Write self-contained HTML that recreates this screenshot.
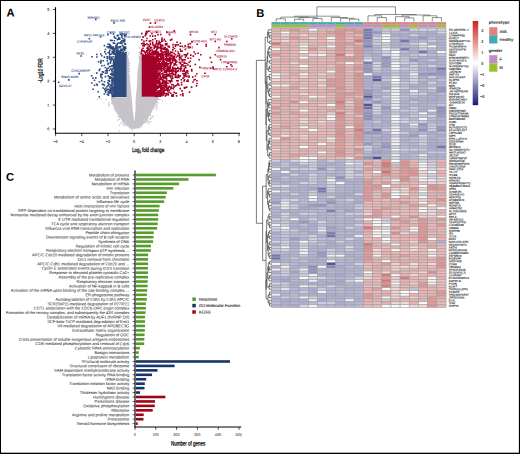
<!DOCTYPE html><html><head><meta charset="utf-8"><style>
html,body{margin:0;padding:0;background:#fff;}
body{width:520px;height:454px;overflow:hidden;position:relative;}
svg{position:absolute;left:0;top:0;}
text{font-family:"Liberation Sans", sans-serif;transform:rotate(0.03deg);text-rendering:geometricPrecision;}
.gp{text-rendering:geometricPrecision;}
</style></head><body>
<svg width="520" height="454" viewBox="0 0 520 454">
<rect x="0" y="0" width="520" height="454" fill="#fff"/>

<text x="6.6" y="16.6" font-size="11.2" font-weight="bold" fill="#000">A</text>
<text x="256.2" y="16.8" font-size="11.2" font-weight="bold" fill="#000">B</text>
<text x="6.2" y="180.8" font-size="11.2" font-weight="bold" fill="#000">C</text>
<polygon fill="#c6c4ca" points="126.6,57.0 127.8,55.0 128.9,60.0 128.9,72.0 130.6,87.0 131.9,100.0 132.7,110.0 134.3,122.0 135.6,110.0 135.5,100.0 136.9,87.0 137.5,72.0 139.3,60.0 140.3,52.0 141.7,51.0 141.7,96.8 157.5,96.8 158.5,98.0 157.5,101.0 155.5,105.0 153.5,108.5 151.8,112.0 149.5,116.0 147.0,120.0 144.0,123.5 141.5,126.0 138.5,128.2 134.3,129.0 130.0,128.2 127.0,126.0 124.5,123.5 121.5,120.0 119.0,116.0 116.5,112.0 114.5,108.5 112.8,105.0 111.2,101.0 110.8,97.2 126.6,97.2"/>
<path fill="#c6c4ca" d="M99.5 98.0h1.2v1.2h-1.2zM96.9 98.7h1.2v1.2h-1.2zM105.7 99.0h1.2v1.2h-1.2zM157.6 98.8h1.2v1.2h-1.2zM159.3 98.9h1.2v1.2h-1.2zM161.9 100.3h1.2v1.2h-1.2zM103.3 101.9h1.2v1.2h-1.2zM108.4 101.9h1.2v1.2h-1.2zM156.1 101.5h1.2v1.2h-1.2zM157.6 102.0h1.2v1.2h-1.2zM108.0 103.3h1.2v1.2h-1.2zM111.0 102.9h1.2v1.2h-1.2zM108.1 104.6h1.2v1.2h-1.2zM156.5 103.8h1.2v1.2h-1.2zM108.4 105.2h1.2v1.2h-1.2zM155.1 105.6h1.2v1.2h-1.2zM156.3 105.2h1.2v1.2h-1.2zM156.4 107.0h1.2v1.2h-1.2zM113.7 108.5h1.2v1.2h-1.2zM154.0 108.4h1.2v1.2h-1.2zM156.0 108.5h1.2v1.2h-1.2zM114.8 109.5h1.2v1.2h-1.2zM114.8 110.3h1.2v1.2h-1.2zM116.1 112.2h1.2v1.2h-1.2zM117.2 114.4h1.2v1.2h-1.2zM149.8 114.8h1.2v1.2h-1.2zM117.5 116.0h1.2v1.2h-1.2zM151.6 116.2h1.2v1.2h-1.2zM152.3 115.5h1.2v1.2h-1.2zM119.0 116.9h1.2v1.2h-1.2zM149.9 117.5h1.2v1.2h-1.2zM151.0 117.4h1.2v1.2h-1.2zM118.8 118.8h1.2v1.2h-1.2zM147.3 118.4h1.2v1.2h-1.2zM149.7 118.8h1.2v1.2h-1.2zM117.2 119.5h1.2v1.2h-1.2zM147.0 119.8h1.2v1.2h-1.2zM121.7 121.3h1.2v1.2h-1.2zM146.4 120.7h1.2v1.2h-1.2zM147.1 121.5h1.2v1.2h-1.2zM149.0 121.2h1.2v1.2h-1.2zM150.0 121.1h1.2v1.2h-1.2zM119.9 122.5h1.2v1.2h-1.2zM122.7 122.5h1.2v1.2h-1.2zM144.9 122.0h1.2v1.2h-1.2zM122.4 123.8h1.2v1.2h-1.2zM147.7 123.3h1.2v1.2h-1.2zM118.9 124.7h1.2v1.2h-1.2zM123.8 125.1h1.2v1.2h-1.2zM125.0 124.6h1.2v1.2h-1.2zM140.7 126.3h1.2v1.2h-1.2zM129.5 127.7h1.2v1.2h-1.2zM138.2 127.2h1.2v1.2h-1.2zM131.6 128.8h1.2v1.2h-1.2zM118.6 130.6h1.2v1.2h-1.2zM131.9 129.9h1.2v1.2h-1.2zM139.3 46.9h1.2v1.2h-1.2zM138.8 47.5h1.2v1.2h-1.2zM126.3 50.8h1.2v1.2h-1.2zM129.0 51.4h1.2v1.2h-1.2zM138.7 51.5h1.2v1.2h-1.2zM139.0 52.3h1.2v1.2h-1.2zM127.8 53.1h1.2v1.2h-1.2zM139.3 53.6h1.2v1.2h-1.2zM127.7 54.0h1.2v1.2h-1.2zM126.7 55.5h1.2v1.2h-1.2zM138.6 55.6h1.2v1.2h-1.2zM126.7 56.4h1.2v1.2h-1.2zM138.6 56.6h1.2v1.2h-1.2zM138.7 57.7h1.2v1.2h-1.2zM140.8 57.4h1.2v1.2h-1.2zM127.7 59.2h1.2v1.2h-1.2zM138.7 58.5h1.2v1.2h-1.2zM140.7 58.8h1.2v1.2h-1.2zM126.3 59.7h1.2v1.2h-1.2zM140.9 59.8h1.2v1.2h-1.2zM126.8 61.2h1.2v1.2h-1.2zM127.4 61.3h1.2v1.2h-1.2zM128.6 62.2h1.2v1.2h-1.2zM139.6 61.7h1.2v1.2h-1.2zM128.8 63.4h1.2v1.2h-1.2zM139.6 63.4h1.2v1.2h-1.2zM140.4 63.2h1.2v1.2h-1.2zM126.8 64.6h1.2v1.2h-1.2zM140.0 64.5h1.2v1.2h-1.2zM128.9 65.4h1.2v1.2h-1.2zM138.4 65.1h1.2v1.2h-1.2zM140.8 66.1h1.2v1.2h-1.2zM128.9 67.9h1.2v1.2h-1.2zM128.5 68.5h1.2v1.2h-1.2zM139.5 69.1h1.2v1.2h-1.2zM141.2 69.0h1.2v1.2h-1.2zM128.3 69.4h1.2v1.2h-1.2zM138.5 70.2h1.2v1.2h-1.2zM127.6 70.6h1.2v1.2h-1.2zM129.1 70.8h1.2v1.2h-1.2zM138.2 71.0h1.2v1.2h-1.2zM141.0 70.7h1.2v1.2h-1.2zM127.6 72.9h1.2v1.2h-1.2zM128.4 72.9h1.2v1.2h-1.2zM127.5 74.1h1.2v1.2h-1.2zM128.6 74.4h1.2v1.2h-1.2zM138.4 74.2h1.2v1.2h-1.2zM127.3 75.1h1.2v1.2h-1.2zM128.9 75.7h1.2v1.2h-1.2zM139.5 75.6h1.2v1.2h-1.2zM127.5 76.5h1.2v1.2h-1.2zM138.3 76.0h1.2v1.2h-1.2zM140.0 76.5h1.2v1.2h-1.2zM126.4 77.8h1.2v1.2h-1.2zM128.6 77.6h1.2v1.2h-1.2zM141.2 77.5h1.2v1.2h-1.2zM128.5 78.2h1.2v1.2h-1.2zM138.3 78.5h1.2v1.2h-1.2zM139.6 78.9h1.2v1.2h-1.2zM140.4 78.9h1.2v1.2h-1.2zM128.7 79.4h1.2v1.2h-1.2zM140.4 80.0h1.2v1.2h-1.2zM126.6 81.1h1.2v1.2h-1.2zM126.5 81.8h1.2v1.2h-1.2zM138.3 81.8h1.2v1.2h-1.2zM139.6 82.6h1.2v1.2h-1.2zM126.1 83.9h1.2v1.2h-1.2zM127.8 83.7h1.2v1.2h-1.2zM129.1 84.4h1.2v1.2h-1.2zM141.1 84.3h1.2v1.2h-1.2zM127.3 85.1h1.2v1.2h-1.2zM128.3 85.1h1.2v1.2h-1.2zM139.6 85.0h1.2v1.2h-1.2zM129.0 86.3h1.2v1.2h-1.2zM139.9 87.2h1.2v1.2h-1.2zM140.5 87.3h1.2v1.2h-1.2zM126.6 88.7h1.2v1.2h-1.2zM128.8 88.8h1.2v1.2h-1.2zM138.3 88.3h1.2v1.2h-1.2zM140.8 88.4h1.2v1.2h-1.2zM138.8 89.8h1.2v1.2h-1.2zM141.2 89.7h1.2v1.2h-1.2zM126.4 90.7h1.2v1.2h-1.2zM128.5 90.6h1.2v1.2h-1.2zM140.8 90.4h1.2v1.2h-1.2zM126.9 91.6h1.2v1.2h-1.2zM139.0 92.2h1.2v1.2h-1.2zM139.6 91.7h1.2v1.2h-1.2zM140.9 92.1h1.2v1.2h-1.2zM128.5 92.9h1.2v1.2h-1.2zM127.4 93.8h1.2v1.2h-1.2zM138.2 93.9h1.2v1.2h-1.2zM141.1 93.7h1.2v1.2h-1.2zM127.9 94.8h1.2v1.2h-1.2zM139.3 95.2h1.2v1.2h-1.2z"/>
<polygon fill="#2d4b7d" points="126.6,97.0 113.6,97.0 113.4,88.0 113.6,76.0 113.8,66.0 114.2,58.0 115.0,55.0 126.6,53.5"/>
<path fill="#2d4b7d" d="M109.8 32.2h1.6v1.6h-1.6zM112.7 33.2h1.6v1.6h-1.6zM119.6 33.4h1.6v1.6h-1.6zM121.5 33.1h1.6v1.6h-1.6zM123.4 33.5h1.6v1.6h-1.6zM125.2 33.6h1.6v1.6h-1.6zM116.5 34.8h1.6v1.6h-1.6zM117.5 34.6h1.6v1.6h-1.6zM120.9 34.6h1.6v1.6h-1.6zM123.7 35.1h1.6v1.6h-1.6zM124.8 34.9h1.6v1.6h-1.6zM113.6 35.7h1.6v1.6h-1.6zM121.1 36.3h1.6v1.6h-1.6zM113.7 37.0h1.6v1.6h-1.6zM114.9 37.4h1.6v1.6h-1.6zM117.8 37.0h1.6v1.6h-1.6zM119.0 37.5h1.6v1.6h-1.6zM116.6 38.8h1.6v1.6h-1.6zM117.8 38.5h1.6v1.6h-1.6zM118.9 38.4h1.6v1.6h-1.6zM123.9 38.6h1.6v1.6h-1.6zM109.8 39.6h1.6v1.6h-1.6zM111.4 39.7h1.6v1.6h-1.6zM113.6 39.9h1.6v1.6h-1.6zM121.2 39.9h1.6v1.6h-1.6zM122.8 39.7h1.6v1.6h-1.6zM123.9 39.9h1.6v1.6h-1.6zM120.2 40.9h1.6v1.6h-1.6zM122.4 41.2h1.6v1.6h-1.6zM123.6 41.0h1.6v1.6h-1.6zM112.6 42.3h1.6v1.6h-1.6zM113.9 42.5h1.6v1.6h-1.6zM117.2 42.4h1.6v1.6h-1.6zM118.8 42.2h1.6v1.6h-1.6zM120.1 42.4h1.6v1.6h-1.6zM121.1 42.4h1.6v1.6h-1.6zM107.2 43.4h1.6v1.6h-1.6zM108.7 43.6h1.6v1.6h-1.6zM116.4 43.3h1.6v1.6h-1.6zM124.0 43.1h1.6v1.6h-1.6zM124.7 43.3h1.6v1.6h-1.6zM103.6 44.8h1.6v1.6h-1.6zM109.0 44.5h1.6v1.6h-1.6zM109.8 44.7h1.6v1.6h-1.6zM115.1 44.8h1.6v1.6h-1.6zM115.9 44.5h1.6v1.6h-1.6zM121.5 44.6h1.6v1.6h-1.6zM106.3 45.9h1.6v1.6h-1.6zM107.2 46.0h1.6v1.6h-1.6zM108.9 45.7h1.6v1.6h-1.6zM110.3 45.8h1.6v1.6h-1.6zM112.3 45.9h1.6v1.6h-1.6zM115.2 46.3h1.6v1.6h-1.6zM116.1 45.8h1.6v1.6h-1.6zM117.3 46.2h1.6v1.6h-1.6zM118.9 46.1h1.6v1.6h-1.6zM119.7 46.1h1.6v1.6h-1.6zM122.7 45.8h1.6v1.6h-1.6zM123.5 46.1h1.6v1.6h-1.6zM124.7 46.2h1.6v1.6h-1.6zM107.6 47.0h1.6v1.6h-1.6zM108.7 47.0h1.6v1.6h-1.6zM110.1 47.4h1.6v1.6h-1.6zM111.1 47.0h1.6v1.6h-1.6zM112.5 47.5h1.6v1.6h-1.6zM114.0 47.6h1.6v1.6h-1.6zM115.1 47.4h1.6v1.6h-1.6zM116.1 47.3h1.6v1.6h-1.6zM118.7 46.9h1.6v1.6h-1.6zM122.6 47.4h1.6v1.6h-1.6zM123.7 47.4h1.6v1.6h-1.6zM125.0 47.6h1.6v1.6h-1.6zM104.7 48.7h1.6v1.6h-1.6zM111.4 48.4h1.6v1.6h-1.6zM112.4 48.6h1.6v1.6h-1.6zM113.4 48.2h1.6v1.6h-1.6zM115.2 48.6h1.6v1.6h-1.6zM117.2 48.4h1.6v1.6h-1.6zM120.1 48.4h1.6v1.6h-1.6zM121.3 48.5h1.6v1.6h-1.6zM122.3 48.6h1.6v1.6h-1.6zM123.8 48.3h1.6v1.6h-1.6zM109.0 49.6h1.6v1.6h-1.6zM112.7 49.8h1.6v1.6h-1.6zM113.5 50.1h1.6v1.6h-1.6zM116.0 49.8h1.6v1.6h-1.6zM117.2 50.0h1.6v1.6h-1.6zM119.1 49.9h1.6v1.6h-1.6zM119.9 49.4h1.6v1.6h-1.6zM121.3 49.9h1.6v1.6h-1.6zM124.0 49.6h1.6v1.6h-1.6zM104.0 51.1h1.6v1.6h-1.6zM108.6 51.2h1.6v1.6h-1.6zM111.4 50.8h1.6v1.6h-1.6zM112.3 51.0h1.6v1.6h-1.6zM113.5 50.7h1.6v1.6h-1.6zM115.2 50.6h1.6v1.6h-1.6zM116.3 50.7h1.6v1.6h-1.6zM117.8 51.3h1.6v1.6h-1.6zM118.5 51.2h1.6v1.6h-1.6zM119.7 51.0h1.6v1.6h-1.6zM122.4 50.7h1.6v1.6h-1.6zM107.4 52.0h1.6v1.6h-1.6zM108.4 52.0h1.6v1.6h-1.6zM111.4 52.4h1.6v1.6h-1.6zM112.5 52.0h1.6v1.6h-1.6zM113.9 52.4h1.6v1.6h-1.6zM115.3 52.5h1.6v1.6h-1.6zM116.3 52.1h1.6v1.6h-1.6zM117.6 52.5h1.6v1.6h-1.6zM119.1 51.9h1.6v1.6h-1.6zM119.7 52.0h1.6v1.6h-1.6zM120.9 52.1h1.6v1.6h-1.6zM122.7 51.9h1.6v1.6h-1.6zM124.0 52.4h1.6v1.6h-1.6zM125.3 51.9h1.6v1.6h-1.6zM95.9 53.7h1.6v1.6h-1.6zM100.0 53.2h1.6v1.6h-1.6zM105.0 53.2h1.6v1.6h-1.6zM109.0 53.6h1.6v1.6h-1.6zM110.2 53.4h1.6v1.6h-1.6zM112.8 53.2h1.6v1.6h-1.6zM113.6 53.4h1.6v1.6h-1.6zM114.7 53.3h1.6v1.6h-1.6zM116.4 53.3h1.6v1.6h-1.6zM117.3 53.3h1.6v1.6h-1.6zM118.7 53.6h1.6v1.6h-1.6zM120.2 53.3h1.6v1.6h-1.6zM121.2 53.2h1.6v1.6h-1.6zM122.8 53.6h1.6v1.6h-1.6zM123.5 53.7h1.6v1.6h-1.6zM124.7 53.8h1.6v1.6h-1.6zM100.9 54.9h1.6v1.6h-1.6zM91.1 55.9h1.6v1.6h-1.6zM96.0 56.2h1.6v1.6h-1.6zM103.6 56.3h1.6v1.6h-1.6zM106.4 55.9h1.6v1.6h-1.6zM108.5 55.6h1.6v1.6h-1.6zM110.2 56.2h1.6v1.6h-1.6zM112.3 55.9h1.6v1.6h-1.6zM106.4 57.4h1.6v1.6h-1.6zM108.5 57.3h1.6v1.6h-1.6zM111.0 57.3h1.6v1.6h-1.6zM108.7 58.5h1.6v1.6h-1.6zM109.8 58.3h1.6v1.6h-1.6zM111.2 58.2h1.6v1.6h-1.6zM112.2 58.4h1.6v1.6h-1.6zM100.2 59.8h1.6v1.6h-1.6zM102.5 59.9h1.6v1.6h-1.6zM106.5 59.8h1.6v1.6h-1.6zM110.3 60.0h1.6v1.6h-1.6zM112.5 59.5h1.6v1.6h-1.6zM97.8 61.0h1.6v1.6h-1.6zM100.2 60.9h1.6v1.6h-1.6zM109.7 61.2h1.6v1.6h-1.6zM112.8 61.1h1.6v1.6h-1.6zM99.9 62.1h1.6v1.6h-1.6zM107.4 62.5h1.6v1.6h-1.6zM109.6 62.5h1.6v1.6h-1.6zM112.7 62.3h1.6v1.6h-1.6zM107.2 63.6h1.6v1.6h-1.6zM112.7 63.7h1.6v1.6h-1.6zM101.0 65.0h1.6v1.6h-1.6zM103.5 64.7h1.6v1.6h-1.6zM111.0 65.0h1.6v1.6h-1.6zM112.6 64.6h1.6v1.6h-1.6zM108.8 65.8h1.6v1.6h-1.6zM109.9 66.0h1.6v1.6h-1.6zM112.4 66.2h1.6v1.6h-1.6zM104.7 66.9h1.6v1.6h-1.6zM107.4 67.5h1.6v1.6h-1.6zM99.0 68.4h1.6v1.6h-1.6zM106.0 68.5h1.6v1.6h-1.6zM109.7 68.2h1.6v1.6h-1.6zM111.4 68.5h1.6v1.6h-1.6zM112.6 68.1h1.6v1.6h-1.6zM98.5 69.6h1.6v1.6h-1.6zM104.8 70.0h1.6v1.6h-1.6zM106.4 69.7h1.6v1.6h-1.6zM108.6 69.7h1.6v1.6h-1.6zM110.9 69.4h1.6v1.6h-1.6zM101.5 70.9h1.6v1.6h-1.6zM102.7 71.3h1.6v1.6h-1.6zM106.2 71.0h1.6v1.6h-1.6zM111.3 70.7h1.6v1.6h-1.6zM112.2 70.7h1.6v1.6h-1.6zM95.9 72.3h1.6v1.6h-1.6zM104.8 72.4h1.6v1.6h-1.6zM106.2 72.1h1.6v1.6h-1.6zM111.1 72.4h1.6v1.6h-1.6zM112.4 72.5h1.6v1.6h-1.6zM100.0 73.5h1.6v1.6h-1.6zM101.4 73.6h1.6v1.6h-1.6zM109.9 73.3h1.6v1.6h-1.6zM111.2 73.2h1.6v1.6h-1.6zM112.8 73.2h1.6v1.6h-1.6zM90.9 75.0h1.6v1.6h-1.6zM100.2 74.8h1.6v1.6h-1.6zM107.4 75.0h1.6v1.6h-1.6zM111.3 74.7h1.6v1.6h-1.6zM112.5 74.9h1.6v1.6h-1.6zM100.1 76.1h1.6v1.6h-1.6zM104.7 75.8h1.6v1.6h-1.6zM108.4 76.1h1.6v1.6h-1.6zM109.9 76.2h1.6v1.6h-1.6zM92.2 77.3h1.6v1.6h-1.6zM95.0 77.1h1.6v1.6h-1.6zM101.3 77.2h1.6v1.6h-1.6zM108.8 77.4h1.6v1.6h-1.6zM109.9 77.3h1.6v1.6h-1.6zM111.2 76.9h1.6v1.6h-1.6zM112.6 77.6h1.6v1.6h-1.6zM111.2 78.7h1.6v1.6h-1.6zM112.5 78.2h1.6v1.6h-1.6zM93.7 79.5h1.6v1.6h-1.6zM101.0 79.8h1.6v1.6h-1.6zM107.5 79.8h1.6v1.6h-1.6zM108.6 79.6h1.6v1.6h-1.6zM111.1 79.5h1.6v1.6h-1.6zM112.7 79.4h1.6v1.6h-1.6zM98.7 81.0h1.6v1.6h-1.6zM103.7 80.9h1.6v1.6h-1.6zM108.9 80.7h1.6v1.6h-1.6zM111.2 81.1h1.6v1.6h-1.6zM112.2 80.9h1.6v1.6h-1.6zM90.9 82.2h1.6v1.6h-1.6zM107.2 82.1h1.6v1.6h-1.6zM111.4 81.9h1.6v1.6h-1.6zM95.9 83.5h1.6v1.6h-1.6zM101.6 83.6h1.6v1.6h-1.6zM102.6 83.5h1.6v1.6h-1.6zM107.8 83.5h1.6v1.6h-1.6zM108.6 83.4h1.6v1.6h-1.6zM110.9 83.6h1.6v1.6h-1.6zM112.7 83.2h1.6v1.6h-1.6zM93.7 84.5h1.6v1.6h-1.6zM96.5 84.5h1.6v1.6h-1.6zM103.5 84.6h1.6v1.6h-1.6zM107.5 84.9h1.6v1.6h-1.6zM109.8 84.4h1.6v1.6h-1.6zM111.3 84.7h1.6v1.6h-1.6zM106.3 85.8h1.6v1.6h-1.6zM109.1 86.1h1.6v1.6h-1.6zM111.1 86.2h1.6v1.6h-1.6zM112.8 85.9h1.6v1.6h-1.6zM102.4 87.2h1.6v1.6h-1.6zM104.9 87.4h1.6v1.6h-1.6zM109.9 87.4h1.6v1.6h-1.6zM111.3 87.6h1.6v1.6h-1.6zM112.5 87.5h1.6v1.6h-1.6zM92.3 88.5h1.6v1.6h-1.6zM103.9 88.6h1.6v1.6h-1.6zM106.5 88.7h1.6v1.6h-1.6zM107.5 88.6h1.6v1.6h-1.6zM108.4 88.7h1.6v1.6h-1.6zM110.0 88.4h1.6v1.6h-1.6zM112.4 88.8h1.6v1.6h-1.6zM104.7 90.0h1.6v1.6h-1.6zM105.9 89.4h1.6v1.6h-1.6zM108.9 89.9h1.6v1.6h-1.6zM110.1 89.7h1.6v1.6h-1.6zM111.1 89.4h1.6v1.6h-1.6zM112.3 89.6h1.6v1.6h-1.6zM97.4 91.0h1.6v1.6h-1.6zM104.8 91.3h1.6v1.6h-1.6zM107.5 91.1h1.6v1.6h-1.6zM109.6 90.9h1.6v1.6h-1.6zM110.9 91.1h1.6v1.6h-1.6zM112.2 91.2h1.6v1.6h-1.6zM107.8 92.0h1.6v1.6h-1.6zM109.0 92.1h1.6v1.6h-1.6zM110.2 92.1h1.6v1.6h-1.6zM112.7 92.0h1.6v1.6h-1.6zM103.5 93.2h1.6v1.6h-1.6zM106.5 93.4h1.6v1.6h-1.6zM107.6 93.8h1.6v1.6h-1.6zM111.2 93.3h1.6v1.6h-1.6zM112.7 93.5h1.6v1.6h-1.6zM107.6 94.4h1.6v1.6h-1.6zM111.4 94.9h1.6v1.6h-1.6zM112.5 94.7h1.6v1.6h-1.6zM98.5 95.9h1.6v1.6h-1.6zM111.5 95.7h1.6v1.6h-1.6zM112.5 96.0h1.6v1.6h-1.6z"/>
<polygon fill="#a50229" points="141.7,96.8 156.0,96.8 157.0,85.0 158.0,70.0 156.5,60.0 154.0,55.5 141.7,54.5"/>
<path fill="#a50229" d="M148.1 30.3h1.6v1.6h-1.6zM173.4 30.1h1.6v1.6h-1.6zM146.1 31.8h1.6v1.6h-1.6zM155.8 31.6h1.6v1.6h-1.6zM166.0 31.3h1.6v1.6h-1.6zM141.0 32.8h1.6v1.6h-1.6zM144.9 32.6h1.6v1.6h-1.6zM145.6 32.8h1.6v1.6h-1.6zM151.2 33.0h1.6v1.6h-1.6zM144.9 33.8h1.6v1.6h-1.6zM157.3 33.8h1.6v1.6h-1.6zM160.0 33.7h1.6v1.6h-1.6zM144.5 34.9h1.6v1.6h-1.6zM149.4 35.2h1.6v1.6h-1.6zM151.9 35.3h1.6v1.6h-1.6zM154.5 35.1h1.6v1.6h-1.6zM142.5 36.3h1.6v1.6h-1.6zM146.2 37.7h1.6v1.6h-1.6zM154.5 38.0h1.6v1.6h-1.6zM161.3 37.4h1.6v1.6h-1.6zM141.1 38.9h1.6v1.6h-1.6zM152.0 38.9h1.6v1.6h-1.6zM161.0 39.1h1.6v1.6h-1.6zM163.5 38.8h1.6v1.6h-1.6zM169.7 39.3h1.6v1.6h-1.6zM171.0 38.6h1.6v1.6h-1.6zM143.1 40.4h1.6v1.6h-1.6zM145.6 39.9h1.6v1.6h-1.6zM148.5 40.3h1.6v1.6h-1.6zM149.9 40.0h1.6v1.6h-1.6zM155.9 40.1h1.6v1.6h-1.6zM158.3 40.4h1.6v1.6h-1.6zM161.2 40.3h1.6v1.6h-1.6zM161.8 40.5h1.6v1.6h-1.6zM164.8 40.4h1.6v1.6h-1.6zM151.9 41.6h1.6v1.6h-1.6zM155.7 41.7h1.6v1.6h-1.6zM158.2 41.7h1.6v1.6h-1.6zM159.7 41.7h1.6v1.6h-1.6zM176.2 41.5h1.6v1.6h-1.6zM191.2 41.1h1.6v1.6h-1.6zM141.0 42.9h1.6v1.6h-1.6zM142.1 42.4h1.6v1.6h-1.6zM143.3 42.6h1.6v1.6h-1.6zM146.0 42.9h1.6v1.6h-1.6zM149.5 42.4h1.6v1.6h-1.6zM151.9 42.9h1.6v1.6h-1.6zM155.7 42.9h1.6v1.6h-1.6zM157.0 42.9h1.6v1.6h-1.6zM158.7 42.5h1.6v1.6h-1.6zM164.7 42.9h1.6v1.6h-1.6zM166.0 42.7h1.6v1.6h-1.6zM179.5 42.5h1.6v1.6h-1.6zM189.5 42.8h1.6v1.6h-1.6zM143.1 44.2h1.6v1.6h-1.6zM144.8 43.9h1.6v1.6h-1.6zM147.2 44.0h1.6v1.6h-1.6zM149.6 44.0h1.6v1.6h-1.6zM152.2 44.1h1.6v1.6h-1.6zM154.6 43.8h1.6v1.6h-1.6zM157.5 43.6h1.6v1.6h-1.6zM159.4 43.8h1.6v1.6h-1.6zM161.2 44.2h1.6v1.6h-1.6zM164.8 44.2h1.6v1.6h-1.6zM166.1 43.6h1.6v1.6h-1.6zM172.2 43.8h1.6v1.6h-1.6zM174.6 43.9h1.6v1.6h-1.6zM175.9 44.2h1.6v1.6h-1.6zM177.5 44.0h1.6v1.6h-1.6zM142.1 45.0h1.6v1.6h-1.6zM143.4 45.2h1.6v1.6h-1.6zM148.4 45.3h1.6v1.6h-1.6zM153.7 45.1h1.6v1.6h-1.6zM154.9 45.0h1.6v1.6h-1.6zM156.9 45.2h1.6v1.6h-1.6zM159.9 45.1h1.6v1.6h-1.6zM162.0 45.0h1.6v1.6h-1.6zM167.3 45.6h1.6v1.6h-1.6zM168.3 45.5h1.6v1.6h-1.6zM174.6 45.3h1.6v1.6h-1.6zM179.4 45.4h1.6v1.6h-1.6zM181.3 45.5h1.6v1.6h-1.6zM184.4 45.1h1.6v1.6h-1.6zM187.5 45.5h1.6v1.6h-1.6zM146.9 46.4h1.6v1.6h-1.6zM149.4 46.4h1.6v1.6h-1.6zM150.8 46.8h1.6v1.6h-1.6zM153.4 46.3h1.6v1.6h-1.6zM154.3 46.2h1.6v1.6h-1.6zM155.7 46.6h1.6v1.6h-1.6zM157.4 46.7h1.6v1.6h-1.6zM158.6 46.8h1.6v1.6h-1.6zM159.7 46.4h1.6v1.6h-1.6zM160.8 46.2h1.6v1.6h-1.6zM163.4 46.8h1.6v1.6h-1.6zM164.5 46.8h1.6v1.6h-1.6zM168.5 46.4h1.6v1.6h-1.6zM172.4 46.6h1.6v1.6h-1.6zM188.2 46.8h1.6v1.6h-1.6zM189.4 46.5h1.6v1.6h-1.6zM142.2 47.4h1.6v1.6h-1.6zM146.3 47.5h1.6v1.6h-1.6zM147.3 47.6h1.6v1.6h-1.6zM149.5 47.9h1.6v1.6h-1.6zM153.4 47.7h1.6v1.6h-1.6zM156.2 47.9h1.6v1.6h-1.6zM157.0 47.6h1.6v1.6h-1.6zM159.8 48.0h1.6v1.6h-1.6zM161.2 47.6h1.6v1.6h-1.6zM161.9 47.9h1.6v1.6h-1.6zM163.7 47.7h1.6v1.6h-1.6zM166.0 47.9h1.6v1.6h-1.6zM173.7 47.7h1.6v1.6h-1.6zM141.0 48.7h1.6v1.6h-1.6zM146.9 49.2h1.6v1.6h-1.6zM148.2 48.8h1.6v1.6h-1.6zM151.2 49.1h1.6v1.6h-1.6zM155.8 49.1h1.6v1.6h-1.6zM160.7 49.1h1.6v1.6h-1.6zM163.1 48.6h1.6v1.6h-1.6zM164.5 48.8h1.6v1.6h-1.6zM165.7 48.9h1.6v1.6h-1.6zM167.0 48.9h1.6v1.6h-1.6zM172.0 49.1h1.6v1.6h-1.6zM179.5 48.6h1.6v1.6h-1.6zM184.6 48.7h1.6v1.6h-1.6zM141.0 49.9h1.6v1.6h-1.6zM142.5 50.0h1.6v1.6h-1.6zM143.2 50.3h1.6v1.6h-1.6zM145.8 50.1h1.6v1.6h-1.6zM146.9 49.9h1.6v1.6h-1.6zM148.8 50.0h1.6v1.6h-1.6zM149.5 49.9h1.6v1.6h-1.6zM151.9 50.4h1.6v1.6h-1.6zM153.2 50.5h1.6v1.6h-1.6zM154.9 50.1h1.6v1.6h-1.6zM155.8 50.1h1.6v1.6h-1.6zM159.8 50.0h1.6v1.6h-1.6zM160.6 50.3h1.6v1.6h-1.6zM165.7 49.9h1.6v1.6h-1.6zM167.5 50.2h1.6v1.6h-1.6zM174.8 50.2h1.6v1.6h-1.6zM179.9 50.5h1.6v1.6h-1.6zM181.2 50.3h1.6v1.6h-1.6zM140.6 51.2h1.6v1.6h-1.6zM143.7 51.2h1.6v1.6h-1.6zM144.9 51.4h1.6v1.6h-1.6zM146.1 51.3h1.6v1.6h-1.6zM148.7 51.5h1.6v1.6h-1.6zM151.2 51.3h1.6v1.6h-1.6zM152.3 51.5h1.6v1.6h-1.6zM153.6 51.3h1.6v1.6h-1.6zM154.8 51.5h1.6v1.6h-1.6zM155.9 51.8h1.6v1.6h-1.6zM157.5 51.2h1.6v1.6h-1.6zM161.1 51.3h1.6v1.6h-1.6zM162.1 51.6h1.6v1.6h-1.6zM163.7 51.1h1.6v1.6h-1.6zM164.6 51.4h1.6v1.6h-1.6zM165.6 51.3h1.6v1.6h-1.6zM167.3 51.4h1.6v1.6h-1.6zM169.6 51.2h1.6v1.6h-1.6zM171.2 51.4h1.6v1.6h-1.6zM172.0 51.7h1.6v1.6h-1.6zM177.3 51.2h1.6v1.6h-1.6zM193.3 51.2h1.6v1.6h-1.6zM140.7 53.0h1.6v1.6h-1.6zM144.6 52.8h1.6v1.6h-1.6zM147.1 52.4h1.6v1.6h-1.6zM148.2 52.9h1.6v1.6h-1.6zM149.7 52.7h1.6v1.6h-1.6zM151.1 52.7h1.6v1.6h-1.6zM152.3 53.1h1.6v1.6h-1.6zM153.8 52.4h1.6v1.6h-1.6zM155.0 53.1h1.6v1.6h-1.6zM156.1 52.8h1.6v1.6h-1.6zM157.4 52.8h1.6v1.6h-1.6zM158.4 52.9h1.6v1.6h-1.6zM159.7 52.9h1.6v1.6h-1.6zM160.6 52.4h1.6v1.6h-1.6zM162.1 53.0h1.6v1.6h-1.6zM164.6 52.7h1.6v1.6h-1.6zM166.2 52.8h1.6v1.6h-1.6zM167.3 52.6h1.6v1.6h-1.6zM168.1 52.8h1.6v1.6h-1.6zM169.8 52.8h1.6v1.6h-1.6zM173.6 52.8h1.6v1.6h-1.6zM177.5 52.9h1.6v1.6h-1.6zM186.9 52.7h1.6v1.6h-1.6zM194.6 53.0h1.6v1.6h-1.6zM197.3 52.5h1.6v1.6h-1.6zM142.2 53.7h1.6v1.6h-1.6zM144.9 53.7h1.6v1.6h-1.6zM145.8 54.0h1.6v1.6h-1.6zM147.4 54.3h1.6v1.6h-1.6zM148.7 53.7h1.6v1.6h-1.6zM149.5 53.8h1.6v1.6h-1.6zM151.0 53.9h1.6v1.6h-1.6zM152.5 54.1h1.6v1.6h-1.6zM153.7 53.8h1.6v1.6h-1.6zM155.6 54.2h1.6v1.6h-1.6zM157.1 54.0h1.6v1.6h-1.6zM158.4 53.9h1.6v1.6h-1.6zM159.7 53.9h1.6v1.6h-1.6zM161.1 53.9h1.6v1.6h-1.6zM162.4 53.9h1.6v1.6h-1.6zM163.3 53.8h1.6v1.6h-1.6zM164.6 53.7h1.6v1.6h-1.6zM166.0 53.7h1.6v1.6h-1.6zM166.9 53.8h1.6v1.6h-1.6zM168.5 54.2h1.6v1.6h-1.6zM171.1 54.2h1.6v1.6h-1.6zM174.8 54.0h1.6v1.6h-1.6zM178.7 53.6h1.6v1.6h-1.6zM183.5 53.9h1.6v1.6h-1.6zM184.6 54.1h1.6v1.6h-1.6zM186.2 53.7h1.6v1.6h-1.6zM190.0 54.3h1.6v1.6h-1.6zM200.0 53.9h1.6v1.6h-1.6zM155.7 55.3h1.6v1.6h-1.6zM157.4 55.4h1.6v1.6h-1.6zM158.3 54.9h1.6v1.6h-1.6zM159.4 55.4h1.6v1.6h-1.6zM160.6 55.6h1.6v1.6h-1.6zM162.2 54.9h1.6v1.6h-1.6zM164.8 55.5h1.6v1.6h-1.6zM165.6 54.9h1.6v1.6h-1.6zM167.3 55.2h1.6v1.6h-1.6zM169.7 55.0h1.6v1.6h-1.6zM171.3 55.5h1.6v1.6h-1.6zM172.4 55.4h1.6v1.6h-1.6zM173.2 55.4h1.6v1.6h-1.6zM176.9 55.1h1.6v1.6h-1.6zM178.8 55.1h1.6v1.6h-1.6zM181.2 55.2h1.6v1.6h-1.6zM185.6 55.1h1.6v1.6h-1.6zM192.5 55.3h1.6v1.6h-1.6zM154.5 56.2h1.6v1.6h-1.6zM155.8 56.3h1.6v1.6h-1.6zM157.4 56.5h1.6v1.6h-1.6zM160.0 56.7h1.6v1.6h-1.6zM161.1 56.7h1.6v1.6h-1.6zM162.4 56.4h1.6v1.6h-1.6zM163.2 56.8h1.6v1.6h-1.6zM165.9 56.2h1.6v1.6h-1.6zM168.7 56.6h1.6v1.6h-1.6zM169.8 56.7h1.6v1.6h-1.6zM172.2 56.8h1.6v1.6h-1.6zM173.6 56.5h1.6v1.6h-1.6zM175.6 56.2h1.6v1.6h-1.6zM178.7 56.8h1.6v1.6h-1.6zM179.9 56.5h1.6v1.6h-1.6zM184.6 56.4h1.6v1.6h-1.6zM209.5 56.8h1.6v1.6h-1.6zM154.7 57.5h1.6v1.6h-1.6zM156.2 58.0h1.6v1.6h-1.6zM157.4 57.4h1.6v1.6h-1.6zM158.8 58.0h1.6v1.6h-1.6zM159.8 57.6h1.6v1.6h-1.6zM160.8 57.5h1.6v1.6h-1.6zM162.3 57.8h1.6v1.6h-1.6zM164.9 58.0h1.6v1.6h-1.6zM165.7 57.5h1.6v1.6h-1.6zM167.1 57.9h1.6v1.6h-1.6zM168.4 57.4h1.6v1.6h-1.6zM169.4 57.9h1.6v1.6h-1.6zM170.7 57.9h1.6v1.6h-1.6zM172.2 57.8h1.6v1.6h-1.6zM173.4 57.9h1.6v1.6h-1.6zM180.0 57.4h1.6v1.6h-1.6zM187.3 57.4h1.6v1.6h-1.6zM189.8 57.4h1.6v1.6h-1.6zM154.8 59.2h1.6v1.6h-1.6zM155.7 59.1h1.6v1.6h-1.6zM156.9 58.6h1.6v1.6h-1.6zM158.3 58.7h1.6v1.6h-1.6zM159.5 58.6h1.6v1.6h-1.6zM160.6 58.9h1.6v1.6h-1.6zM162.3 59.0h1.6v1.6h-1.6zM163.2 58.7h1.6v1.6h-1.6zM165.0 59.2h1.6v1.6h-1.6zM166.0 59.1h1.6v1.6h-1.6zM167.0 59.2h1.6v1.6h-1.6zM168.3 58.8h1.6v1.6h-1.6zM169.7 59.3h1.6v1.6h-1.6zM171.9 58.8h1.6v1.6h-1.6zM173.2 59.1h1.6v1.6h-1.6zM174.7 58.8h1.6v1.6h-1.6zM178.6 58.8h1.6v1.6h-1.6zM180.9 58.8h1.6v1.6h-1.6zM181.9 59.3h1.6v1.6h-1.6zM183.3 58.9h1.6v1.6h-1.6zM184.5 58.9h1.6v1.6h-1.6zM198.4 58.9h1.6v1.6h-1.6zM219.7 58.8h1.6v1.6h-1.6zM154.5 60.4h1.6v1.6h-1.6zM155.8 60.2h1.6v1.6h-1.6zM157.1 59.9h1.6v1.6h-1.6zM158.2 60.5h1.6v1.6h-1.6zM159.5 60.2h1.6v1.6h-1.6zM162.2 60.2h1.6v1.6h-1.6zM163.3 60.5h1.6v1.6h-1.6zM166.2 59.9h1.6v1.6h-1.6zM166.8 60.2h1.6v1.6h-1.6zM168.4 60.5h1.6v1.6h-1.6zM169.3 59.9h1.6v1.6h-1.6zM171.9 60.0h1.6v1.6h-1.6zM174.4 60.3h1.6v1.6h-1.6zM176.0 60.6h1.6v1.6h-1.6zM189.5 60.4h1.6v1.6h-1.6zM154.8 61.8h1.6v1.6h-1.6zM155.6 61.6h1.6v1.6h-1.6zM157.4 61.2h1.6v1.6h-1.6zM158.7 61.7h1.6v1.6h-1.6zM161.0 61.8h1.6v1.6h-1.6zM161.9 61.2h1.6v1.6h-1.6zM163.1 61.1h1.6v1.6h-1.6zM164.8 61.7h1.6v1.6h-1.6zM165.7 61.8h1.6v1.6h-1.6zM169.7 61.6h1.6v1.6h-1.6zM170.7 61.8h1.6v1.6h-1.6zM171.8 61.4h1.6v1.6h-1.6zM174.9 61.3h1.6v1.6h-1.6zM175.8 61.2h1.6v1.6h-1.6zM178.6 61.7h1.6v1.6h-1.6zM179.3 61.5h1.6v1.6h-1.6zM181.2 61.2h1.6v1.6h-1.6zM183.3 61.3h1.6v1.6h-1.6zM188.3 61.7h1.6v1.6h-1.6zM210.7 61.4h1.6v1.6h-1.6zM155.0 62.7h1.6v1.6h-1.6zM155.7 62.8h1.6v1.6h-1.6zM157.4 63.0h1.6v1.6h-1.6zM158.3 62.5h1.6v1.6h-1.6zM159.6 63.0h1.6v1.6h-1.6zM161.0 62.9h1.6v1.6h-1.6zM162.0 62.7h1.6v1.6h-1.6zM163.2 62.9h1.6v1.6h-1.6zM164.4 62.5h1.6v1.6h-1.6zM165.9 62.6h1.6v1.6h-1.6zM167.3 63.1h1.6v1.6h-1.6zM168.6 62.7h1.6v1.6h-1.6zM169.7 62.4h1.6v1.6h-1.6zM170.6 62.9h1.6v1.6h-1.6zM173.3 62.9h1.6v1.6h-1.6zM174.6 63.0h1.6v1.6h-1.6zM179.6 62.9h1.6v1.6h-1.6zM183.4 62.5h1.6v1.6h-1.6zM184.4 62.5h1.6v1.6h-1.6zM185.9 62.7h1.6v1.6h-1.6zM227.3 62.4h1.6v1.6h-1.6zM154.6 64.2h1.6v1.6h-1.6zM155.8 63.7h1.6v1.6h-1.6zM157.5 64.2h1.6v1.6h-1.6zM158.3 63.9h1.6v1.6h-1.6zM159.4 63.8h1.6v1.6h-1.6zM161.1 64.1h1.6v1.6h-1.6zM162.3 63.6h1.6v1.6h-1.6zM163.3 63.8h1.6v1.6h-1.6zM164.6 63.9h1.6v1.6h-1.6zM166.2 64.3h1.6v1.6h-1.6zM167.0 63.9h1.6v1.6h-1.6zM169.8 64.1h1.6v1.6h-1.6zM173.4 64.3h1.6v1.6h-1.6zM174.4 63.7h1.6v1.6h-1.6zM175.7 64.2h1.6v1.6h-1.6zM181.1 63.7h1.6v1.6h-1.6zM182.1 64.1h1.6v1.6h-1.6zM187.2 64.2h1.6v1.6h-1.6zM194.5 63.7h1.6v1.6h-1.6zM154.5 65.3h1.6v1.6h-1.6zM156.0 65.3h1.6v1.6h-1.6zM157.5 65.5h1.6v1.6h-1.6zM158.3 65.0h1.6v1.6h-1.6zM159.9 65.4h1.6v1.6h-1.6zM161.0 65.5h1.6v1.6h-1.6zM162.3 65.5h1.6v1.6h-1.6zM163.6 65.5h1.6v1.6h-1.6zM164.8 65.1h1.6v1.6h-1.6zM166.2 65.6h1.6v1.6h-1.6zM168.7 65.5h1.6v1.6h-1.6zM169.5 64.9h1.6v1.6h-1.6zM180.9 65.3h1.6v1.6h-1.6zM183.2 65.3h1.6v1.6h-1.6zM184.9 65.0h1.6v1.6h-1.6zM189.4 65.3h1.6v1.6h-1.6zM231.2 65.5h1.6v1.6h-1.6zM154.7 66.3h1.6v1.6h-1.6zM155.7 66.6h1.6v1.6h-1.6zM157.1 66.8h1.6v1.6h-1.6zM158.4 66.4h1.6v1.6h-1.6zM159.6 66.7h1.6v1.6h-1.6zM160.7 66.4h1.6v1.6h-1.6zM163.1 66.4h1.6v1.6h-1.6zM164.3 66.8h1.6v1.6h-1.6zM167.2 66.3h1.6v1.6h-1.6zM168.3 66.2h1.6v1.6h-1.6zM169.6 66.6h1.6v1.6h-1.6zM172.1 66.2h1.6v1.6h-1.6zM176.9 66.7h1.6v1.6h-1.6zM179.8 66.2h1.6v1.6h-1.6zM185.0 66.8h1.6v1.6h-1.6zM154.9 67.5h1.6v1.6h-1.6zM157.2 68.0h1.6v1.6h-1.6zM158.4 67.5h1.6v1.6h-1.6zM159.7 67.4h1.6v1.6h-1.6zM161.2 67.7h1.6v1.6h-1.6zM162.3 67.7h1.6v1.6h-1.6zM164.3 67.5h1.6v1.6h-1.6zM166.2 67.6h1.6v1.6h-1.6zM167.5 67.5h1.6v1.6h-1.6zM168.7 68.0h1.6v1.6h-1.6zM169.6 67.5h1.6v1.6h-1.6zM171.9 67.6h1.6v1.6h-1.6zM173.6 67.6h1.6v1.6h-1.6zM174.5 67.6h1.6v1.6h-1.6zM175.8 67.9h1.6v1.6h-1.6zM177.3 67.6h1.6v1.6h-1.6zM178.2 68.0h1.6v1.6h-1.6zM179.5 68.0h1.6v1.6h-1.6zM180.7 67.6h1.6v1.6h-1.6zM183.7 67.5h1.6v1.6h-1.6zM209.9 67.4h1.6v1.6h-1.6zM212.4 67.8h1.6v1.6h-1.6zM154.7 69.1h1.6v1.6h-1.6zM156.2 69.2h1.6v1.6h-1.6zM157.0 68.9h1.6v1.6h-1.6zM158.4 68.8h1.6v1.6h-1.6zM159.5 69.1h1.6v1.6h-1.6zM160.6 69.0h1.6v1.6h-1.6zM162.5 68.8h1.6v1.6h-1.6zM163.7 68.7h1.6v1.6h-1.6zM165.8 69.3h1.6v1.6h-1.6zM167.0 68.8h1.6v1.6h-1.6zM168.5 68.8h1.6v1.6h-1.6zM169.5 69.2h1.6v1.6h-1.6zM171.0 69.3h1.6v1.6h-1.6zM172.5 69.0h1.6v1.6h-1.6zM174.8 69.1h1.6v1.6h-1.6zM180.0 69.0h1.6v1.6h-1.6zM183.3 68.7h1.6v1.6h-1.6zM190.9 68.7h1.6v1.6h-1.6zM155.0 70.1h1.6v1.6h-1.6zM155.9 70.3h1.6v1.6h-1.6zM156.8 70.4h1.6v1.6h-1.6zM160.9 70.5h1.6v1.6h-1.6zM163.7 70.4h1.6v1.6h-1.6zM164.6 69.9h1.6v1.6h-1.6zM165.9 70.4h1.6v1.6h-1.6zM167.3 70.3h1.6v1.6h-1.6zM168.5 70.2h1.6v1.6h-1.6zM169.6 70.5h1.6v1.6h-1.6zM171.2 70.4h1.6v1.6h-1.6zM172.3 70.1h1.6v1.6h-1.6zM173.4 70.4h1.6v1.6h-1.6zM174.8 70.0h1.6v1.6h-1.6zM176.0 70.6h1.6v1.6h-1.6zM177.5 70.1h1.6v1.6h-1.6zM179.8 70.2h1.6v1.6h-1.6zM182.1 70.3h1.6v1.6h-1.6zM183.8 70.3h1.6v1.6h-1.6zM186.1 70.0h1.6v1.6h-1.6zM187.1 70.2h1.6v1.6h-1.6zM191.0 70.1h1.6v1.6h-1.6zM154.9 71.6h1.6v1.6h-1.6zM155.6 71.8h1.6v1.6h-1.6zM158.7 71.2h1.6v1.6h-1.6zM159.4 71.6h1.6v1.6h-1.6zM163.6 71.5h1.6v1.6h-1.6zM164.9 71.5h1.6v1.6h-1.6zM165.8 71.6h1.6v1.6h-1.6zM168.5 71.2h1.6v1.6h-1.6zM171.2 71.5h1.6v1.6h-1.6zM174.6 71.3h1.6v1.6h-1.6zM175.6 71.3h1.6v1.6h-1.6zM184.7 71.8h1.6v1.6h-1.6zM186.1 71.6h1.6v1.6h-1.6zM154.5 72.9h1.6v1.6h-1.6zM157.3 72.4h1.6v1.6h-1.6zM158.7 72.5h1.6v1.6h-1.6zM160.8 73.0h1.6v1.6h-1.6zM162.0 72.6h1.6v1.6h-1.6zM165.9 72.8h1.6v1.6h-1.6zM168.6 73.1h1.6v1.6h-1.6zM169.6 73.0h1.6v1.6h-1.6zM170.8 73.0h1.6v1.6h-1.6zM172.3 72.6h1.6v1.6h-1.6zM174.9 72.7h1.6v1.6h-1.6zM182.2 72.8h1.6v1.6h-1.6zM183.5 73.0h1.6v1.6h-1.6zM184.7 73.0h1.6v1.6h-1.6zM187.2 72.7h1.6v1.6h-1.6zM196.0 73.0h1.6v1.6h-1.6zM154.8 73.7h1.6v1.6h-1.6zM156.1 73.9h1.6v1.6h-1.6zM157.3 73.6h1.6v1.6h-1.6zM158.2 73.9h1.6v1.6h-1.6zM159.6 74.2h1.6v1.6h-1.6zM162.4 74.0h1.6v1.6h-1.6zM163.6 73.7h1.6v1.6h-1.6zM164.8 73.7h1.6v1.6h-1.6zM166.0 74.2h1.6v1.6h-1.6zM167.2 74.1h1.6v1.6h-1.6zM168.4 74.1h1.6v1.6h-1.6zM172.3 73.8h1.6v1.6h-1.6zM173.6 73.8h1.6v1.6h-1.6zM174.9 73.7h1.6v1.6h-1.6zM177.3 74.2h1.6v1.6h-1.6zM183.2 74.1h1.6v1.6h-1.6zM185.0 73.8h1.6v1.6h-1.6zM154.7 75.3h1.6v1.6h-1.6zM155.8 75.0h1.6v1.6h-1.6zM157.2 75.6h1.6v1.6h-1.6zM158.4 75.0h1.6v1.6h-1.6zM159.4 75.3h1.6v1.6h-1.6zM161.9 75.3h1.6v1.6h-1.6zM163.1 75.5h1.6v1.6h-1.6zM164.6 75.4h1.6v1.6h-1.6zM166.2 75.3h1.6v1.6h-1.6zM166.9 75.3h1.6v1.6h-1.6zM168.2 75.0h1.6v1.6h-1.6zM169.5 75.1h1.6v1.6h-1.6zM171.1 75.2h1.6v1.6h-1.6zM175.0 75.3h1.6v1.6h-1.6zM177.5 75.3h1.6v1.6h-1.6zM178.2 74.9h1.6v1.6h-1.6zM179.5 75.1h1.6v1.6h-1.6zM183.2 74.9h1.6v1.6h-1.6zM184.5 75.3h1.6v1.6h-1.6zM186.2 75.6h1.6v1.6h-1.6zM188.2 75.2h1.6v1.6h-1.6zM194.7 75.2h1.6v1.6h-1.6zM154.6 76.6h1.6v1.6h-1.6zM155.9 76.4h1.6v1.6h-1.6zM157.2 76.2h1.6v1.6h-1.6zM159.8 76.4h1.6v1.6h-1.6zM160.9 76.7h1.6v1.6h-1.6zM162.0 76.7h1.6v1.6h-1.6zM163.4 76.8h1.6v1.6h-1.6zM165.0 76.3h1.6v1.6h-1.6zM169.7 76.7h1.6v1.6h-1.6zM172.0 76.8h1.6v1.6h-1.6zM174.5 76.5h1.6v1.6h-1.6zM175.9 76.6h1.6v1.6h-1.6zM177.0 76.7h1.6v1.6h-1.6zM178.1 76.7h1.6v1.6h-1.6zM183.1 76.7h1.6v1.6h-1.6zM188.3 76.5h1.6v1.6h-1.6zM191.9 76.3h1.6v1.6h-1.6zM154.6 77.8h1.6v1.6h-1.6zM156.1 77.4h1.6v1.6h-1.6zM157.0 77.5h1.6v1.6h-1.6zM158.2 77.4h1.6v1.6h-1.6zM159.4 77.9h1.6v1.6h-1.6zM160.8 77.8h1.6v1.6h-1.6zM163.2 77.6h1.6v1.6h-1.6zM165.0 77.5h1.6v1.6h-1.6zM165.8 77.6h1.6v1.6h-1.6zM170.9 78.0h1.6v1.6h-1.6zM171.8 77.4h1.6v1.6h-1.6zM182.1 77.5h1.6v1.6h-1.6zM154.7 79.0h1.6v1.6h-1.6zM157.1 79.2h1.6v1.6h-1.6zM158.6 79.0h1.6v1.6h-1.6zM159.8 78.7h1.6v1.6h-1.6zM160.8 79.0h1.6v1.6h-1.6zM162.0 79.0h1.6v1.6h-1.6zM165.8 79.0h1.6v1.6h-1.6zM170.8 78.9h1.6v1.6h-1.6zM180.6 78.9h1.6v1.6h-1.6zM183.7 79.1h1.6v1.6h-1.6zM187.1 79.2h1.6v1.6h-1.6zM193.1 79.2h1.6v1.6h-1.6zM194.4 78.7h1.6v1.6h-1.6zM156.0 80.5h1.6v1.6h-1.6zM157.1 80.5h1.6v1.6h-1.6zM158.4 80.4h1.6v1.6h-1.6zM162.1 80.4h1.6v1.6h-1.6zM163.2 80.0h1.6v1.6h-1.6zM165.0 80.4h1.6v1.6h-1.6zM166.0 80.1h1.6v1.6h-1.6zM168.2 80.1h1.6v1.6h-1.6zM169.6 80.1h1.6v1.6h-1.6zM171.0 80.5h1.6v1.6h-1.6zM176.0 79.9h1.6v1.6h-1.6zM177.3 80.0h1.6v1.6h-1.6zM183.3 80.2h1.6v1.6h-1.6zM186.0 80.5h1.6v1.6h-1.6zM187.3 80.4h1.6v1.6h-1.6zM196.1 79.9h1.6v1.6h-1.6zM154.9 81.2h1.6v1.6h-1.6zM156.1 81.3h1.6v1.6h-1.6zM156.9 81.2h1.6v1.6h-1.6zM158.2 81.8h1.6v1.6h-1.6zM159.5 81.2h1.6v1.6h-1.6zM161.9 81.2h1.6v1.6h-1.6zM163.6 81.6h1.6v1.6h-1.6zM164.7 81.4h1.6v1.6h-1.6zM165.6 81.7h1.6v1.6h-1.6zM169.5 81.8h1.6v1.6h-1.6zM180.8 81.7h1.6v1.6h-1.6zM192.2 81.2h1.6v1.6h-1.6zM154.4 83.0h1.6v1.6h-1.6zM156.3 82.6h1.6v1.6h-1.6zM157.3 82.7h1.6v1.6h-1.6zM158.4 82.8h1.6v1.6h-1.6zM159.9 82.9h1.6v1.6h-1.6zM161.0 82.5h1.6v1.6h-1.6zM161.9 82.5h1.6v1.6h-1.6zM163.2 82.5h1.6v1.6h-1.6zM165.0 82.4h1.6v1.6h-1.6zM165.6 82.7h1.6v1.6h-1.6zM167.2 82.4h1.6v1.6h-1.6zM177.1 82.5h1.6v1.6h-1.6zM196.2 82.7h1.6v1.6h-1.6zM154.7 84.1h1.6v1.6h-1.6zM158.3 83.9h1.6v1.6h-1.6zM159.6 84.2h1.6v1.6h-1.6zM160.7 84.2h1.6v1.6h-1.6zM162.0 84.3h1.6v1.6h-1.6zM163.7 84.3h1.6v1.6h-1.6zM164.9 83.9h1.6v1.6h-1.6zM165.6 83.7h1.6v1.6h-1.6zM171.1 83.8h1.6v1.6h-1.6zM172.3 83.9h1.6v1.6h-1.6zM176.2 84.2h1.6v1.6h-1.6zM177.1 84.0h1.6v1.6h-1.6zM178.3 84.2h1.6v1.6h-1.6zM180.8 83.8h1.6v1.6h-1.6zM154.4 85.1h1.6v1.6h-1.6zM155.9 84.9h1.6v1.6h-1.6zM157.3 85.3h1.6v1.6h-1.6zM158.4 85.0h1.6v1.6h-1.6zM159.5 84.9h1.6v1.6h-1.6zM160.9 85.0h1.6v1.6h-1.6zM163.2 85.3h1.6v1.6h-1.6zM164.5 85.2h1.6v1.6h-1.6zM166.0 85.0h1.6v1.6h-1.6zM168.5 85.6h1.6v1.6h-1.6zM173.3 85.4h1.6v1.6h-1.6zM174.8 85.1h1.6v1.6h-1.6zM195.7 85.1h1.6v1.6h-1.6zM154.8 86.7h1.6v1.6h-1.6zM156.3 86.8h1.6v1.6h-1.6zM157.0 86.5h1.6v1.6h-1.6zM158.5 86.3h1.6v1.6h-1.6zM159.8 86.2h1.6v1.6h-1.6zM160.6 86.5h1.6v1.6h-1.6zM161.8 86.5h1.6v1.6h-1.6zM163.1 86.7h1.6v1.6h-1.6zM165.0 86.5h1.6v1.6h-1.6zM165.6 86.7h1.6v1.6h-1.6zM167.4 86.5h1.6v1.6h-1.6zM168.1 86.4h1.6v1.6h-1.6zM169.9 86.6h1.6v1.6h-1.6zM170.9 86.2h1.6v1.6h-1.6zM173.2 86.3h1.6v1.6h-1.6zM183.6 86.8h1.6v1.6h-1.6zM184.9 86.7h1.6v1.6h-1.6zM185.9 86.3h1.6v1.6h-1.6zM190.8 86.3h1.6v1.6h-1.6zM154.4 87.6h1.6v1.6h-1.6zM156.2 87.8h1.6v1.6h-1.6zM157.2 87.5h1.6v1.6h-1.6zM159.8 87.5h1.6v1.6h-1.6zM161.1 87.6h1.6v1.6h-1.6zM162.1 87.9h1.6v1.6h-1.6zM163.8 87.8h1.6v1.6h-1.6zM166.0 87.7h1.6v1.6h-1.6zM167.5 87.4h1.6v1.6h-1.6zM170.0 87.9h1.6v1.6h-1.6zM170.7 87.4h1.6v1.6h-1.6zM172.5 88.0h1.6v1.6h-1.6zM179.4 87.8h1.6v1.6h-1.6zM183.8 87.5h1.6v1.6h-1.6zM154.5 88.7h1.6v1.6h-1.6zM155.6 89.0h1.6v1.6h-1.6zM159.8 88.7h1.6v1.6h-1.6zM160.6 88.7h1.6v1.6h-1.6zM161.8 89.1h1.6v1.6h-1.6zM163.6 89.3h1.6v1.6h-1.6zM164.6 89.3h1.6v1.6h-1.6zM166.2 89.1h1.6v1.6h-1.6zM167.0 89.1h1.6v1.6h-1.6zM168.7 89.3h1.6v1.6h-1.6zM154.8 90.0h1.6v1.6h-1.6zM157.4 90.1h1.6v1.6h-1.6zM158.2 90.0h1.6v1.6h-1.6zM159.9 90.2h1.6v1.6h-1.6zM160.6 90.1h1.6v1.6h-1.6zM162.5 89.9h1.6v1.6h-1.6zM163.5 90.0h1.6v1.6h-1.6zM166.9 90.3h1.6v1.6h-1.6zM181.2 90.1h1.6v1.6h-1.6zM156.1 91.6h1.6v1.6h-1.6zM157.2 91.5h1.6v1.6h-1.6zM158.6 91.4h1.6v1.6h-1.6zM159.4 91.8h1.6v1.6h-1.6zM161.1 91.6h1.6v1.6h-1.6zM162.5 91.1h1.6v1.6h-1.6zM163.3 91.6h1.6v1.6h-1.6zM168.5 91.4h1.6v1.6h-1.6zM173.3 91.4h1.6v1.6h-1.6zM188.7 91.3h1.6v1.6h-1.6zM154.7 92.6h1.6v1.6h-1.6zM155.8 92.6h1.6v1.6h-1.6zM157.0 93.0h1.6v1.6h-1.6zM158.5 92.9h1.6v1.6h-1.6zM160.0 92.6h1.6v1.6h-1.6zM160.6 92.6h1.6v1.6h-1.6zM162.3 92.8h1.6v1.6h-1.6zM163.7 92.9h1.6v1.6h-1.6zM165.0 92.7h1.6v1.6h-1.6zM166.1 93.0h1.6v1.6h-1.6zM167.2 92.5h1.6v1.6h-1.6zM169.9 92.5h1.6v1.6h-1.6zM174.7 92.5h1.6v1.6h-1.6zM175.7 92.5h1.6v1.6h-1.6zM182.0 92.8h1.6v1.6h-1.6zM154.5 94.1h1.6v1.6h-1.6zM155.8 93.9h1.6v1.6h-1.6zM157.5 94.0h1.6v1.6h-1.6zM158.5 94.1h1.6v1.6h-1.6zM159.8 94.1h1.6v1.6h-1.6zM160.7 94.1h1.6v1.6h-1.6zM162.4 94.1h1.6v1.6h-1.6zM165.6 94.2h1.6v1.6h-1.6zM167.5 94.1h1.6v1.6h-1.6zM171.0 94.3h1.6v1.6h-1.6zM172.5 93.8h1.6v1.6h-1.6zM179.8 94.0h1.6v1.6h-1.6zM182.0 94.0h1.6v1.6h-1.6zM154.6 95.5h1.6v1.6h-1.6zM156.2 95.6h1.6v1.6h-1.6zM157.1 95.1h1.6v1.6h-1.6zM158.5 95.5h1.6v1.6h-1.6zM159.5 95.4h1.6v1.6h-1.6zM161.1 94.9h1.6v1.6h-1.6zM164.5 95.1h1.6v1.6h-1.6zM171.3 95.5h1.6v1.6h-1.6zM172.3 95.3h1.6v1.6h-1.6zM175.8 95.1h1.6v1.6h-1.6zM182.2 95.0h1.6v1.6h-1.6z"/>
<text x="87.5" y="18.75" font-size="3.2" textLength="12.5" lengthAdjust="spacingAndGlyphs" fill="#34558e" stroke="#34558e" stroke-width="0.1" class="gp">MIR4251</text>
<text x="110.6" y="21.75" font-size="3.2" textLength="14.4" lengthAdjust="spacingAndGlyphs" fill="#34558e" stroke="#34558e" stroke-width="0.1" class="gp">RNU1-94B</text>
<text x="84.2" y="36.15" font-size="3.2" textLength="20.2" lengthAdjust="spacingAndGlyphs" fill="#34558e" stroke="#34558e" stroke-width="0.1" class="gp">RP11-44F14.8</text>
<text x="107.0" y="33.45" font-size="3.2" textLength="8.4" lengthAdjust="spacingAndGlyphs" fill="#34558e" stroke="#34558e" stroke-width="0.1" class="gp">CYBB</text>
<text x="119.0" y="33.45" font-size="3.2" textLength="10.8" lengthAdjust="spacingAndGlyphs" fill="#34558e" stroke="#34558e" stroke-width="0.1" class="gp">MEX3C</text>
<text x="124.0" y="37.75" font-size="3.2" textLength="19.3" lengthAdjust="spacingAndGlyphs" fill="#34558e" stroke="#34558e" stroke-width="0.1" class="gp">CTD-2358P6.1</text>
<text x="77.0" y="42.75" font-size="3.2" textLength="15.3" lengthAdjust="spacingAndGlyphs" fill="#34558e" stroke="#34558e" stroke-width="0.1" class="gp">CYP4F10P</text>
<text x="76.5" y="54.45" font-size="3.2" textLength="8.1" lengthAdjust="spacingAndGlyphs" fill="#34558e" stroke="#34558e" stroke-width="0.1" class="gp">NEBL</text>
<text x="71.2" y="71.75" font-size="3.2" textLength="19.0" lengthAdjust="spacingAndGlyphs" fill="#34558e" stroke="#34558e" stroke-width="0.1" class="gp">CEACAM22P</text>
<text x="61.3" y="78.05" font-size="3.2" textLength="17.4" lengthAdjust="spacingAndGlyphs" fill="#34558e" stroke="#34558e" stroke-width="0.1" class="gp">RNA5-8SP6</text>
<text x="59.0" y="87.05" font-size="3.2" textLength="12.7" lengthAdjust="spacingAndGlyphs" fill="#34558e" stroke="#34558e" stroke-width="0.1" class="gp">IGLV3-27</text>
<path fill="#2d4b7d" d="M95.0 18.6h1.6v1.6h-1.6zM113.2 22.1h1.6v1.6h-1.6zM99.8 36.0h1.6v1.6h-1.6zM107.0 33.8h1.6v1.6h-1.6zM120.7 34.2h1.6v1.6h-1.6zM122.2 38.0h1.6v1.6h-1.6zM88.6 37.9h1.6v1.6h-1.6zM80.4 55.2h1.6v1.6h-1.6zM78.4 72.8h1.6v1.6h-1.6zM68.0 79.1h1.6v1.6h-1.6zM57.9 81.4h1.6v1.6h-1.6z"/>
<text x="143.0" y="21.35" font-size="3.2" textLength="7.7" lengthAdjust="spacingAndGlyphs" fill="#b3224a" stroke="#b3224a" stroke-width="0.1" class="gp">PUS7</text>
<text x="154.2" y="21.35" font-size="3.2" textLength="10.3" lengthAdjust="spacingAndGlyphs" fill="#b3224a" stroke="#b3224a" stroke-width="0.1" class="gp">CEP70</text>
<text x="150.7" y="27.85" font-size="3.2" textLength="12.3" lengthAdjust="spacingAndGlyphs" fill="#b3224a" stroke="#b3224a" stroke-width="0.1" class="gp">SLC6B3</text>
<text x="149.9" y="32.65" font-size="3.2" textLength="11.1" lengthAdjust="spacingAndGlyphs" fill="#b3224a" stroke="#b3224a" stroke-width="0.1" class="gp">CCND1</text>
<text x="166.0" y="33.45" font-size="3.2" textLength="9.8" lengthAdjust="spacingAndGlyphs" fill="#b3224a" stroke="#b3224a" stroke-width="0.1" class="gp">NAPB</text>
<text x="189.2" y="32.95" font-size="3.2" textLength="9.0" lengthAdjust="spacingAndGlyphs" fill="#b3224a" stroke="#b3224a" stroke-width="0.1" class="gp">MYCN</text>
<text x="211.0" y="32.95" font-size="3.2" textLength="6.0" lengthAdjust="spacingAndGlyphs" fill="#b3224a" stroke="#b3224a" stroke-width="0.1" class="gp">WT1</text>
<text x="224.1" y="37.35" font-size="3.2" textLength="13.5" lengthAdjust="spacingAndGlyphs" fill="#b3224a" stroke="#b3224a" stroke-width="0.1" class="gp">SLC6A19</text>
<text x="209.6" y="40.35" font-size="3.2" textLength="11.4" lengthAdjust="spacingAndGlyphs" fill="#b3224a" stroke="#b3224a" stroke-width="0.1" class="gp">WT1-AS</text>
<text x="191.4" y="42.05" font-size="3.2" textLength="15.5" lengthAdjust="spacingAndGlyphs" fill="#b3224a" stroke="#b3224a" stroke-width="0.1" class="gp">HOXB-AS3</text>
<text x="224.1" y="45.75" font-size="3.2" textLength="11.8" lengthAdjust="spacingAndGlyphs" fill="#b3224a" stroke="#b3224a" stroke-width="0.1" class="gp">FAM83A</text>
<text x="182.4" y="48.45" font-size="3.2" textLength="10.8" lengthAdjust="spacingAndGlyphs" fill="#b3224a" stroke="#b3224a" stroke-width="0.1" class="gp">HOXA9</text>
<text x="216.6" y="51.85" font-size="3.2" textLength="18.3" lengthAdjust="spacingAndGlyphs" fill="#b3224a" stroke="#b3224a" stroke-width="0.1" class="gp">FAM83A-AS1</text>
<text x="216.6" y="57.45" font-size="3.2" textLength="10.2" lengthAdjust="spacingAndGlyphs" fill="#b3224a" stroke="#b3224a" stroke-width="0.1" class="gp">GDF15</text>
<text x="221.0" y="63.25" font-size="3.2" textLength="16.2" lengthAdjust="spacingAndGlyphs" fill="#b3224a" stroke="#b3224a" stroke-width="0.1" class="gp">LINC00958</text>
<text x="213.9" y="70.25" font-size="3.2" textLength="23.3" lengthAdjust="spacingAndGlyphs" fill="#b3224a" stroke="#b3224a" stroke-width="0.1" class="gp">RP11-1134I14.2</text>
<text x="201.5" y="69.15" font-size="3.2" textLength="8.4" lengthAdjust="spacingAndGlyphs" fill="#b3224a" stroke="#b3224a" stroke-width="0.1" class="gp">HBG1</text>
<text x="201.5" y="77.45" font-size="3.2" textLength="8.1" lengthAdjust="spacingAndGlyphs" fill="#b3224a" stroke="#b3224a" stroke-width="0.1" class="gp">CFTR</text>
<path fill="#a50229" d="M147.2 30.7h1.6v1.6h-1.6zM205.4 43.7h1.6v1.6h-1.6zM205.4 45.4h1.6v1.6h-1.6zM212.2 66.3h1.6v1.6h-1.6zM149.7 22.3h1.6v1.6h-1.6zM154.5 22.3h1.6v1.6h-1.6zM148.7 26.3h1.6v1.6h-1.6zM145.5 30.7h1.6v1.6h-1.6zM168.7 33.8h1.6v1.6h-1.6zM189.7 33.8h1.6v1.6h-1.6zM214.5 33.7h1.6v1.6h-1.6zM231.0 38.0h1.6v1.6h-1.6zM214.5 40.7h1.6v1.6h-1.6zM196.4 43.4h1.6v1.6h-1.6zM226.0 40.7h1.6v1.6h-1.6zM187.5 43.4h1.6v1.6h-1.6zM218.2 46.8h1.6v1.6h-1.6zM214.5 53.9h1.6v1.6h-1.6zM230.1 64.0h1.6v1.6h-1.6zM226.0 66.0h1.6v1.6h-1.6zM199.1 66.6h1.6v1.6h-1.6zM204.1 72.4h1.6v1.6h-1.6z"/>
<g stroke="#000" fill="none">
<line x1="55.5" y1="7.2" x2="55.5" y2="133.8" stroke-width="1.1"/>
<line x1="54.9" y1="133.3" x2="240" y2="133.3" stroke-width="1.1"/>
<line x1="52.8" y1="129.0" x2="55.5" y2="129.0" stroke-width="0.7"/>
<line x1="52.8" y1="105.1" x2="55.5" y2="105.1" stroke-width="0.7"/>
<line x1="52.8" y1="81.2" x2="55.5" y2="81.2" stroke-width="0.7"/>
<line x1="52.8" y1="57.3" x2="55.5" y2="57.3" stroke-width="0.7"/>
<line x1="52.8" y1="33.4" x2="55.5" y2="33.4" stroke-width="0.7"/>
<line x1="52.8" y1="9.5" x2="55.5" y2="9.5" stroke-width="0.7"/>
<line x1="55.6" y1="133.3" x2="55.6" y2="136.2" stroke-width="0.7"/>
<line x1="81.8" y1="133.3" x2="81.8" y2="136.2" stroke-width="0.7"/>
<line x1="108.0" y1="133.3" x2="108.0" y2="136.2" stroke-width="0.7"/>
<line x1="134.2" y1="133.3" x2="134.2" y2="136.2" stroke-width="0.7"/>
<line x1="160.4" y1="133.3" x2="160.4" y2="136.2" stroke-width="0.7"/>
<line x1="186.6" y1="133.3" x2="186.6" y2="136.2" stroke-width="0.7"/>
<line x1="212.8" y1="133.3" x2="212.8" y2="136.2" stroke-width="0.7"/>
<line x1="239.0" y1="133.3" x2="239.0" y2="136.2" stroke-width="0.7"/>
</g>
<text x="48.3" y="130.3" text-anchor="middle" font-size="3.8" fill="#444" stroke="#444" stroke-width="0.12">0</text>
<text x="48.3" y="106.4" text-anchor="middle" font-size="3.8" fill="#444" stroke="#444" stroke-width="0.12">1</text>
<text x="48.3" y="82.5" text-anchor="middle" font-size="3.8" fill="#444" stroke="#444" stroke-width="0.12">2</text>
<text x="48.3" y="58.7" text-anchor="middle" font-size="3.8" fill="#444" stroke="#444" stroke-width="0.12">3</text>
<text x="48.3" y="34.8" text-anchor="middle" font-size="3.8" fill="#444" stroke="#444" stroke-width="0.12">4</text>
<text x="48.3" y="10.8" text-anchor="middle" font-size="3.8" fill="#444" stroke="#444" stroke-width="0.12">5</text>
<text x="55.6" y="143.0" text-anchor="middle" font-size="3.8" fill="#444" stroke="#444" stroke-width="0.1">−6</text>
<text x="81.8" y="143.0" text-anchor="middle" font-size="3.8" fill="#444" stroke="#444" stroke-width="0.1">−4</text>
<text x="108.0" y="143.0" text-anchor="middle" font-size="3.8" fill="#444" stroke="#444" stroke-width="0.1">−2</text>
<text x="134.2" y="143.0" text-anchor="middle" font-size="3.8" fill="#444" stroke="#444" stroke-width="0.1">0</text>
<text x="160.4" y="143.0" text-anchor="middle" font-size="3.8" fill="#444" stroke="#444" stroke-width="0.1">2</text>
<text x="186.6" y="143.0" text-anchor="middle" font-size="3.8" fill="#444" stroke="#444" stroke-width="0.1">4</text>
<text x="212.8" y="143.0" text-anchor="middle" font-size="3.8" fill="#444" stroke="#444" stroke-width="0.1">6</text>
<text x="239.0" y="143.0" text-anchor="middle" font-size="3.8" fill="#444" stroke="#444" stroke-width="0.1">8</text>
<g transform="translate(42.6 70.4) rotate(-90) scale(0.7 1)"><text text-anchor="middle" font-size="6.4" fill="#1a1a1a" stroke="#1a1a1a" stroke-width="0.32">-Log10 FDR</text></g>
<g transform="translate(148.3 151.9) scale(0.7 1)"><text text-anchor="middle" font-size="6.2" fill="#1a1a1a" stroke="#1a1a1a" stroke-width="0.3">Log<tspan font-size="3.6" dy="1.2">2</tspan><tspan dy="-1.2"> fold change</tspan></text></g>
<g>
<rect x="135.8" y="173.70" width="80.1" height="2.6" fill="#559c2a"/>
<text x="129.4" y="176.35" text-anchor="end" font-size="4" fill="#000" class="gp">Metabolism of proteins</text>
<line x1="132.6" y1="175.00" x2="135" y2="175.00" stroke="#000" stroke-width="0.6"/>
<rect x="135.8" y="178.14" width="52.7" height="2.6" fill="#559c2a"/>
<text x="129.4" y="180.79" text-anchor="end" font-size="4" fill="#000" class="gp">Metabolism of RNA</text>
<line x1="132.6" y1="179.44" x2="135" y2="179.44" stroke="#000" stroke-width="0.6"/>
<rect x="135.8" y="182.58" width="43.2" height="2.6" fill="#559c2a"/>
<text x="129.4" y="185.23" text-anchor="end" font-size="4" fill="#000" class="gp">Metabolism of mRNA</text>
<line x1="132.6" y1="183.88" x2="135" y2="183.88" stroke="#000" stroke-width="0.6"/>
<rect x="135.8" y="187.02" width="37.5" height="2.6" fill="#559c2a"/>
<text x="129.4" y="189.67" text-anchor="end" font-size="4" fill="#000" class="gp">HIV infection</text>
<line x1="132.6" y1="188.32" x2="135" y2="188.32" stroke="#000" stroke-width="0.6"/>
<rect x="135.8" y="191.46" width="31.0" height="2.6" fill="#559c2a"/>
<text x="129.4" y="194.11" text-anchor="end" font-size="4" fill="#000" class="gp">Translation</text>
<line x1="132.6" y1="192.76" x2="135" y2="192.76" stroke="#000" stroke-width="0.6"/>
<rect x="135.8" y="195.90" width="29.9" height="2.6" fill="#559c2a"/>
<text x="129.4" y="198.55" text-anchor="end" font-size="4" fill="#000" class="gp">Metabolism of amino acids and derivatives</text>
<line x1="132.6" y1="197.20" x2="135" y2="197.20" stroke="#000" stroke-width="0.6"/>
<rect x="135.8" y="200.34" width="28.4" height="2.6" fill="#559c2a"/>
<text x="129.4" y="202.99" text-anchor="end" font-size="4" fill="#000" class="gp">Influenza life cycle</text>
<line x1="132.6" y1="201.64" x2="135" y2="201.64" stroke="#000" stroke-width="0.6"/>
<rect x="135.8" y="204.78" width="23.8" height="2.6" fill="#559c2a"/>
<text x="129.4" y="207.43" text-anchor="end" font-size="4" fill="#000" class="gp">Host interactions of HIV factors</text>
<line x1="132.6" y1="206.08" x2="135" y2="206.08" stroke="#000" stroke-width="0.6"/>
<rect x="135.8" y="209.22" width="23.1" height="2.6" fill="#559c2a"/>
<text x="129.4" y="211.87" text-anchor="end" font-size="4" fill="#000" class="gp">SRP-dependent co-translational protein targeting to membrane</text>
<line x1="132.6" y1="210.52" x2="135" y2="210.52" stroke="#000" stroke-width="0.6"/>
<rect x="135.8" y="213.66" width="22.4" height="2.6" fill="#559c2a"/>
<text x="129.4" y="216.31" text-anchor="end" font-size="4" fill="#000" class="gp">Nonsense mediated decay enhanced by the exon junction complex</text>
<line x1="132.6" y1="214.96" x2="135" y2="214.96" stroke="#000" stroke-width="0.6"/>
<rect x="135.8" y="218.10" width="22.4" height="2.6" fill="#559c2a"/>
<text x="129.4" y="220.75" text-anchor="end" font-size="4" fill="#000" class="gp">3' UTR mediated translational regulation</text>
<line x1="132.6" y1="219.40" x2="135" y2="219.40" stroke="#000" stroke-width="0.6"/>
<rect x="135.8" y="222.54" width="21.8" height="2.6" fill="#559c2a"/>
<text x="129.4" y="225.19" text-anchor="end" font-size="4" fill="#000" class="gp">TCA cycle and respiratory electron transport</text>
<line x1="132.6" y1="223.84" x2="135" y2="223.84" stroke="#000" stroke-width="0.6"/>
<rect x="135.8" y="226.98" width="21.3" height="2.6" fill="#559c2a"/>
<text x="129.4" y="229.63" text-anchor="end" font-size="4" fill="#000" class="gp">Influenza viral RNA transcription and replication</text>
<line x1="132.6" y1="228.28" x2="135" y2="228.28" stroke="#000" stroke-width="0.6"/>
<rect x="135.8" y="231.42" width="18.0" height="2.6" fill="#559c2a"/>
<text x="129.4" y="234.07" text-anchor="end" font-size="4" fill="#000" class="gp">Peptide chain elongation</text>
<line x1="132.6" y1="232.72" x2="135" y2="232.72" stroke="#000" stroke-width="0.6"/>
<rect x="135.8" y="235.86" width="17.7" height="2.6" fill="#559c2a"/>
<text x="129.4" y="238.51" text-anchor="end" font-size="4" fill="#000" class="gp">Downstream signaling events of B cell receptor</text>
<line x1="132.6" y1="237.16" x2="135" y2="237.16" stroke="#000" stroke-width="0.6"/>
<rect x="135.8" y="240.30" width="17.3" height="2.6" fill="#559c2a"/>
<text x="129.4" y="242.95" text-anchor="end" font-size="4" fill="#000" class="gp">Synthesis of DNA</text>
<line x1="132.6" y1="241.60" x2="135" y2="241.60" stroke="#000" stroke-width="0.6"/>
<rect x="135.8" y="244.74" width="15.1" height="2.6" fill="#559c2a"/>
<text x="129.4" y="247.39" text-anchor="end" font-size="4" fill="#000" class="gp">Regulation of mitotic cell cycle</text>
<line x1="132.6" y1="246.04" x2="135" y2="246.04" stroke="#000" stroke-width="0.6"/>
<rect x="135.8" y="249.18" width="15.0" height="2.6" fill="#559c2a"/>
<text x="129.4" y="251.83" text-anchor="end" font-size="4" fill="#000" class="gp">Respiratory electron transport ATP synthesis ...</text>
<line x1="132.6" y1="250.48" x2="135" y2="250.48" stroke="#000" stroke-width="0.6"/>
<rect x="135.8" y="253.62" width="12.3" height="2.6" fill="#559c2a"/>
<text x="129.4" y="256.27" text-anchor="end" font-size="4" fill="#000" class="gp">APC/C:Cdc20 mediated degradation of mitotic proteins</text>
<line x1="132.6" y1="254.92" x2="135" y2="254.92" stroke="#000" stroke-width="0.6"/>
<rect x="135.8" y="258.06" width="12.3" height="2.6" fill="#559c2a"/>
<text x="129.4" y="260.71" text-anchor="end" font-size="4" fill="#000" class="gp">Orc1 removal from chromatin</text>
<line x1="132.6" y1="259.36" x2="135" y2="259.36" stroke="#000" stroke-width="0.6"/>
<rect x="135.8" y="262.50" width="12.3" height="2.6" fill="#559c2a"/>
<text x="129.4" y="265.15" text-anchor="end" font-size="4" fill="#000" class="gp">APC/C:Cdh1 mediated degradation of Cdc20 and ...</text>
<line x1="132.6" y1="263.80" x2="135" y2="263.80" stroke="#000" stroke-width="0.6"/>
<rect x="135.8" y="266.94" width="12.1" height="2.6" fill="#559c2a"/>
<text x="129.4" y="269.59" text-anchor="end" font-size="4" fill="#000" class="gp">Cyclin E associated events during G1/S transition</text>
<line x1="132.6" y1="268.24" x2="135" y2="268.24" stroke="#000" stroke-width="0.6"/>
<rect x="135.8" y="271.38" width="12.1" height="2.6" fill="#559c2a"/>
<text x="129.4" y="274.03" text-anchor="end" font-size="4" fill="#000" class="gp">Response to elevated platelet cytosolic Ca2+</text>
<line x1="132.6" y1="272.68" x2="135" y2="272.68" stroke="#000" stroke-width="0.6"/>
<rect x="135.8" y="275.82" width="12.1" height="2.6" fill="#559c2a"/>
<text x="129.4" y="278.47" text-anchor="end" font-size="4" fill="#000" class="gp">Assembly of the pre-replicative complex</text>
<line x1="132.6" y1="277.12" x2="135" y2="277.12" stroke="#000" stroke-width="0.6"/>
<rect x="135.8" y="280.26" width="11.9" height="2.6" fill="#559c2a"/>
<text x="129.4" y="282.91" text-anchor="end" font-size="4" fill="#000" class="gp">Respiratory electron transport</text>
<line x1="132.6" y1="281.56" x2="135" y2="281.56" stroke="#000" stroke-width="0.6"/>
<rect x="135.8" y="284.70" width="11.8" height="2.6" fill="#559c2a"/>
<text x="129.4" y="287.35" text-anchor="end" font-size="4" fill="#000" class="gp">Activation of NF-kappaB in B cells</text>
<line x1="132.6" y1="286.00" x2="135" y2="286.00" stroke="#000" stroke-width="0.6"/>
<rect x="135.8" y="289.14" width="11.4" height="2.6" fill="#559c2a"/>
<text x="129.4" y="291.79" text-anchor="end" font-size="4" fill="#000" class="gp">Activation of the mRNA upon binding of the cap-binding complex ...</text>
<line x1="132.6" y1="290.44" x2="135" y2="290.44" stroke="#000" stroke-width="0.6"/>
<rect x="135.8" y="293.58" width="11.0" height="2.6" fill="#559c2a"/>
<text x="129.4" y="296.23" text-anchor="end" font-size="4" fill="#000" class="gp">ER-phagosome pathway</text>
<line x1="132.6" y1="294.88" x2="135" y2="294.88" stroke="#000" stroke-width="0.6"/>
<rect x="135.8" y="298.02" width="11.0" height="2.6" fill="#559c2a"/>
<text x="129.4" y="300.67" text-anchor="end" font-size="4" fill="#000" class="gp">Autodegradation of Cdh1 by Cdh1:APC/C</text>
<line x1="132.6" y1="299.32" x2="135" y2="299.32" stroke="#000" stroke-width="0.6"/>
<rect x="135.8" y="302.46" width="10.1" height="2.6" fill="#559c2a"/>
<text x="129.4" y="305.11" text-anchor="end" font-size="4" fill="#000" class="gp">SCF(SKP2)-mediated degradation of P27/P21</text>
<line x1="132.6" y1="303.76" x2="135" y2="303.76" stroke="#000" stroke-width="0.6"/>
<rect x="135.8" y="306.90" width="10.1" height="2.6" fill="#559c2a"/>
<text x="129.4" y="309.55" text-anchor="end" font-size="4" fill="#000" class="gp">CDT1 association with the CDC6:ORC:origin complex</text>
<line x1="132.6" y1="308.20" x2="135" y2="308.20" stroke="#000" stroke-width="0.6"/>
<rect x="135.8" y="311.34" width="9.8" height="2.6" fill="#559c2a"/>
<text x="129.4" y="313.99" text-anchor="end" font-size="4" fill="#000" class="gp">Formation of the ternary complex, and subsequently the 43S complex</text>
<line x1="132.6" y1="312.64" x2="135" y2="312.64" stroke="#000" stroke-width="0.6"/>
<rect x="135.8" y="315.78" width="9.2" height="2.6" fill="#559c2a"/>
<text x="129.4" y="318.43" text-anchor="end" font-size="4" fill="#000" class="gp">Destabilization of mRNA by AUF1 (hnRNP D0)</text>
<line x1="132.6" y1="317.08" x2="135" y2="317.08" stroke="#000" stroke-width="0.6"/>
<rect x="135.8" y="320.22" width="9.2" height="2.6" fill="#559c2a"/>
<text x="129.4" y="322.87" text-anchor="end" font-size="4" fill="#000" class="gp">SCF-beta-TrCP mediated degradation of Emi1</text>
<line x1="132.6" y1="321.52" x2="135" y2="321.52" stroke="#000" stroke-width="0.6"/>
<rect x="135.8" y="324.66" width="9.2" height="2.6" fill="#559c2a"/>
<text x="129.4" y="327.31" text-anchor="end" font-size="4" fill="#000" class="gp">Vif-mediated degradation of APOBEC3G</text>
<line x1="132.6" y1="325.96" x2="135" y2="325.96" stroke="#000" stroke-width="0.6"/>
<rect x="135.8" y="329.10" width="9.0" height="2.6" fill="#559c2a"/>
<text x="129.4" y="331.75" text-anchor="end" font-size="4" fill="#000" class="gp">Extracellular matrix organization</text>
<line x1="132.6" y1="330.40" x2="135" y2="330.40" stroke="#000" stroke-width="0.6"/>
<rect x="135.8" y="333.54" width="8.8" height="2.6" fill="#559c2a"/>
<text x="129.4" y="336.19" text-anchor="end" font-size="4" fill="#000" class="gp">Regulation of ODC</text>
<line x1="132.6" y1="334.84" x2="135" y2="334.84" stroke="#000" stroke-width="0.6"/>
<rect x="135.8" y="337.98" width="8.5" height="2.6" fill="#559c2a"/>
<text x="129.4" y="340.63" text-anchor="end" font-size="4" fill="#000" class="gp">Cross presentation of soluble exogenous antigens endosomes</text>
<line x1="132.6" y1="339.28" x2="135" y2="339.28" stroke="#000" stroke-width="0.6"/>
<rect x="135.8" y="342.42" width="8.4" height="2.6" fill="#559c2a"/>
<text x="129.4" y="345.07" text-anchor="end" font-size="4" fill="#000" class="gp">CDK-mediated phosphorylation and removal of Cdc6</text>
<line x1="132.6" y1="343.72" x2="135" y2="343.72" stroke="#000" stroke-width="0.6"/>
<rect x="135.8" y="346.86" width="4.0" height="2.6" fill="#559c2a"/>
<text x="129.4" y="349.51" text-anchor="end" font-size="4" fill="#000" class="gp">Cytosolic tRNA aminoacylation</text>
<line x1="132.6" y1="348.16" x2="135" y2="348.16" stroke="#000" stroke-width="0.6"/>
<rect x="135.8" y="351.30" width="3.0" height="2.6" fill="#559c2a"/>
<text x="129.4" y="353.95" text-anchor="end" font-size="4" fill="#000" class="gp">Basigin interactions</text>
<line x1="132.6" y1="352.60" x2="135" y2="352.60" stroke="#000" stroke-width="0.6"/>
<rect x="135.8" y="355.74" width="3.0" height="2.6" fill="#559c2a"/>
<text x="129.4" y="358.39" text-anchor="end" font-size="4" fill="#000" class="gp">Lipoprotein metabolism</text>
<line x1="132.6" y1="357.04" x2="135" y2="357.04" stroke="#000" stroke-width="0.6"/>
<rect x="135.8" y="360.18" width="94.2" height="2.6" fill="#183468"/>
<text x="129.4" y="362.83" text-anchor="end" font-size="4" fill="#000" class="gp">Structural molecule activity</text>
<line x1="132.6" y1="361.48" x2="135" y2="361.48" stroke="#000" stroke-width="0.6"/>
<rect x="135.8" y="364.62" width="38.8" height="2.6" fill="#183468"/>
<text x="129.4" y="367.27" text-anchor="end" font-size="4" fill="#000" class="gp">Structural constituent of ribosome</text>
<line x1="132.6" y1="365.92" x2="135" y2="365.92" stroke="#000" stroke-width="0.6"/>
<rect x="135.8" y="369.06" width="21.7" height="2.6" fill="#183468"/>
<text x="129.4" y="371.71" text-anchor="end" font-size="4" fill="#000" class="gp">SAM-dependent methyltransferase activity</text>
<line x1="132.6" y1="370.36" x2="135" y2="370.36" stroke="#000" stroke-width="0.6"/>
<rect x="135.8" y="373.50" width="16.2" height="2.6" fill="#183468"/>
<text x="129.4" y="376.15" text-anchor="end" font-size="4" fill="#000" class="gp">Translation factor activity RNA binding</text>
<line x1="132.6" y1="374.80" x2="135" y2="374.80" stroke="#000" stroke-width="0.6"/>
<rect x="135.8" y="377.94" width="10.4" height="2.6" fill="#183468"/>
<text x="129.4" y="380.59" text-anchor="end" font-size="4" fill="#000" class="gp">rRNA binding</text>
<line x1="132.6" y1="379.24" x2="135" y2="379.24" stroke="#000" stroke-width="0.6"/>
<rect x="135.8" y="382.38" width="9.0" height="2.6" fill="#183468"/>
<text x="129.4" y="385.03" text-anchor="end" font-size="4" fill="#000" class="gp">Translation initiation factor activity</text>
<line x1="132.6" y1="383.68" x2="135" y2="383.68" stroke="#000" stroke-width="0.6"/>
<rect x="135.8" y="386.82" width="8.7" height="2.6" fill="#183468"/>
<text x="129.4" y="389.47" text-anchor="end" font-size="4" fill="#000" class="gp">NAD binding</text>
<line x1="132.6" y1="388.12" x2="135" y2="388.12" stroke="#000" stroke-width="0.6"/>
<rect x="135.8" y="391.26" width="4.2" height="2.6" fill="#183468"/>
<text x="129.4" y="393.91" text-anchor="end" font-size="4" fill="#000" class="gp">Thiolester hydrolase activity</text>
<line x1="132.6" y1="392.56" x2="135" y2="392.56" stroke="#000" stroke-width="0.6"/>
<rect x="135.8" y="395.70" width="29.6" height="2.6" fill="#9e0418"/>
<text x="129.4" y="398.35" text-anchor="end" font-size="4" fill="#000" class="gp">Huntingtons disease</text>
<line x1="132.6" y1="397.00" x2="135" y2="397.00" stroke="#000" stroke-width="0.6"/>
<rect x="135.8" y="400.14" width="19.2" height="2.6" fill="#9e0418"/>
<text x="129.4" y="402.79" text-anchor="end" font-size="4" fill="#000" class="gp">Parkinsons disease</text>
<line x1="132.6" y1="401.44" x2="135" y2="401.44" stroke="#000" stroke-width="0.6"/>
<rect x="135.8" y="404.58" width="19.0" height="2.6" fill="#9e0418"/>
<text x="129.4" y="407.23" text-anchor="end" font-size="4" fill="#000" class="gp">Oxidative phosphorylation</text>
<line x1="132.6" y1="405.88" x2="135" y2="405.88" stroke="#000" stroke-width="0.6"/>
<rect x="135.8" y="409.02" width="16.9" height="2.6" fill="#9e0418"/>
<text x="129.4" y="411.67" text-anchor="end" font-size="4" fill="#000" class="gp">Ribosome</text>
<line x1="132.6" y1="410.32" x2="135" y2="410.32" stroke="#000" stroke-width="0.6"/>
<rect x="135.8" y="413.46" width="7.9" height="2.6" fill="#9e0418"/>
<text x="129.4" y="416.11" text-anchor="end" font-size="4" fill="#000" class="gp">Arginine and proline metabolism</text>
<line x1="132.6" y1="414.76" x2="135" y2="414.76" stroke="#000" stroke-width="0.6"/>
<rect x="135.8" y="417.90" width="7.7" height="2.6" fill="#9e0418"/>
<text x="129.4" y="420.55" text-anchor="end" font-size="4" fill="#000" class="gp">Proteasome</text>
<line x1="132.6" y1="419.20" x2="135" y2="419.20" stroke="#000" stroke-width="0.6"/>
<rect x="135.8" y="422.34" width="1.9" height="2.6" fill="#9e0418"/>
<text x="129.4" y="424.99" text-anchor="end" font-size="4" fill="#000" class="gp">Steroid hormone biosynthesis</text>
<line x1="132.6" y1="423.64" x2="135" y2="423.64" stroke="#000" stroke-width="0.6"/>
</g>
<line x1="135" y1="170.4" x2="135" y2="427.5" stroke="#000" stroke-width="1.1"/>
<line x1="134.5" y1="427" x2="241.3" y2="427" stroke="#000" stroke-width="1.1"/>
<line x1="135.0" y1="427" x2="135.0" y2="429.8" stroke="#000" stroke-width="0.7"/>
<text x="135.0" y="436" text-anchor="middle" font-size="3.8" fill="#444" stroke="#444" stroke-width="0.05">0</text>
<line x1="155.8" y1="427" x2="155.8" y2="429.8" stroke="#000" stroke-width="0.7"/>
<text x="155.8" y="436" text-anchor="middle" font-size="3.8" fill="#444" stroke="#444" stroke-width="0.05">100</text>
<line x1="176.6" y1="427" x2="176.6" y2="429.8" stroke="#000" stroke-width="0.7"/>
<text x="176.6" y="436" text-anchor="middle" font-size="3.8" fill="#444" stroke="#444" stroke-width="0.05">200</text>
<line x1="197.4" y1="427" x2="197.4" y2="429.8" stroke="#000" stroke-width="0.7"/>
<text x="197.4" y="436" text-anchor="middle" font-size="3.8" fill="#444" stroke="#444" stroke-width="0.05">300</text>
<line x1="218.2" y1="427" x2="218.2" y2="429.8" stroke="#000" stroke-width="0.7"/>
<text x="218.2" y="436" text-anchor="middle" font-size="3.8" fill="#444" stroke="#444" stroke-width="0.05">400</text>
<line x1="239.0" y1="427" x2="239.0" y2="429.8" stroke="#000" stroke-width="0.7"/>
<text x="239.0" y="436" text-anchor="middle" font-size="3.8" fill="#444" stroke="#444" stroke-width="0.05">500</text>
<g transform="translate(188.1 445.4) scale(0.7 1)"><text text-anchor="middle" font-size="6.4" fill="#1a1a1a" stroke="#1a1a1a" stroke-width="0.32">Number of genes</text></g>
<rect x="192.3" y="297.45" width="3.5" height="3.5" fill="#559c2a"/>
<text x="199.2" y="300.60" font-size="4" fill="#1a1a1a" stroke="#1a1a1a" stroke-width="0.1">Reactome</text>
<rect x="192.3" y="303.85" width="3.5" height="3.5" fill="#183468"/>
<text x="199.2" y="307.00" font-size="4" fill="#1a1a1a" stroke="#1a1a1a" stroke-width="0.1">GO Molecular Function</text>
<rect x="192.3" y="310.25" width="3.5" height="3.5" fill="#9e0418"/>
<text x="199.2" y="313.40" font-size="4" fill="#1a1a1a" stroke="#1a1a1a" stroke-width="0.1">KEGG</text>
<g stroke="#a0a0a0" stroke-width="0.65">
<rect x="271.60" y="28.400" width="9.18" height="2.789" fill="rgb(237,176,176)"/>
<rect x="280.78" y="28.400" width="9.18" height="2.789" fill="rgb(236,171,171)"/>
<rect x="289.96" y="28.400" width="9.18" height="2.789" fill="rgb(230,146,146)"/>
<rect x="299.14" y="28.400" width="9.18" height="2.789" fill="rgb(237,177,177)"/>
<rect x="308.32" y="28.400" width="9.18" height="2.789" fill="rgb(253,246,246)"/>
<rect x="317.50" y="28.400" width="9.18" height="2.789" fill="rgb(238,180,180)"/>
<rect x="326.68" y="28.400" width="9.18" height="2.789" fill="rgb(238,179,179)"/>
<rect x="335.86" y="28.400" width="9.18" height="2.789" fill="rgb(231,149,149)"/>
<rect x="345.04" y="28.400" width="9.18" height="2.789" fill="rgb(230,144,144)"/>
<rect x="354.22" y="28.400" width="9.18" height="2.789" fill="rgb(232,156,156)"/>
<rect x="363.40" y="28.400" width="9.18" height="2.789" fill="rgb(116,116,186)"/>
<rect x="372.58" y="28.400" width="9.18" height="2.789" fill="rgb(181,181,218)"/>
<rect x="381.76" y="28.400" width="9.18" height="2.789" fill="rgb(202,202,229)"/>
<rect x="390.94" y="28.400" width="9.18" height="2.789" fill="rgb(206,206,231)"/>
<rect x="400.12" y="28.400" width="9.18" height="2.789" fill="rgb(144,144,200)"/>
<rect x="409.30" y="28.400" width="9.18" height="2.789" fill="rgb(209,209,232)"/>
<rect x="418.48" y="28.400" width="9.18" height="2.789" fill="rgb(211,211,233)"/>
<rect x="427.66" y="28.400" width="9.18" height="2.789" fill="rgb(214,214,235)"/>
<rect x="436.84" y="28.400" width="9.18" height="2.789" fill="rgb(209,209,232)"/>
<rect x="271.60" y="31.189" width="9.18" height="2.789" fill="rgb(239,184,184)"/>
<rect x="280.78" y="31.189" width="9.18" height="2.789" fill="rgb(253,247,247)"/>
<rect x="289.96" y="31.189" width="9.18" height="2.789" fill="rgb(237,178,178)"/>
<rect x="299.14" y="31.189" width="9.18" height="2.789" fill="rgb(236,174,174)"/>
<rect x="308.32" y="31.189" width="9.18" height="2.789" fill="rgb(240,190,190)"/>
<rect x="317.50" y="31.189" width="9.18" height="2.789" fill="rgb(237,179,179)"/>
<rect x="326.68" y="31.189" width="9.18" height="2.789" fill="rgb(232,157,157)"/>
<rect x="335.86" y="31.189" width="9.18" height="2.789" fill="rgb(230,146,146)"/>
<rect x="345.04" y="31.189" width="9.18" height="2.789" fill="rgb(237,179,179)"/>
<rect x="354.22" y="31.189" width="9.18" height="2.789" fill="rgb(230,147,147)"/>
<rect x="363.40" y="31.189" width="9.18" height="2.789" fill="rgb(122,122,189)"/>
<rect x="372.58" y="31.189" width="9.18" height="2.789" fill="rgb(150,150,203)"/>
<rect x="381.76" y="31.189" width="9.18" height="2.789" fill="rgb(204,204,229)"/>
<rect x="390.94" y="31.189" width="9.18" height="2.789" fill="rgb(180,180,218)"/>
<rect x="400.12" y="31.189" width="9.18" height="2.789" fill="rgb(184,184,220)"/>
<rect x="409.30" y="31.189" width="9.18" height="2.789" fill="rgb(177,177,216)"/>
<rect x="418.48" y="31.189" width="9.18" height="2.789" fill="rgb(178,178,217)"/>
<rect x="427.66" y="31.189" width="9.18" height="2.789" fill="rgb(172,172,214)"/>
<rect x="436.84" y="31.189" width="9.18" height="2.789" fill="rgb(213,213,234)"/>
<rect x="271.60" y="33.978" width="9.18" height="2.789" fill="rgb(238,183,183)"/>
<rect x="280.78" y="33.978" width="9.18" height="2.789" fill="rgb(246,215,215)"/>
<rect x="289.96" y="33.978" width="9.18" height="2.789" fill="rgb(238,183,183)"/>
<rect x="299.14" y="33.978" width="9.18" height="2.789" fill="rgb(246,216,216)"/>
<rect x="308.32" y="33.978" width="9.18" height="2.789" fill="rgb(238,182,182)"/>
<rect x="317.50" y="33.978" width="9.18" height="2.789" fill="rgb(237,175,175)"/>
<rect x="326.68" y="33.978" width="9.18" height="2.789" fill="rgb(237,177,177)"/>
<rect x="335.86" y="33.978" width="9.18" height="2.789" fill="rgb(229,143,143)"/>
<rect x="345.04" y="33.978" width="9.18" height="2.789" fill="rgb(236,174,174)"/>
<rect x="354.22" y="33.978" width="9.18" height="2.789" fill="rgb(239,185,185)"/>
<rect x="363.40" y="33.978" width="9.18" height="2.789" fill="rgb(120,120,188)"/>
<rect x="372.58" y="33.978" width="9.18" height="2.789" fill="rgb(186,186,220)"/>
<rect x="381.76" y="33.978" width="9.18" height="2.789" fill="rgb(255,255,255)"/>
<rect x="390.94" y="33.978" width="9.18" height="2.789" fill="rgb(171,171,213)"/>
<rect x="400.12" y="33.978" width="9.18" height="2.789" fill="rgb(171,171,213)"/>
<rect x="409.30" y="33.978" width="9.18" height="2.789" fill="rgb(209,209,232)"/>
<rect x="418.48" y="33.978" width="9.18" height="2.789" fill="rgb(176,176,216)"/>
<rect x="427.66" y="33.978" width="9.18" height="2.789" fill="rgb(173,173,214)"/>
<rect x="436.84" y="33.978" width="9.18" height="2.789" fill="rgb(180,180,218)"/>
<rect x="271.60" y="36.767" width="9.18" height="2.789" fill="rgb(239,184,184)"/>
<rect x="280.78" y="36.767" width="9.18" height="2.789" fill="rgb(240,191,191)"/>
<rect x="289.96" y="36.767" width="9.18" height="2.789" fill="rgb(231,149,149)"/>
<rect x="299.14" y="36.767" width="9.18" height="2.789" fill="rgb(238,180,180)"/>
<rect x="308.32" y="36.767" width="9.18" height="2.789" fill="rgb(244,209,209)"/>
<rect x="317.50" y="36.767" width="9.18" height="2.789" fill="rgb(237,177,177)"/>
<rect x="326.68" y="36.767" width="9.18" height="2.789" fill="rgb(253,247,247)"/>
<rect x="335.86" y="36.767" width="9.18" height="2.789" fill="rgb(231,150,150)"/>
<rect x="345.04" y="36.767" width="9.18" height="2.789" fill="rgb(239,184,184)"/>
<rect x="354.22" y="36.767" width="9.18" height="2.789" fill="rgb(232,156,156)"/>
<rect x="363.40" y="36.767" width="9.18" height="2.789" fill="rgb(115,115,185)"/>
<rect x="372.58" y="36.767" width="9.18" height="2.789" fill="rgb(212,212,234)"/>
<rect x="381.76" y="36.767" width="9.18" height="2.789" fill="rgb(246,246,251)"/>
<rect x="390.94" y="36.767" width="9.18" height="2.789" fill="rgb(188,188,222)"/>
<rect x="400.12" y="36.767" width="9.18" height="2.789" fill="rgb(177,177,216)"/>
<rect x="409.30" y="36.767" width="9.18" height="2.789" fill="rgb(169,169,212)"/>
<rect x="418.48" y="36.767" width="9.18" height="2.789" fill="rgb(152,152,204)"/>
<rect x="427.66" y="36.767" width="9.18" height="2.789" fill="rgb(183,183,219)"/>
<rect x="436.84" y="36.767" width="9.18" height="2.789" fill="rgb(172,172,214)"/>
<rect x="271.60" y="39.556" width="9.18" height="2.789" fill="rgb(239,188,188)"/>
<rect x="280.78" y="39.556" width="9.18" height="2.789" fill="rgb(245,211,211)"/>
<rect x="289.96" y="39.556" width="9.18" height="2.789" fill="rgb(237,178,178)"/>
<rect x="299.14" y="39.556" width="9.18" height="2.789" fill="rgb(239,186,186)"/>
<rect x="308.32" y="39.556" width="9.18" height="2.789" fill="rgb(238,182,182)"/>
<rect x="317.50" y="39.556" width="9.18" height="2.789" fill="rgb(239,184,184)"/>
<rect x="326.68" y="39.556" width="9.18" height="2.789" fill="rgb(246,217,217)"/>
<rect x="335.86" y="39.556" width="9.18" height="2.789" fill="rgb(232,155,155)"/>
<rect x="345.04" y="39.556" width="9.18" height="2.789" fill="rgb(238,180,180)"/>
<rect x="354.22" y="39.556" width="9.18" height="2.789" fill="rgb(223,117,117)"/>
<rect x="363.40" y="39.556" width="9.18" height="2.789" fill="rgb(144,144,200)"/>
<rect x="372.58" y="39.556" width="9.18" height="2.789" fill="rgb(193,193,224)"/>
<rect x="381.76" y="39.556" width="9.18" height="2.789" fill="rgb(252,252,253)"/>
<rect x="390.94" y="39.556" width="9.18" height="2.789" fill="rgb(173,173,214)"/>
<rect x="400.12" y="39.556" width="9.18" height="2.789" fill="rgb(117,117,186)"/>
<rect x="409.30" y="39.556" width="9.18" height="2.789" fill="rgb(172,172,214)"/>
<rect x="418.48" y="39.556" width="9.18" height="2.789" fill="rgb(180,180,218)"/>
<rect x="427.66" y="39.556" width="9.18" height="2.789" fill="rgb(199,199,227)"/>
<rect x="436.84" y="39.556" width="9.18" height="2.789" fill="rgb(178,178,217)"/>
<rect x="271.60" y="42.345" width="9.18" height="2.789" fill="rgb(223,116,116)"/>
<rect x="280.78" y="42.345" width="9.18" height="2.789" fill="rgb(237,177,177)"/>
<rect x="289.96" y="42.345" width="9.18" height="2.789" fill="rgb(239,185,185)"/>
<rect x="299.14" y="42.345" width="9.18" height="2.789" fill="rgb(246,215,215)"/>
<rect x="308.32" y="42.345" width="9.18" height="2.789" fill="rgb(238,182,182)"/>
<rect x="317.50" y="42.345" width="9.18" height="2.789" fill="rgb(236,172,172)"/>
<rect x="326.68" y="42.345" width="9.18" height="2.789" fill="rgb(239,187,187)"/>
<rect x="335.86" y="42.345" width="9.18" height="2.789" fill="rgb(230,148,148)"/>
<rect x="345.04" y="42.345" width="9.18" height="2.789" fill="rgb(231,152,152)"/>
<rect x="354.22" y="42.345" width="9.18" height="2.789" fill="rgb(238,179,179)"/>
<rect x="363.40" y="42.345" width="9.18" height="2.789" fill="rgb(151,151,203)"/>
<rect x="372.58" y="42.345" width="9.18" height="2.789" fill="rgb(207,207,231)"/>
<rect x="381.76" y="42.345" width="9.18" height="2.789" fill="rgb(208,208,232)"/>
<rect x="390.94" y="42.345" width="9.18" height="2.789" fill="rgb(179,179,217)"/>
<rect x="400.12" y="42.345" width="9.18" height="2.789" fill="rgb(175,175,215)"/>
<rect x="409.30" y="42.345" width="9.18" height="2.789" fill="rgb(206,206,230)"/>
<rect x="418.48" y="42.345" width="9.18" height="2.789" fill="rgb(234,234,245)"/>
<rect x="427.66" y="42.345" width="9.18" height="2.789" fill="rgb(176,176,216)"/>
<rect x="436.84" y="42.345" width="9.18" height="2.789" fill="rgb(174,174,215)"/>
<rect x="271.60" y="45.134" width="9.18" height="2.789" fill="rgb(238,182,182)"/>
<rect x="280.78" y="45.134" width="9.18" height="2.789" fill="rgb(237,178,178)"/>
<rect x="289.96" y="45.134" width="9.18" height="2.789" fill="rgb(238,179,179)"/>
<rect x="299.14" y="45.134" width="9.18" height="2.789" fill="rgb(253,246,246)"/>
<rect x="308.32" y="45.134" width="9.18" height="2.789" fill="rgb(237,176,176)"/>
<rect x="317.50" y="45.134" width="9.18" height="2.789" fill="rgb(240,191,191)"/>
<rect x="326.68" y="45.134" width="9.18" height="2.789" fill="rgb(253,246,246)"/>
<rect x="335.86" y="45.134" width="9.18" height="2.789" fill="rgb(231,149,149)"/>
<rect x="345.04" y="45.134" width="9.18" height="2.789" fill="rgb(238,181,181)"/>
<rect x="354.22" y="45.134" width="9.18" height="2.789" fill="rgb(232,155,155)"/>
<rect x="363.40" y="45.134" width="9.18" height="2.789" fill="rgb(120,120,188)"/>
<rect x="372.58" y="45.134" width="9.18" height="2.789" fill="rgb(184,184,220)"/>
<rect x="381.76" y="45.134" width="9.18" height="2.789" fill="rgb(212,212,234)"/>
<rect x="390.94" y="45.134" width="9.18" height="2.789" fill="rgb(177,177,216)"/>
<rect x="400.12" y="45.134" width="9.18" height="2.789" fill="rgb(181,181,218)"/>
<rect x="409.30" y="45.134" width="9.18" height="2.789" fill="rgb(183,183,219)"/>
<rect x="418.48" y="45.134" width="9.18" height="2.789" fill="rgb(216,216,236)"/>
<rect x="427.66" y="45.134" width="9.18" height="2.789" fill="rgb(249,249,252)"/>
<rect x="436.84" y="45.134" width="9.18" height="2.789" fill="rgb(179,179,217)"/>
<rect x="271.60" y="47.923" width="9.18" height="2.789" fill="rgb(253,248,248)"/>
<rect x="280.78" y="47.923" width="9.18" height="2.789" fill="rgb(238,180,180)"/>
<rect x="289.96" y="47.923" width="9.18" height="2.789" fill="rgb(238,180,180)"/>
<rect x="299.14" y="47.923" width="9.18" height="2.789" fill="rgb(246,214,214)"/>
<rect x="308.32" y="47.923" width="9.18" height="2.789" fill="rgb(230,146,146)"/>
<rect x="317.50" y="47.923" width="9.18" height="2.789" fill="rgb(239,184,184)"/>
<rect x="326.68" y="47.923" width="9.18" height="2.789" fill="rgb(239,184,184)"/>
<rect x="335.86" y="47.923" width="9.18" height="2.789" fill="rgb(230,148,148)"/>
<rect x="345.04" y="47.923" width="9.18" height="2.789" fill="rgb(238,183,183)"/>
<rect x="354.22" y="47.923" width="9.18" height="2.789" fill="rgb(231,150,150)"/>
<rect x="363.40" y="47.923" width="9.18" height="2.789" fill="rgb(167,167,211)"/>
<rect x="372.58" y="47.923" width="9.18" height="2.789" fill="rgb(182,182,219)"/>
<rect x="381.76" y="47.923" width="9.18" height="2.789" fill="rgb(243,243,249)"/>
<rect x="390.94" y="47.923" width="9.18" height="2.789" fill="rgb(206,206,231)"/>
<rect x="400.12" y="47.923" width="9.18" height="2.789" fill="rgb(120,120,188)"/>
<rect x="409.30" y="47.923" width="9.18" height="2.789" fill="rgb(179,179,217)"/>
<rect x="418.48" y="47.923" width="9.18" height="2.789" fill="rgb(203,203,229)"/>
<rect x="427.66" y="47.923" width="9.18" height="2.789" fill="rgb(188,188,222)"/>
<rect x="436.84" y="47.923" width="9.18" height="2.789" fill="rgb(176,176,215)"/>
<rect x="271.60" y="50.712" width="9.18" height="2.789" fill="rgb(237,177,177)"/>
<rect x="280.78" y="50.712" width="9.18" height="2.789" fill="rgb(236,173,173)"/>
<rect x="289.96" y="50.712" width="9.18" height="2.789" fill="rgb(239,183,183)"/>
<rect x="299.14" y="50.712" width="9.18" height="2.789" fill="rgb(253,248,248)"/>
<rect x="308.32" y="50.712" width="9.18" height="2.789" fill="rgb(239,184,184)"/>
<rect x="317.50" y="50.712" width="9.18" height="2.789" fill="rgb(244,208,208)"/>
<rect x="326.68" y="50.712" width="9.18" height="2.789" fill="rgb(238,182,182)"/>
<rect x="335.86" y="50.712" width="9.18" height="2.789" fill="rgb(232,154,154)"/>
<rect x="345.04" y="50.712" width="9.18" height="2.789" fill="rgb(237,175,175)"/>
<rect x="354.22" y="50.712" width="9.18" height="2.789" fill="rgb(230,145,145)"/>
<rect x="363.40" y="50.712" width="9.18" height="2.789" fill="rgb(173,173,214)"/>
<rect x="372.58" y="50.712" width="9.18" height="2.789" fill="rgb(184,184,220)"/>
<rect x="381.76" y="50.712" width="9.18" height="2.789" fill="rgb(208,208,231)"/>
<rect x="390.94" y="50.712" width="9.18" height="2.789" fill="rgb(255,253,253)"/>
<rect x="400.12" y="50.712" width="9.18" height="2.789" fill="rgb(187,187,221)"/>
<rect x="409.30" y="50.712" width="9.18" height="2.789" fill="rgb(175,175,215)"/>
<rect x="418.48" y="50.712" width="9.18" height="2.789" fill="rgb(116,116,186)"/>
<rect x="427.66" y="50.712" width="9.18" height="2.789" fill="rgb(173,173,214)"/>
<rect x="436.84" y="50.712" width="9.18" height="2.789" fill="rgb(244,244,249)"/>
<rect x="271.60" y="53.501" width="9.18" height="2.789" fill="rgb(231,149,149)"/>
<rect x="280.78" y="53.501" width="9.18" height="2.789" fill="rgb(237,178,178)"/>
<rect x="289.96" y="53.501" width="9.18" height="2.789" fill="rgb(238,180,180)"/>
<rect x="299.14" y="53.501" width="9.18" height="2.789" fill="rgb(239,187,187)"/>
<rect x="308.32" y="53.501" width="9.18" height="2.789" fill="rgb(246,216,216)"/>
<rect x="317.50" y="53.501" width="9.18" height="2.789" fill="rgb(252,242,242)"/>
<rect x="326.68" y="53.501" width="9.18" height="2.789" fill="rgb(237,176,176)"/>
<rect x="335.86" y="53.501" width="9.18" height="2.789" fill="rgb(223,116,116)"/>
<rect x="345.04" y="53.501" width="9.18" height="2.789" fill="rgb(245,213,213)"/>
<rect x="354.22" y="53.501" width="9.18" height="2.789" fill="rgb(231,150,150)"/>
<rect x="363.40" y="53.501" width="9.18" height="2.789" fill="rgb(178,178,217)"/>
<rect x="372.58" y="53.501" width="9.18" height="2.789" fill="rgb(169,169,212)"/>
<rect x="381.76" y="53.501" width="9.18" height="2.789" fill="rgb(211,211,233)"/>
<rect x="390.94" y="53.501" width="9.18" height="2.789" fill="rgb(240,240,247)"/>
<rect x="400.12" y="53.501" width="9.18" height="2.789" fill="rgb(179,179,217)"/>
<rect x="409.30" y="53.501" width="9.18" height="2.789" fill="rgb(194,194,224)"/>
<rect x="418.48" y="53.501" width="9.18" height="2.789" fill="rgb(208,208,232)"/>
<rect x="427.66" y="53.501" width="9.18" height="2.789" fill="rgb(185,185,220)"/>
<rect x="436.84" y="53.501" width="9.18" height="2.789" fill="rgb(195,195,225)"/>
<rect x="271.60" y="56.290" width="9.18" height="2.789" fill="rgb(244,206,206)"/>
<rect x="280.78" y="56.290" width="9.18" height="2.789" fill="rgb(237,179,179)"/>
<rect x="289.96" y="56.290" width="9.18" height="2.789" fill="rgb(239,184,184)"/>
<rect x="299.14" y="56.290" width="9.18" height="2.789" fill="rgb(255,255,255)"/>
<rect x="308.32" y="56.290" width="9.18" height="2.789" fill="rgb(237,176,176)"/>
<rect x="317.50" y="56.290" width="9.18" height="2.789" fill="rgb(238,180,180)"/>
<rect x="326.68" y="56.290" width="9.18" height="2.789" fill="rgb(237,178,178)"/>
<rect x="335.86" y="56.290" width="9.18" height="2.789" fill="rgb(231,151,151)"/>
<rect x="345.04" y="56.290" width="9.18" height="2.789" fill="rgb(231,153,153)"/>
<rect x="354.22" y="56.290" width="9.18" height="2.789" fill="rgb(230,146,146)"/>
<rect x="363.40" y="56.290" width="9.18" height="2.789" fill="rgb(202,202,228)"/>
<rect x="372.58" y="56.290" width="9.18" height="2.789" fill="rgb(182,182,219)"/>
<rect x="381.76" y="56.290" width="9.18" height="2.789" fill="rgb(139,139,197)"/>
<rect x="390.94" y="56.290" width="9.18" height="2.789" fill="rgb(238,238,247)"/>
<rect x="400.12" y="56.290" width="9.18" height="2.789" fill="rgb(199,199,227)"/>
<rect x="409.30" y="56.290" width="9.18" height="2.789" fill="rgb(185,185,220)"/>
<rect x="418.48" y="56.290" width="9.18" height="2.789" fill="rgb(169,169,212)"/>
<rect x="427.66" y="56.290" width="9.18" height="2.789" fill="rgb(172,172,214)"/>
<rect x="436.84" y="56.290" width="9.18" height="2.789" fill="rgb(181,181,218)"/>
<rect x="271.60" y="59.079" width="9.18" height="2.789" fill="rgb(238,180,180)"/>
<rect x="280.78" y="59.079" width="9.18" height="2.789" fill="rgb(236,171,171)"/>
<rect x="289.96" y="59.079" width="9.18" height="2.789" fill="rgb(236,173,173)"/>
<rect x="299.14" y="59.079" width="9.18" height="2.789" fill="rgb(237,178,178)"/>
<rect x="308.32" y="59.079" width="9.18" height="2.789" fill="rgb(237,178,178)"/>
<rect x="317.50" y="59.079" width="9.18" height="2.789" fill="rgb(240,189,189)"/>
<rect x="326.68" y="59.079" width="9.18" height="2.789" fill="rgb(239,185,185)"/>
<rect x="335.86" y="59.079" width="9.18" height="2.789" fill="rgb(231,151,151)"/>
<rect x="345.04" y="59.079" width="9.18" height="2.789" fill="rgb(231,150,150)"/>
<rect x="354.22" y="59.079" width="9.18" height="2.789" fill="rgb(232,155,155)"/>
<rect x="363.40" y="59.079" width="9.18" height="2.789" fill="rgb(238,238,247)"/>
<rect x="372.58" y="59.079" width="9.18" height="2.789" fill="rgb(173,173,214)"/>
<rect x="381.76" y="59.079" width="9.18" height="2.789" fill="rgb(153,153,204)"/>
<rect x="390.94" y="59.079" width="9.18" height="2.789" fill="rgb(209,209,232)"/>
<rect x="400.12" y="59.079" width="9.18" height="2.789" fill="rgb(205,205,230)"/>
<rect x="409.30" y="59.079" width="9.18" height="2.789" fill="rgb(146,146,201)"/>
<rect x="418.48" y="59.079" width="9.18" height="2.789" fill="rgb(179,179,217)"/>
<rect x="427.66" y="59.079" width="9.18" height="2.789" fill="rgb(203,203,229)"/>
<rect x="436.84" y="59.079" width="9.18" height="2.789" fill="rgb(176,176,216)"/>
<rect x="271.60" y="61.868" width="9.18" height="2.789" fill="rgb(240,188,188)"/>
<rect x="280.78" y="61.868" width="9.18" height="2.789" fill="rgb(237,178,178)"/>
<rect x="289.96" y="61.868" width="9.18" height="2.789" fill="rgb(244,208,208)"/>
<rect x="299.14" y="61.868" width="9.18" height="2.789" fill="rgb(238,179,179)"/>
<rect x="308.32" y="61.868" width="9.18" height="2.789" fill="rgb(237,179,179)"/>
<rect x="317.50" y="61.868" width="9.18" height="2.789" fill="rgb(238,179,179)"/>
<rect x="326.68" y="61.868" width="9.18" height="2.789" fill="rgb(236,172,172)"/>
<rect x="335.86" y="61.868" width="9.18" height="2.789" fill="rgb(238,180,180)"/>
<rect x="345.04" y="61.868" width="9.18" height="2.789" fill="rgb(255,254,254)"/>
<rect x="354.22" y="61.868" width="9.18" height="2.789" fill="rgb(239,185,185)"/>
<rect x="363.40" y="61.868" width="9.18" height="2.789" fill="rgb(121,121,188)"/>
<rect x="372.58" y="61.868" width="9.18" height="2.789" fill="rgb(212,212,234)"/>
<rect x="381.76" y="61.868" width="9.18" height="2.789" fill="rgb(152,152,203)"/>
<rect x="390.94" y="61.868" width="9.18" height="2.789" fill="rgb(247,247,251)"/>
<rect x="400.12" y="61.868" width="9.18" height="2.789" fill="rgb(208,208,231)"/>
<rect x="409.30" y="61.868" width="9.18" height="2.789" fill="rgb(199,199,227)"/>
<rect x="418.48" y="61.868" width="9.18" height="2.789" fill="rgb(174,174,215)"/>
<rect x="427.66" y="61.868" width="9.18" height="2.789" fill="rgb(169,169,212)"/>
<rect x="436.84" y="61.868" width="9.18" height="2.789" fill="rgb(176,176,216)"/>
<rect x="271.60" y="64.657" width="9.18" height="2.789" fill="rgb(239,187,187)"/>
<rect x="280.78" y="64.657" width="9.18" height="2.789" fill="rgb(238,180,180)"/>
<rect x="289.96" y="64.657" width="9.18" height="2.789" fill="rgb(238,182,182)"/>
<rect x="299.14" y="64.657" width="9.18" height="2.789" fill="rgb(253,253,254)"/>
<rect x="308.32" y="64.657" width="9.18" height="2.789" fill="rgb(237,178,178)"/>
<rect x="317.50" y="64.657" width="9.18" height="2.789" fill="rgb(237,177,177)"/>
<rect x="326.68" y="64.657" width="9.18" height="2.789" fill="rgb(239,187,187)"/>
<rect x="335.86" y="64.657" width="9.18" height="2.789" fill="rgb(231,149,149)"/>
<rect x="345.04" y="64.657" width="9.18" height="2.789" fill="rgb(237,178,178)"/>
<rect x="354.22" y="64.657" width="9.18" height="2.789" fill="rgb(231,151,151)"/>
<rect x="363.40" y="64.657" width="9.18" height="2.789" fill="rgb(152,152,204)"/>
<rect x="372.58" y="64.657" width="9.18" height="2.789" fill="rgb(208,208,231)"/>
<rect x="381.76" y="64.657" width="9.18" height="2.789" fill="rgb(153,153,204)"/>
<rect x="390.94" y="64.657" width="9.18" height="2.789" fill="rgb(244,244,249)"/>
<rect x="400.12" y="64.657" width="9.18" height="2.789" fill="rgb(177,177,216)"/>
<rect x="409.30" y="64.657" width="9.18" height="2.789" fill="rgb(209,209,232)"/>
<rect x="418.48" y="64.657" width="9.18" height="2.789" fill="rgb(182,182,219)"/>
<rect x="427.66" y="64.657" width="9.18" height="2.789" fill="rgb(208,208,232)"/>
<rect x="436.84" y="64.657" width="9.18" height="2.789" fill="rgb(175,175,215)"/>
<rect x="271.60" y="67.446" width="9.18" height="2.789" fill="rgb(239,184,184)"/>
<rect x="280.78" y="67.446" width="9.18" height="2.789" fill="rgb(238,182,182)"/>
<rect x="289.96" y="67.446" width="9.18" height="2.789" fill="rgb(238,183,183)"/>
<rect x="299.14" y="67.446" width="9.18" height="2.789" fill="rgb(245,211,211)"/>
<rect x="308.32" y="67.446" width="9.18" height="2.789" fill="rgb(238,180,180)"/>
<rect x="317.50" y="67.446" width="9.18" height="2.789" fill="rgb(238,181,181)"/>
<rect x="326.68" y="67.446" width="9.18" height="2.789" fill="rgb(238,181,181)"/>
<rect x="335.86" y="67.446" width="9.18" height="2.789" fill="rgb(230,149,149)"/>
<rect x="345.04" y="67.446" width="9.18" height="2.789" fill="rgb(236,174,174)"/>
<rect x="354.22" y="67.446" width="9.18" height="2.789" fill="rgb(229,144,144)"/>
<rect x="363.40" y="67.446" width="9.18" height="2.789" fill="rgb(145,145,200)"/>
<rect x="372.58" y="67.446" width="9.18" height="2.789" fill="rgb(209,209,232)"/>
<rect x="381.76" y="67.446" width="9.18" height="2.789" fill="rgb(176,176,216)"/>
<rect x="390.94" y="67.446" width="9.18" height="2.789" fill="rgb(242,242,249)"/>
<rect x="400.12" y="67.446" width="9.18" height="2.789" fill="rgb(205,205,230)"/>
<rect x="409.30" y="67.446" width="9.18" height="2.789" fill="rgb(203,203,229)"/>
<rect x="418.48" y="67.446" width="9.18" height="2.789" fill="rgb(171,171,213)"/>
<rect x="427.66" y="67.446" width="9.18" height="2.789" fill="rgb(165,165,210)"/>
<rect x="436.84" y="67.446" width="9.18" height="2.789" fill="rgb(118,118,187)"/>
<rect x="271.60" y="70.235" width="9.18" height="2.789" fill="rgb(237,176,176)"/>
<rect x="280.78" y="70.235" width="9.18" height="2.789" fill="rgb(239,185,185)"/>
<rect x="289.96" y="70.235" width="9.18" height="2.789" fill="rgb(237,179,179)"/>
<rect x="299.14" y="70.235" width="9.18" height="2.789" fill="rgb(238,183,183)"/>
<rect x="308.32" y="70.235" width="9.18" height="2.789" fill="rgb(238,180,180)"/>
<rect x="317.50" y="70.235" width="9.18" height="2.789" fill="rgb(239,184,184)"/>
<rect x="326.68" y="70.235" width="9.18" height="2.789" fill="rgb(254,249,249)"/>
<rect x="335.86" y="70.235" width="9.18" height="2.789" fill="rgb(231,150,150)"/>
<rect x="345.04" y="70.235" width="9.18" height="2.789" fill="rgb(240,191,191)"/>
<rect x="354.22" y="70.235" width="9.18" height="2.789" fill="rgb(238,180,180)"/>
<rect x="363.40" y="70.235" width="9.18" height="2.789" fill="rgb(147,147,201)"/>
<rect x="372.58" y="70.235" width="9.18" height="2.789" fill="rgb(194,194,224)"/>
<rect x="381.76" y="70.235" width="9.18" height="2.789" fill="rgb(181,181,218)"/>
<rect x="390.94" y="70.235" width="9.18" height="2.789" fill="rgb(206,206,231)"/>
<rect x="400.12" y="70.235" width="9.18" height="2.789" fill="rgb(179,179,217)"/>
<rect x="409.30" y="70.235" width="9.18" height="2.789" fill="rgb(208,208,232)"/>
<rect x="418.48" y="70.235" width="9.18" height="2.789" fill="rgb(176,176,215)"/>
<rect x="427.66" y="70.235" width="9.18" height="2.789" fill="rgb(172,172,214)"/>
<rect x="436.84" y="70.235" width="9.18" height="2.789" fill="rgb(145,145,200)"/>
<rect x="271.60" y="73.024" width="9.18" height="2.789" fill="rgb(254,250,250)"/>
<rect x="280.78" y="73.024" width="9.18" height="2.789" fill="rgb(243,202,202)"/>
<rect x="289.96" y="73.024" width="9.18" height="2.789" fill="rgb(236,173,173)"/>
<rect x="299.14" y="73.024" width="9.18" height="2.789" fill="rgb(254,250,250)"/>
<rect x="308.32" y="73.024" width="9.18" height="2.789" fill="rgb(238,183,183)"/>
<rect x="317.50" y="73.024" width="9.18" height="2.789" fill="rgb(245,211,211)"/>
<rect x="326.68" y="73.024" width="9.18" height="2.789" fill="rgb(237,178,178)"/>
<rect x="335.86" y="73.024" width="9.18" height="2.789" fill="rgb(231,153,153)"/>
<rect x="345.04" y="73.024" width="9.18" height="2.789" fill="rgb(239,185,185)"/>
<rect x="354.22" y="73.024" width="9.18" height="2.789" fill="rgb(229,141,141)"/>
<rect x="363.40" y="73.024" width="9.18" height="2.789" fill="rgb(248,248,252)"/>
<rect x="372.58" y="73.024" width="9.18" height="2.789" fill="rgb(170,170,212)"/>
<rect x="381.76" y="73.024" width="9.18" height="2.789" fill="rgb(169,169,212)"/>
<rect x="390.94" y="73.024" width="9.18" height="2.789" fill="rgb(202,202,229)"/>
<rect x="400.12" y="73.024" width="9.18" height="2.789" fill="rgb(179,179,217)"/>
<rect x="409.30" y="73.024" width="9.18" height="2.789" fill="rgb(246,246,250)"/>
<rect x="418.48" y="73.024" width="9.18" height="2.789" fill="rgb(146,146,201)"/>
<rect x="427.66" y="73.024" width="9.18" height="2.789" fill="rgb(139,139,197)"/>
<rect x="436.84" y="73.024" width="9.18" height="2.789" fill="rgb(149,149,202)"/>
<rect x="271.60" y="75.813" width="9.18" height="2.789" fill="rgb(253,246,246)"/>
<rect x="280.78" y="75.813" width="9.18" height="2.789" fill="rgb(238,181,181)"/>
<rect x="289.96" y="75.813" width="9.18" height="2.789" fill="rgb(238,183,183)"/>
<rect x="299.14" y="75.813" width="9.18" height="2.789" fill="rgb(245,210,210)"/>
<rect x="308.32" y="75.813" width="9.18" height="2.789" fill="rgb(238,181,181)"/>
<rect x="317.50" y="75.813" width="9.18" height="2.789" fill="rgb(239,186,186)"/>
<rect x="326.68" y="75.813" width="9.18" height="2.789" fill="rgb(238,180,180)"/>
<rect x="335.86" y="75.813" width="9.18" height="2.789" fill="rgb(232,155,155)"/>
<rect x="345.04" y="75.813" width="9.18" height="2.789" fill="rgb(237,177,177)"/>
<rect x="354.22" y="75.813" width="9.18" height="2.789" fill="rgb(230,147,147)"/>
<rect x="363.40" y="75.813" width="9.18" height="2.789" fill="rgb(172,172,214)"/>
<rect x="372.58" y="75.813" width="9.18" height="2.789" fill="rgb(118,118,187)"/>
<rect x="381.76" y="75.813" width="9.18" height="2.789" fill="rgb(184,184,220)"/>
<rect x="390.94" y="75.813" width="9.18" height="2.789" fill="rgb(232,232,243)"/>
<rect x="400.12" y="75.813" width="9.18" height="2.789" fill="rgb(177,177,216)"/>
<rect x="409.30" y="75.813" width="9.18" height="2.789" fill="rgb(215,215,235)"/>
<rect x="418.48" y="75.813" width="9.18" height="2.789" fill="rgb(170,170,212)"/>
<rect x="427.66" y="75.813" width="9.18" height="2.789" fill="rgb(206,206,230)"/>
<rect x="436.84" y="75.813" width="9.18" height="2.789" fill="rgb(170,170,213)"/>
<rect x="271.60" y="78.602" width="9.18" height="2.789" fill="rgb(245,213,213)"/>
<rect x="280.78" y="78.602" width="9.18" height="2.789" fill="rgb(240,192,192)"/>
<rect x="289.96" y="78.602" width="9.18" height="2.789" fill="rgb(240,188,188)"/>
<rect x="299.14" y="78.602" width="9.18" height="2.789" fill="rgb(238,183,183)"/>
<rect x="308.32" y="78.602" width="9.18" height="2.789" fill="rgb(238,180,180)"/>
<rect x="317.50" y="78.602" width="9.18" height="2.789" fill="rgb(245,211,211)"/>
<rect x="326.68" y="78.602" width="9.18" height="2.789" fill="rgb(230,148,148)"/>
<rect x="335.86" y="78.602" width="9.18" height="2.789" fill="rgb(230,144,144)"/>
<rect x="345.04" y="78.602" width="9.18" height="2.789" fill="rgb(237,178,178)"/>
<rect x="354.22" y="78.602" width="9.18" height="2.789" fill="rgb(230,146,146)"/>
<rect x="363.40" y="78.602" width="9.18" height="2.789" fill="rgb(173,173,214)"/>
<rect x="372.58" y="78.602" width="9.18" height="2.789" fill="rgb(83,83,169)"/>
<rect x="381.76" y="78.602" width="9.18" height="2.789" fill="rgb(194,194,225)"/>
<rect x="390.94" y="78.602" width="9.18" height="2.789" fill="rgb(255,255,255)"/>
<rect x="400.12" y="78.602" width="9.18" height="2.789" fill="rgb(182,182,219)"/>
<rect x="409.30" y="78.602" width="9.18" height="2.789" fill="rgb(210,210,233)"/>
<rect x="418.48" y="78.602" width="9.18" height="2.789" fill="rgb(183,183,219)"/>
<rect x="427.66" y="78.602" width="9.18" height="2.789" fill="rgb(176,176,215)"/>
<rect x="436.84" y="78.602" width="9.18" height="2.789" fill="rgb(188,188,222)"/>
<rect x="271.60" y="81.391" width="9.18" height="2.789" fill="rgb(238,183,183)"/>
<rect x="280.78" y="81.391" width="9.18" height="2.789" fill="rgb(238,181,181)"/>
<rect x="289.96" y="81.391" width="9.18" height="2.789" fill="rgb(236,171,171)"/>
<rect x="299.14" y="81.391" width="9.18" height="2.789" fill="rgb(240,190,190)"/>
<rect x="308.32" y="81.391" width="9.18" height="2.789" fill="rgb(238,179,179)"/>
<rect x="317.50" y="81.391" width="9.18" height="2.789" fill="rgb(240,189,189)"/>
<rect x="326.68" y="81.391" width="9.18" height="2.789" fill="rgb(231,152,152)"/>
<rect x="335.86" y="81.391" width="9.18" height="2.789" fill="rgb(231,150,150)"/>
<rect x="345.04" y="81.391" width="9.18" height="2.789" fill="rgb(238,182,182)"/>
<rect x="354.22" y="81.391" width="9.18" height="2.789" fill="rgb(231,149,149)"/>
<rect x="363.40" y="81.391" width="9.18" height="2.789" fill="rgb(174,174,214)"/>
<rect x="372.58" y="81.391" width="9.18" height="2.789" fill="rgb(177,177,216)"/>
<rect x="381.76" y="81.391" width="9.18" height="2.789" fill="rgb(171,171,213)"/>
<rect x="390.94" y="81.391" width="9.18" height="2.789" fill="rgb(241,241,248)"/>
<rect x="400.12" y="81.391" width="9.18" height="2.789" fill="rgb(199,199,227)"/>
<rect x="409.30" y="81.391" width="9.18" height="2.789" fill="rgb(210,210,233)"/>
<rect x="418.48" y="81.391" width="9.18" height="2.789" fill="rgb(171,171,213)"/>
<rect x="427.66" y="81.391" width="9.18" height="2.789" fill="rgb(210,210,233)"/>
<rect x="436.84" y="81.391" width="9.18" height="2.789" fill="rgb(175,175,215)"/>
<rect x="271.60" y="84.180" width="9.18" height="2.789" fill="rgb(254,250,250)"/>
<rect x="280.78" y="84.180" width="9.18" height="2.789" fill="rgb(252,243,243)"/>
<rect x="289.96" y="84.180" width="9.18" height="2.789" fill="rgb(238,180,180)"/>
<rect x="299.14" y="84.180" width="9.18" height="2.789" fill="rgb(240,189,189)"/>
<rect x="308.32" y="84.180" width="9.18" height="2.789" fill="rgb(237,179,179)"/>
<rect x="317.50" y="84.180" width="9.18" height="2.789" fill="rgb(248,225,225)"/>
<rect x="326.68" y="84.180" width="9.18" height="2.789" fill="rgb(230,148,148)"/>
<rect x="335.86" y="84.180" width="9.18" height="2.789" fill="rgb(231,151,151)"/>
<rect x="345.04" y="84.180" width="9.18" height="2.789" fill="rgb(239,187,187)"/>
<rect x="354.22" y="84.180" width="9.18" height="2.789" fill="rgb(231,149,149)"/>
<rect x="363.40" y="84.180" width="9.18" height="2.789" fill="rgb(176,176,216)"/>
<rect x="372.58" y="84.180" width="9.18" height="2.789" fill="rgb(188,188,222)"/>
<rect x="381.76" y="84.180" width="9.18" height="2.789" fill="rgb(175,175,215)"/>
<rect x="390.94" y="84.180" width="9.18" height="2.789" fill="rgb(217,217,236)"/>
<rect x="400.12" y="84.180" width="9.18" height="2.789" fill="rgb(185,185,220)"/>
<rect x="409.30" y="84.180" width="9.18" height="2.789" fill="rgb(174,174,215)"/>
<rect x="418.48" y="84.180" width="9.18" height="2.789" fill="rgb(173,173,214)"/>
<rect x="427.66" y="84.180" width="9.18" height="2.789" fill="rgb(185,185,220)"/>
<rect x="436.84" y="84.180" width="9.18" height="2.789" fill="rgb(177,177,216)"/>
<rect x="271.60" y="86.969" width="9.18" height="2.789" fill="rgb(238,180,180)"/>
<rect x="280.78" y="86.969" width="9.18" height="2.789" fill="rgb(238,182,182)"/>
<rect x="289.96" y="86.969" width="9.18" height="2.789" fill="rgb(232,155,155)"/>
<rect x="299.14" y="86.969" width="9.18" height="2.789" fill="rgb(246,214,214)"/>
<rect x="308.32" y="86.969" width="9.18" height="2.789" fill="rgb(239,185,185)"/>
<rect x="317.50" y="86.969" width="9.18" height="2.789" fill="rgb(240,188,188)"/>
<rect x="326.68" y="86.969" width="9.18" height="2.789" fill="rgb(238,182,182)"/>
<rect x="335.86" y="86.969" width="9.18" height="2.789" fill="rgb(229,141,141)"/>
<rect x="345.04" y="86.969" width="9.18" height="2.789" fill="rgb(236,174,174)"/>
<rect x="354.22" y="86.969" width="9.18" height="2.789" fill="rgb(231,150,150)"/>
<rect x="363.40" y="86.969" width="9.18" height="2.789" fill="rgb(178,178,217)"/>
<rect x="372.58" y="86.969" width="9.18" height="2.789" fill="rgb(180,180,218)"/>
<rect x="381.76" y="86.969" width="9.18" height="2.789" fill="rgb(155,155,205)"/>
<rect x="390.94" y="86.969" width="9.18" height="2.789" fill="rgb(244,244,250)"/>
<rect x="400.12" y="86.969" width="9.18" height="2.789" fill="rgb(204,204,230)"/>
<rect x="409.30" y="86.969" width="9.18" height="2.789" fill="rgb(176,176,215)"/>
<rect x="418.48" y="86.969" width="9.18" height="2.789" fill="rgb(184,184,219)"/>
<rect x="427.66" y="86.969" width="9.18" height="2.789" fill="rgb(220,220,238)"/>
<rect x="436.84" y="86.969" width="9.18" height="2.789" fill="rgb(144,144,200)"/>
<rect x="271.60" y="89.758" width="9.18" height="2.789" fill="rgb(240,190,190)"/>
<rect x="280.78" y="89.758" width="9.18" height="2.789" fill="rgb(237,177,177)"/>
<rect x="289.96" y="89.758" width="9.18" height="2.789" fill="rgb(238,181,181)"/>
<rect x="299.14" y="89.758" width="9.18" height="2.789" fill="rgb(238,180,180)"/>
<rect x="308.32" y="89.758" width="9.18" height="2.789" fill="rgb(237,175,175)"/>
<rect x="317.50" y="89.758" width="9.18" height="2.789" fill="rgb(238,181,181)"/>
<rect x="326.68" y="89.758" width="9.18" height="2.789" fill="rgb(232,156,156)"/>
<rect x="335.86" y="89.758" width="9.18" height="2.789" fill="rgb(233,158,158)"/>
<rect x="345.04" y="89.758" width="9.18" height="2.789" fill="rgb(238,181,181)"/>
<rect x="354.22" y="89.758" width="9.18" height="2.789" fill="rgb(232,155,155)"/>
<rect x="363.40" y="89.758" width="9.18" height="2.789" fill="rgb(149,149,202)"/>
<rect x="372.58" y="89.758" width="9.18" height="2.789" fill="rgb(171,171,213)"/>
<rect x="381.76" y="89.758" width="9.18" height="2.789" fill="rgb(205,205,230)"/>
<rect x="390.94" y="89.758" width="9.18" height="2.789" fill="rgb(235,235,245)"/>
<rect x="400.12" y="89.758" width="9.18" height="2.789" fill="rgb(176,176,216)"/>
<rect x="409.30" y="89.758" width="9.18" height="2.789" fill="rgb(240,240,248)"/>
<rect x="418.48" y="89.758" width="9.18" height="2.789" fill="rgb(181,181,218)"/>
<rect x="427.66" y="89.758" width="9.18" height="2.789" fill="rgb(185,185,220)"/>
<rect x="436.84" y="89.758" width="9.18" height="2.789" fill="rgb(146,146,201)"/>
<rect x="271.60" y="92.547" width="9.18" height="2.789" fill="rgb(239,185,185)"/>
<rect x="280.78" y="92.547" width="9.18" height="2.789" fill="rgb(236,172,172)"/>
<rect x="289.96" y="92.547" width="9.18" height="2.789" fill="rgb(238,179,179)"/>
<rect x="299.14" y="92.547" width="9.18" height="2.789" fill="rgb(245,210,210)"/>
<rect x="308.32" y="92.547" width="9.18" height="2.789" fill="rgb(237,178,178)"/>
<rect x="317.50" y="92.547" width="9.18" height="2.789" fill="rgb(236,174,174)"/>
<rect x="326.68" y="92.547" width="9.18" height="2.789" fill="rgb(237,176,176)"/>
<rect x="335.86" y="92.547" width="9.18" height="2.789" fill="rgb(230,146,146)"/>
<rect x="345.04" y="92.547" width="9.18" height="2.789" fill="rgb(230,146,146)"/>
<rect x="354.22" y="92.547" width="9.18" height="2.789" fill="rgb(232,153,153)"/>
<rect x="363.40" y="92.547" width="9.18" height="2.789" fill="rgb(144,144,200)"/>
<rect x="372.58" y="92.547" width="9.18" height="2.789" fill="rgb(177,177,216)"/>
<rect x="381.76" y="92.547" width="9.18" height="2.789" fill="rgb(178,178,217)"/>
<rect x="390.94" y="92.547" width="9.18" height="2.789" fill="rgb(243,243,249)"/>
<rect x="400.12" y="92.547" width="9.18" height="2.789" fill="rgb(179,179,217)"/>
<rect x="409.30" y="92.547" width="9.18" height="2.789" fill="rgb(207,207,231)"/>
<rect x="418.48" y="92.547" width="9.18" height="2.789" fill="rgb(204,204,230)"/>
<rect x="427.66" y="92.547" width="9.18" height="2.789" fill="rgb(169,169,212)"/>
<rect x="436.84" y="92.547" width="9.18" height="2.789" fill="rgb(182,182,219)"/>
<rect x="271.60" y="95.336" width="9.18" height="2.789" fill="rgb(253,246,246)"/>
<rect x="280.78" y="95.336" width="9.18" height="2.789" fill="rgb(239,185,185)"/>
<rect x="289.96" y="95.336" width="9.18" height="2.789" fill="rgb(237,179,179)"/>
<rect x="299.14" y="95.336" width="9.18" height="2.789" fill="rgb(238,179,179)"/>
<rect x="308.32" y="95.336" width="9.18" height="2.789" fill="rgb(253,248,248)"/>
<rect x="317.50" y="95.336" width="9.18" height="2.789" fill="rgb(247,221,221)"/>
<rect x="326.68" y="95.336" width="9.18" height="2.789" fill="rgb(239,186,186)"/>
<rect x="335.86" y="95.336" width="9.18" height="2.789" fill="rgb(231,152,152)"/>
<rect x="345.04" y="95.336" width="9.18" height="2.789" fill="rgb(236,174,174)"/>
<rect x="354.22" y="95.336" width="9.18" height="2.789" fill="rgb(239,185,185)"/>
<rect x="363.40" y="95.336" width="9.18" height="2.789" fill="rgb(82,82,169)"/>
<rect x="372.58" y="95.336" width="9.18" height="2.789" fill="rgb(172,172,214)"/>
<rect x="381.76" y="95.336" width="9.18" height="2.789" fill="rgb(204,204,230)"/>
<rect x="390.94" y="95.336" width="9.18" height="2.789" fill="rgb(245,245,250)"/>
<rect x="400.12" y="95.336" width="9.18" height="2.789" fill="rgb(195,195,225)"/>
<rect x="409.30" y="95.336" width="9.18" height="2.789" fill="rgb(191,191,223)"/>
<rect x="418.48" y="95.336" width="9.18" height="2.789" fill="rgb(181,181,218)"/>
<rect x="427.66" y="95.336" width="9.18" height="2.789" fill="rgb(178,178,217)"/>
<rect x="436.84" y="95.336" width="9.18" height="2.789" fill="rgb(174,174,215)"/>
<rect x="271.60" y="98.125" width="9.18" height="2.789" fill="rgb(237,176,176)"/>
<rect x="280.78" y="98.125" width="9.18" height="2.789" fill="rgb(237,176,176)"/>
<rect x="289.96" y="98.125" width="9.18" height="2.789" fill="rgb(240,190,190)"/>
<rect x="299.14" y="98.125" width="9.18" height="2.789" fill="rgb(238,182,182)"/>
<rect x="308.32" y="98.125" width="9.18" height="2.789" fill="rgb(237,176,176)"/>
<rect x="317.50" y="98.125" width="9.18" height="2.789" fill="rgb(239,184,184)"/>
<rect x="326.68" y="98.125" width="9.18" height="2.789" fill="rgb(238,182,182)"/>
<rect x="335.86" y="98.125" width="9.18" height="2.789" fill="rgb(230,145,145)"/>
<rect x="345.04" y="98.125" width="9.18" height="2.789" fill="rgb(238,182,182)"/>
<rect x="354.22" y="98.125" width="9.18" height="2.789" fill="rgb(232,155,155)"/>
<rect x="363.40" y="98.125" width="9.18" height="2.789" fill="rgb(144,144,200)"/>
<rect x="372.58" y="98.125" width="9.18" height="2.789" fill="rgb(199,199,227)"/>
<rect x="381.76" y="98.125" width="9.18" height="2.789" fill="rgb(181,181,218)"/>
<rect x="390.94" y="98.125" width="9.18" height="2.789" fill="rgb(253,246,246)"/>
<rect x="400.12" y="98.125" width="9.18" height="2.789" fill="rgb(183,183,219)"/>
<rect x="409.30" y="98.125" width="9.18" height="2.789" fill="rgb(169,169,212)"/>
<rect x="418.48" y="98.125" width="9.18" height="2.789" fill="rgb(178,178,217)"/>
<rect x="427.66" y="98.125" width="9.18" height="2.789" fill="rgb(170,170,213)"/>
<rect x="436.84" y="98.125" width="9.18" height="2.789" fill="rgb(176,176,216)"/>
<rect x="271.60" y="100.914" width="9.18" height="2.789" fill="rgb(237,176,176)"/>
<rect x="280.78" y="100.914" width="9.18" height="2.789" fill="rgb(237,176,176)"/>
<rect x="289.96" y="100.914" width="9.18" height="2.789" fill="rgb(229,144,144)"/>
<rect x="299.14" y="100.914" width="9.18" height="2.789" fill="rgb(254,249,249)"/>
<rect x="308.32" y="100.914" width="9.18" height="2.789" fill="rgb(238,180,180)"/>
<rect x="317.50" y="100.914" width="9.18" height="2.789" fill="rgb(238,180,180)"/>
<rect x="326.68" y="100.914" width="9.18" height="2.789" fill="rgb(237,178,178)"/>
<rect x="335.86" y="100.914" width="9.18" height="2.789" fill="rgb(223,117,117)"/>
<rect x="345.04" y="100.914" width="9.18" height="2.789" fill="rgb(244,207,207)"/>
<rect x="354.22" y="100.914" width="9.18" height="2.789" fill="rgb(230,148,148)"/>
<rect x="363.40" y="100.914" width="9.18" height="2.789" fill="rgb(184,184,220)"/>
<rect x="372.58" y="100.914" width="9.18" height="2.789" fill="rgb(150,150,203)"/>
<rect x="381.76" y="100.914" width="9.18" height="2.789" fill="rgb(181,181,218)"/>
<rect x="390.94" y="100.914" width="9.18" height="2.789" fill="rgb(239,239,247)"/>
<rect x="400.12" y="100.914" width="9.18" height="2.789" fill="rgb(175,175,215)"/>
<rect x="409.30" y="100.914" width="9.18" height="2.789" fill="rgb(200,200,227)"/>
<rect x="418.48" y="100.914" width="9.18" height="2.789" fill="rgb(176,176,216)"/>
<rect x="427.66" y="100.914" width="9.18" height="2.789" fill="rgb(177,177,216)"/>
<rect x="436.84" y="100.914" width="9.18" height="2.789" fill="rgb(182,182,219)"/>
<rect x="271.60" y="103.703" width="9.18" height="2.789" fill="rgb(239,187,187)"/>
<rect x="280.78" y="103.703" width="9.18" height="2.789" fill="rgb(235,166,166)"/>
<rect x="289.96" y="103.703" width="9.18" height="2.789" fill="rgb(238,181,181)"/>
<rect x="299.14" y="103.703" width="9.18" height="2.789" fill="rgb(237,175,175)"/>
<rect x="308.32" y="103.703" width="9.18" height="2.789" fill="rgb(237,176,176)"/>
<rect x="317.50" y="103.703" width="9.18" height="2.789" fill="rgb(241,192,192)"/>
<rect x="326.68" y="103.703" width="9.18" height="2.789" fill="rgb(254,249,249)"/>
<rect x="335.86" y="103.703" width="9.18" height="2.789" fill="rgb(229,143,143)"/>
<rect x="345.04" y="103.703" width="9.18" height="2.789" fill="rgb(240,192,192)"/>
<rect x="354.22" y="103.703" width="9.18" height="2.789" fill="rgb(230,146,146)"/>
<rect x="363.40" y="103.703" width="9.18" height="2.789" fill="rgb(79,79,167)"/>
<rect x="372.58" y="103.703" width="9.18" height="2.789" fill="rgb(204,204,230)"/>
<rect x="381.76" y="103.703" width="9.18" height="2.789" fill="rgb(179,179,217)"/>
<rect x="390.94" y="103.703" width="9.18" height="2.789" fill="rgb(233,233,244)"/>
<rect x="400.12" y="103.703" width="9.18" height="2.789" fill="rgb(179,179,217)"/>
<rect x="409.30" y="103.703" width="9.18" height="2.789" fill="rgb(174,174,215)"/>
<rect x="418.48" y="103.703" width="9.18" height="2.789" fill="rgb(174,174,214)"/>
<rect x="427.66" y="103.703" width="9.18" height="2.789" fill="rgb(181,181,218)"/>
<rect x="436.84" y="103.703" width="9.18" height="2.789" fill="rgb(197,197,226)"/>
<rect x="271.60" y="106.492" width="9.18" height="2.789" fill="rgb(230,148,148)"/>
<rect x="280.78" y="106.492" width="9.18" height="2.789" fill="rgb(237,178,178)"/>
<rect x="289.96" y="106.492" width="9.18" height="2.789" fill="rgb(238,181,181)"/>
<rect x="299.14" y="106.492" width="9.18" height="2.789" fill="rgb(239,184,184)"/>
<rect x="308.32" y="106.492" width="9.18" height="2.789" fill="rgb(238,180,180)"/>
<rect x="317.50" y="106.492" width="9.18" height="2.789" fill="rgb(236,174,174)"/>
<rect x="326.68" y="106.492" width="9.18" height="2.789" fill="rgb(238,180,180)"/>
<rect x="335.86" y="106.492" width="9.18" height="2.789" fill="rgb(230,145,145)"/>
<rect x="345.04" y="106.492" width="9.18" height="2.789" fill="rgb(238,182,182)"/>
<rect x="354.22" y="106.492" width="9.18" height="2.789" fill="rgb(228,138,138)"/>
<rect x="363.40" y="106.492" width="9.18" height="2.789" fill="rgb(108,108,182)"/>
<rect x="372.58" y="106.492" width="9.18" height="2.789" fill="rgb(210,210,232)"/>
<rect x="381.76" y="106.492" width="9.18" height="2.789" fill="rgb(150,150,203)"/>
<rect x="390.94" y="106.492" width="9.18" height="2.789" fill="rgb(244,244,250)"/>
<rect x="400.12" y="106.492" width="9.18" height="2.789" fill="rgb(172,172,214)"/>
<rect x="409.30" y="106.492" width="9.18" height="2.789" fill="rgb(200,200,228)"/>
<rect x="418.48" y="106.492" width="9.18" height="2.789" fill="rgb(176,176,216)"/>
<rect x="427.66" y="106.492" width="9.18" height="2.789" fill="rgb(178,178,217)"/>
<rect x="436.84" y="106.492" width="9.18" height="2.789" fill="rgb(141,141,198)"/>
<rect x="271.60" y="109.281" width="9.18" height="2.789" fill="rgb(239,186,186)"/>
<rect x="280.78" y="109.281" width="9.18" height="2.789" fill="rgb(237,178,178)"/>
<rect x="289.96" y="109.281" width="9.18" height="2.789" fill="rgb(237,176,176)"/>
<rect x="299.14" y="109.281" width="9.18" height="2.789" fill="rgb(254,251,251)"/>
<rect x="308.32" y="109.281" width="9.18" height="2.789" fill="rgb(239,184,184)"/>
<rect x="317.50" y="109.281" width="9.18" height="2.789" fill="rgb(239,184,184)"/>
<rect x="326.68" y="109.281" width="9.18" height="2.789" fill="rgb(235,170,170)"/>
<rect x="335.86" y="109.281" width="9.18" height="2.789" fill="rgb(237,179,179)"/>
<rect x="345.04" y="109.281" width="9.18" height="2.789" fill="rgb(238,181,181)"/>
<rect x="354.22" y="109.281" width="9.18" height="2.789" fill="rgb(230,145,145)"/>
<rect x="363.40" y="109.281" width="9.18" height="2.789" fill="rgb(160,160,208)"/>
<rect x="372.58" y="109.281" width="9.18" height="2.789" fill="rgb(213,213,234)"/>
<rect x="381.76" y="109.281" width="9.18" height="2.789" fill="rgb(170,170,213)"/>
<rect x="390.94" y="109.281" width="9.18" height="2.789" fill="rgb(206,206,231)"/>
<rect x="400.12" y="109.281" width="9.18" height="2.789" fill="rgb(204,204,230)"/>
<rect x="409.30" y="109.281" width="9.18" height="2.789" fill="rgb(205,205,230)"/>
<rect x="418.48" y="109.281" width="9.18" height="2.789" fill="rgb(171,171,213)"/>
<rect x="427.66" y="109.281" width="9.18" height="2.789" fill="rgb(241,241,248)"/>
<rect x="436.84" y="109.281" width="9.18" height="2.789" fill="rgb(142,142,199)"/>
<rect x="271.60" y="112.070" width="9.18" height="2.789" fill="rgb(230,148,148)"/>
<rect x="280.78" y="112.070" width="9.18" height="2.789" fill="rgb(238,181,181)"/>
<rect x="289.96" y="112.070" width="9.18" height="2.789" fill="rgb(232,156,156)"/>
<rect x="299.14" y="112.070" width="9.18" height="2.789" fill="rgb(240,189,189)"/>
<rect x="308.32" y="112.070" width="9.18" height="2.789" fill="rgb(238,183,183)"/>
<rect x="317.50" y="112.070" width="9.18" height="2.789" fill="rgb(237,178,178)"/>
<rect x="326.68" y="112.070" width="9.18" height="2.789" fill="rgb(245,210,210)"/>
<rect x="335.86" y="112.070" width="9.18" height="2.789" fill="rgb(223,116,116)"/>
<rect x="345.04" y="112.070" width="9.18" height="2.789" fill="rgb(241,196,196)"/>
<rect x="354.22" y="112.070" width="9.18" height="2.789" fill="rgb(231,152,152)"/>
<rect x="363.40" y="112.070" width="9.18" height="2.789" fill="rgb(143,143,199)"/>
<rect x="372.58" y="112.070" width="9.18" height="2.789" fill="rgb(205,205,230)"/>
<rect x="381.76" y="112.070" width="9.18" height="2.789" fill="rgb(171,171,213)"/>
<rect x="390.94" y="112.070" width="9.18" height="2.789" fill="rgb(204,204,230)"/>
<rect x="400.12" y="112.070" width="9.18" height="2.789" fill="rgb(174,174,215)"/>
<rect x="409.30" y="112.070" width="9.18" height="2.789" fill="rgb(192,192,224)"/>
<rect x="418.48" y="112.070" width="9.18" height="2.789" fill="rgb(246,246,251)"/>
<rect x="427.66" y="112.070" width="9.18" height="2.789" fill="rgb(177,177,216)"/>
<rect x="436.84" y="112.070" width="9.18" height="2.789" fill="rgb(147,147,201)"/>
<rect x="271.60" y="114.859" width="9.18" height="2.789" fill="rgb(238,181,181)"/>
<rect x="280.78" y="114.859" width="9.18" height="2.789" fill="rgb(238,180,180)"/>
<rect x="289.96" y="114.859" width="9.18" height="2.789" fill="rgb(238,183,183)"/>
<rect x="299.14" y="114.859" width="9.18" height="2.789" fill="rgb(238,181,181)"/>
<rect x="308.32" y="114.859" width="9.18" height="2.789" fill="rgb(237,176,176)"/>
<rect x="317.50" y="114.859" width="9.18" height="2.789" fill="rgb(237,177,177)"/>
<rect x="326.68" y="114.859" width="9.18" height="2.789" fill="rgb(253,247,247)"/>
<rect x="335.86" y="114.859" width="9.18" height="2.789" fill="rgb(229,143,143)"/>
<rect x="345.04" y="114.859" width="9.18" height="2.789" fill="rgb(238,180,180)"/>
<rect x="354.22" y="114.859" width="9.18" height="2.789" fill="rgb(239,185,185)"/>
<rect x="363.40" y="114.859" width="9.18" height="2.789" fill="rgb(138,138,197)"/>
<rect x="372.58" y="114.859" width="9.18" height="2.789" fill="rgb(174,174,215)"/>
<rect x="381.76" y="114.859" width="9.18" height="2.789" fill="rgb(177,177,216)"/>
<rect x="390.94" y="114.859" width="9.18" height="2.789" fill="rgb(245,245,250)"/>
<rect x="400.12" y="114.859" width="9.18" height="2.789" fill="rgb(183,183,219)"/>
<rect x="409.30" y="114.859" width="9.18" height="2.789" fill="rgb(203,203,229)"/>
<rect x="418.48" y="114.859" width="9.18" height="2.789" fill="rgb(202,202,229)"/>
<rect x="427.66" y="114.859" width="9.18" height="2.789" fill="rgb(211,211,233)"/>
<rect x="436.84" y="114.859" width="9.18" height="2.789" fill="rgb(154,154,205)"/>
<rect x="271.60" y="117.648" width="9.18" height="2.789" fill="rgb(238,183,183)"/>
<rect x="280.78" y="117.648" width="9.18" height="2.789" fill="rgb(238,179,179)"/>
<rect x="289.96" y="117.648" width="9.18" height="2.789" fill="rgb(236,175,175)"/>
<rect x="299.14" y="117.648" width="9.18" height="2.789" fill="rgb(245,211,211)"/>
<rect x="308.32" y="117.648" width="9.18" height="2.789" fill="rgb(238,181,181)"/>
<rect x="317.50" y="117.648" width="9.18" height="2.789" fill="rgb(240,190,190)"/>
<rect x="326.68" y="117.648" width="9.18" height="2.789" fill="rgb(252,242,242)"/>
<rect x="335.86" y="117.648" width="9.18" height="2.789" fill="rgb(230,147,147)"/>
<rect x="345.04" y="117.648" width="9.18" height="2.789" fill="rgb(238,180,180)"/>
<rect x="354.22" y="117.648" width="9.18" height="2.789" fill="rgb(231,152,152)"/>
<rect x="363.40" y="117.648" width="9.18" height="2.789" fill="rgb(141,141,198)"/>
<rect x="372.58" y="117.648" width="9.18" height="2.789" fill="rgb(177,177,216)"/>
<rect x="381.76" y="117.648" width="9.18" height="2.789" fill="rgb(177,177,216)"/>
<rect x="390.94" y="117.648" width="9.18" height="2.789" fill="rgb(249,249,252)"/>
<rect x="400.12" y="117.648" width="9.18" height="2.789" fill="rgb(200,200,228)"/>
<rect x="409.30" y="117.648" width="9.18" height="2.789" fill="rgb(185,185,220)"/>
<rect x="418.48" y="117.648" width="9.18" height="2.789" fill="rgb(243,243,249)"/>
<rect x="427.66" y="117.648" width="9.18" height="2.789" fill="rgb(184,184,220)"/>
<rect x="436.84" y="117.648" width="9.18" height="2.789" fill="rgb(172,172,214)"/>
<rect x="271.60" y="120.437" width="9.18" height="2.789" fill="rgb(238,179,179)"/>
<rect x="280.78" y="120.437" width="9.18" height="2.789" fill="rgb(237,175,175)"/>
<rect x="289.96" y="120.437" width="9.18" height="2.789" fill="rgb(238,180,180)"/>
<rect x="299.14" y="120.437" width="9.18" height="2.789" fill="rgb(247,219,219)"/>
<rect x="308.32" y="120.437" width="9.18" height="2.789" fill="rgb(238,182,182)"/>
<rect x="317.50" y="120.437" width="9.18" height="2.789" fill="rgb(245,210,210)"/>
<rect x="326.68" y="120.437" width="9.18" height="2.789" fill="rgb(239,187,187)"/>
<rect x="335.86" y="120.437" width="9.18" height="2.789" fill="rgb(232,156,156)"/>
<rect x="345.04" y="120.437" width="9.18" height="2.789" fill="rgb(238,180,180)"/>
<rect x="354.22" y="120.437" width="9.18" height="2.789" fill="rgb(232,154,154)"/>
<rect x="363.40" y="120.437" width="9.18" height="2.789" fill="rgb(181,181,218)"/>
<rect x="372.58" y="120.437" width="9.18" height="2.789" fill="rgb(200,200,228)"/>
<rect x="381.76" y="120.437" width="9.18" height="2.789" fill="rgb(168,168,212)"/>
<rect x="390.94" y="120.437" width="9.18" height="2.789" fill="rgb(239,239,247)"/>
<rect x="400.12" y="120.437" width="9.18" height="2.789" fill="rgb(215,215,235)"/>
<rect x="409.30" y="120.437" width="9.18" height="2.789" fill="rgb(202,202,229)"/>
<rect x="418.48" y="120.437" width="9.18" height="2.789" fill="rgb(206,206,231)"/>
<rect x="427.66" y="120.437" width="9.18" height="2.789" fill="rgb(179,179,217)"/>
<rect x="436.84" y="120.437" width="9.18" height="2.789" fill="rgb(173,173,214)"/>
<rect x="271.60" y="123.226" width="9.18" height="2.789" fill="rgb(244,207,207)"/>
<rect x="280.78" y="123.226" width="9.18" height="2.789" fill="rgb(238,180,180)"/>
<rect x="289.96" y="123.226" width="9.18" height="2.789" fill="rgb(237,179,179)"/>
<rect x="299.14" y="123.226" width="9.18" height="2.789" fill="rgb(240,189,189)"/>
<rect x="308.32" y="123.226" width="9.18" height="2.789" fill="rgb(240,189,189)"/>
<rect x="317.50" y="123.226" width="9.18" height="2.789" fill="rgb(241,194,194)"/>
<rect x="326.68" y="123.226" width="9.18" height="2.789" fill="rgb(238,182,182)"/>
<rect x="335.86" y="123.226" width="9.18" height="2.789" fill="rgb(231,151,151)"/>
<rect x="345.04" y="123.226" width="9.18" height="2.789" fill="rgb(237,178,178)"/>
<rect x="354.22" y="123.226" width="9.18" height="2.789" fill="rgb(229,143,143)"/>
<rect x="363.40" y="123.226" width="9.18" height="2.789" fill="rgb(176,176,216)"/>
<rect x="372.58" y="123.226" width="9.18" height="2.789" fill="rgb(176,176,216)"/>
<rect x="381.76" y="123.226" width="9.18" height="2.789" fill="rgb(180,180,218)"/>
<rect x="390.94" y="123.226" width="9.18" height="2.789" fill="rgb(215,215,235)"/>
<rect x="400.12" y="123.226" width="9.18" height="2.789" fill="rgb(173,173,214)"/>
<rect x="409.30" y="123.226" width="9.18" height="2.789" fill="rgb(250,235,235)"/>
<rect x="418.48" y="123.226" width="9.18" height="2.789" fill="rgb(146,146,201)"/>
<rect x="427.66" y="123.226" width="9.18" height="2.789" fill="rgb(205,205,230)"/>
<rect x="436.84" y="123.226" width="9.18" height="2.789" fill="rgb(182,182,219)"/>
<rect x="271.60" y="126.015" width="9.18" height="2.789" fill="rgb(239,185,185)"/>
<rect x="280.78" y="126.015" width="9.18" height="2.789" fill="rgb(232,154,154)"/>
<rect x="289.96" y="126.015" width="9.18" height="2.789" fill="rgb(237,178,178)"/>
<rect x="299.14" y="126.015" width="9.18" height="2.789" fill="rgb(253,248,248)"/>
<rect x="308.32" y="126.015" width="9.18" height="2.789" fill="rgb(238,182,182)"/>
<rect x="317.50" y="126.015" width="9.18" height="2.789" fill="rgb(238,182,182)"/>
<rect x="326.68" y="126.015" width="9.18" height="2.789" fill="rgb(237,179,179)"/>
<rect x="335.86" y="126.015" width="9.18" height="2.789" fill="rgb(231,151,151)"/>
<rect x="345.04" y="126.015" width="9.18" height="2.789" fill="rgb(253,245,245)"/>
<rect x="354.22" y="126.015" width="9.18" height="2.789" fill="rgb(230,148,148)"/>
<rect x="363.40" y="126.015" width="9.18" height="2.789" fill="rgb(186,186,220)"/>
<rect x="372.58" y="126.015" width="9.18" height="2.789" fill="rgb(184,184,220)"/>
<rect x="381.76" y="126.015" width="9.18" height="2.789" fill="rgb(182,182,219)"/>
<rect x="390.94" y="126.015" width="9.18" height="2.789" fill="rgb(242,242,248)"/>
<rect x="400.12" y="126.015" width="9.18" height="2.789" fill="rgb(178,178,217)"/>
<rect x="409.30" y="126.015" width="9.18" height="2.789" fill="rgb(203,203,229)"/>
<rect x="418.48" y="126.015" width="9.18" height="2.789" fill="rgb(163,163,209)"/>
<rect x="427.66" y="126.015" width="9.18" height="2.789" fill="rgb(205,205,230)"/>
<rect x="436.84" y="126.015" width="9.18" height="2.789" fill="rgb(150,150,203)"/>
<rect x="271.60" y="128.804" width="9.18" height="2.789" fill="rgb(236,175,175)"/>
<rect x="280.78" y="128.804" width="9.18" height="2.789" fill="rgb(239,187,187)"/>
<rect x="289.96" y="128.804" width="9.18" height="2.789" fill="rgb(239,185,185)"/>
<rect x="299.14" y="128.804" width="9.18" height="2.789" fill="rgb(238,183,183)"/>
<rect x="308.32" y="128.804" width="9.18" height="2.789" fill="rgb(255,253,253)"/>
<rect x="317.50" y="128.804" width="9.18" height="2.789" fill="rgb(239,187,187)"/>
<rect x="326.68" y="128.804" width="9.18" height="2.789" fill="rgb(238,183,183)"/>
<rect x="335.86" y="128.804" width="9.18" height="2.789" fill="rgb(229,144,144)"/>
<rect x="345.04" y="128.804" width="9.18" height="2.789" fill="rgb(237,178,178)"/>
<rect x="354.22" y="128.804" width="9.18" height="2.789" fill="rgb(223,115,115)"/>
<rect x="363.40" y="128.804" width="9.18" height="2.789" fill="rgb(178,178,217)"/>
<rect x="372.58" y="128.804" width="9.18" height="2.789" fill="rgb(108,108,182)"/>
<rect x="381.76" y="128.804" width="9.18" height="2.789" fill="rgb(210,210,233)"/>
<rect x="390.94" y="128.804" width="9.18" height="2.789" fill="rgb(245,245,250)"/>
<rect x="400.12" y="128.804" width="9.18" height="2.789" fill="rgb(172,172,214)"/>
<rect x="409.30" y="128.804" width="9.18" height="2.789" fill="rgb(179,179,217)"/>
<rect x="418.48" y="128.804" width="9.18" height="2.789" fill="rgb(146,146,201)"/>
<rect x="427.66" y="128.804" width="9.18" height="2.789" fill="rgb(204,204,229)"/>
<rect x="436.84" y="128.804" width="9.18" height="2.789" fill="rgb(142,142,199)"/>
<rect x="271.60" y="131.593" width="9.18" height="2.789" fill="rgb(239,184,184)"/>
<rect x="280.78" y="131.593" width="9.18" height="2.789" fill="rgb(239,185,185)"/>
<rect x="289.96" y="131.593" width="9.18" height="2.789" fill="rgb(237,179,179)"/>
<rect x="299.14" y="131.593" width="9.18" height="2.789" fill="rgb(238,179,179)"/>
<rect x="308.32" y="131.593" width="9.18" height="2.789" fill="rgb(238,179,179)"/>
<rect x="317.50" y="131.593" width="9.18" height="2.789" fill="rgb(238,182,182)"/>
<rect x="326.68" y="131.593" width="9.18" height="2.789" fill="rgb(238,183,183)"/>
<rect x="335.86" y="131.593" width="9.18" height="2.789" fill="rgb(229,140,140)"/>
<rect x="345.04" y="131.593" width="9.18" height="2.789" fill="rgb(240,189,189)"/>
<rect x="354.22" y="131.593" width="9.18" height="2.789" fill="rgb(229,144,144)"/>
<rect x="363.40" y="131.593" width="9.18" height="2.789" fill="rgb(149,149,202)"/>
<rect x="372.58" y="131.593" width="9.18" height="2.789" fill="rgb(148,148,202)"/>
<rect x="381.76" y="131.593" width="9.18" height="2.789" fill="rgb(175,175,215)"/>
<rect x="390.94" y="131.593" width="9.18" height="2.789" fill="rgb(242,242,248)"/>
<rect x="400.12" y="131.593" width="9.18" height="2.789" fill="rgb(200,200,228)"/>
<rect x="409.30" y="131.593" width="9.18" height="2.789" fill="rgb(170,170,213)"/>
<rect x="418.48" y="131.593" width="9.18" height="2.789" fill="rgb(177,177,216)"/>
<rect x="427.66" y="131.593" width="9.18" height="2.789" fill="rgb(169,169,212)"/>
<rect x="436.84" y="131.593" width="9.18" height="2.789" fill="rgb(182,182,219)"/>
<rect x="271.60" y="134.382" width="9.18" height="2.789" fill="rgb(237,176,176)"/>
<rect x="280.78" y="134.382" width="9.18" height="2.789" fill="rgb(249,228,228)"/>
<rect x="289.96" y="134.382" width="9.18" height="2.789" fill="rgb(240,188,188)"/>
<rect x="299.14" y="134.382" width="9.18" height="2.789" fill="rgb(245,211,211)"/>
<rect x="308.32" y="134.382" width="9.18" height="2.789" fill="rgb(238,180,180)"/>
<rect x="317.50" y="134.382" width="9.18" height="2.789" fill="rgb(238,180,180)"/>
<rect x="326.68" y="134.382" width="9.18" height="2.789" fill="rgb(237,179,179)"/>
<rect x="335.86" y="134.382" width="9.18" height="2.789" fill="rgb(230,146,146)"/>
<rect x="345.04" y="134.382" width="9.18" height="2.789" fill="rgb(237,177,177)"/>
<rect x="354.22" y="134.382" width="9.18" height="2.789" fill="rgb(229,141,141)"/>
<rect x="363.40" y="134.382" width="9.18" height="2.789" fill="rgb(178,178,217)"/>
<rect x="372.58" y="134.382" width="9.18" height="2.789" fill="rgb(182,182,219)"/>
<rect x="381.76" y="134.382" width="9.18" height="2.789" fill="rgb(169,169,212)"/>
<rect x="390.94" y="134.382" width="9.18" height="2.789" fill="rgb(206,206,231)"/>
<rect x="400.12" y="134.382" width="9.18" height="2.789" fill="rgb(171,171,213)"/>
<rect x="409.30" y="134.382" width="9.18" height="2.789" fill="rgb(155,155,205)"/>
<rect x="418.48" y="134.382" width="9.18" height="2.789" fill="rgb(219,219,237)"/>
<rect x="427.66" y="134.382" width="9.18" height="2.789" fill="rgb(181,181,218)"/>
<rect x="436.84" y="134.382" width="9.18" height="2.789" fill="rgb(171,171,213)"/>
<rect x="271.60" y="137.171" width="9.18" height="2.789" fill="rgb(254,249,249)"/>
<rect x="280.78" y="137.171" width="9.18" height="2.789" fill="rgb(231,149,149)"/>
<rect x="289.96" y="137.171" width="9.18" height="2.789" fill="rgb(238,180,180)"/>
<rect x="299.14" y="137.171" width="9.18" height="2.789" fill="rgb(244,207,207)"/>
<rect x="308.32" y="137.171" width="9.18" height="2.789" fill="rgb(237,177,177)"/>
<rect x="317.50" y="137.171" width="9.18" height="2.789" fill="rgb(241,193,193)"/>
<rect x="326.68" y="137.171" width="9.18" height="2.789" fill="rgb(252,242,242)"/>
<rect x="335.86" y="137.171" width="9.18" height="2.789" fill="rgb(231,152,152)"/>
<rect x="345.04" y="137.171" width="9.18" height="2.789" fill="rgb(239,183,183)"/>
<rect x="354.22" y="137.171" width="9.18" height="2.789" fill="rgb(229,143,143)"/>
<rect x="363.40" y="137.171" width="9.18" height="2.789" fill="rgb(176,176,216)"/>
<rect x="372.58" y="137.171" width="9.18" height="2.789" fill="rgb(170,170,213)"/>
<rect x="381.76" y="137.171" width="9.18" height="2.789" fill="rgb(171,171,213)"/>
<rect x="390.94" y="137.171" width="9.18" height="2.789" fill="rgb(243,243,249)"/>
<rect x="400.12" y="137.171" width="9.18" height="2.789" fill="rgb(183,183,219)"/>
<rect x="409.30" y="137.171" width="9.18" height="2.789" fill="rgb(186,186,221)"/>
<rect x="418.48" y="137.171" width="9.18" height="2.789" fill="rgb(206,206,230)"/>
<rect x="427.66" y="137.171" width="9.18" height="2.789" fill="rgb(175,175,215)"/>
<rect x="436.84" y="137.171" width="9.18" height="2.789" fill="rgb(186,186,221)"/>
<rect x="271.60" y="139.960" width="9.18" height="2.789" fill="rgb(238,183,183)"/>
<rect x="280.78" y="139.960" width="9.18" height="2.789" fill="rgb(236,174,174)"/>
<rect x="289.96" y="139.960" width="9.18" height="2.789" fill="rgb(238,180,180)"/>
<rect x="299.14" y="139.960" width="9.18" height="2.789" fill="rgb(238,180,180)"/>
<rect x="308.32" y="139.960" width="9.18" height="2.789" fill="rgb(238,182,182)"/>
<rect x="317.50" y="139.960" width="9.18" height="2.789" fill="rgb(238,180,180)"/>
<rect x="326.68" y="139.960" width="9.18" height="2.789" fill="rgb(246,214,214)"/>
<rect x="335.86" y="139.960" width="9.18" height="2.789" fill="rgb(231,153,153)"/>
<rect x="345.04" y="139.960" width="9.18" height="2.789" fill="rgb(238,181,181)"/>
<rect x="354.22" y="139.960" width="9.18" height="2.789" fill="rgb(231,152,152)"/>
<rect x="363.40" y="139.960" width="9.18" height="2.789" fill="rgb(179,179,217)"/>
<rect x="372.58" y="139.960" width="9.18" height="2.789" fill="rgb(178,178,217)"/>
<rect x="381.76" y="139.960" width="9.18" height="2.789" fill="rgb(176,176,216)"/>
<rect x="390.94" y="139.960" width="9.18" height="2.789" fill="rgb(242,242,248)"/>
<rect x="400.12" y="139.960" width="9.18" height="2.789" fill="rgb(176,176,216)"/>
<rect x="409.30" y="139.960" width="9.18" height="2.789" fill="rgb(187,187,221)"/>
<rect x="418.48" y="139.960" width="9.18" height="2.789" fill="rgb(207,207,231)"/>
<rect x="427.66" y="139.960" width="9.18" height="2.789" fill="rgb(175,175,215)"/>
<rect x="436.84" y="139.960" width="9.18" height="2.789" fill="rgb(176,176,216)"/>
<rect x="271.60" y="142.749" width="9.18" height="2.789" fill="rgb(237,178,178)"/>
<rect x="280.78" y="142.749" width="9.18" height="2.789" fill="rgb(238,182,182)"/>
<rect x="289.96" y="142.749" width="9.18" height="2.789" fill="rgb(238,182,182)"/>
<rect x="299.14" y="142.749" width="9.18" height="2.789" fill="rgb(238,182,182)"/>
<rect x="308.32" y="142.749" width="9.18" height="2.789" fill="rgb(238,180,180)"/>
<rect x="317.50" y="142.749" width="9.18" height="2.789" fill="rgb(253,246,246)"/>
<rect x="326.68" y="142.749" width="9.18" height="2.789" fill="rgb(237,179,179)"/>
<rect x="335.86" y="142.749" width="9.18" height="2.789" fill="rgb(232,157,157)"/>
<rect x="345.04" y="142.749" width="9.18" height="2.789" fill="rgb(239,186,186)"/>
<rect x="354.22" y="142.749" width="9.18" height="2.789" fill="rgb(233,161,161)"/>
<rect x="363.40" y="142.749" width="9.18" height="2.789" fill="rgb(152,152,204)"/>
<rect x="372.58" y="142.749" width="9.18" height="2.789" fill="rgb(184,184,219)"/>
<rect x="381.76" y="142.749" width="9.18" height="2.789" fill="rgb(154,154,205)"/>
<rect x="390.94" y="142.749" width="9.18" height="2.789" fill="rgb(244,244,249)"/>
<rect x="400.12" y="142.749" width="9.18" height="2.789" fill="rgb(184,184,220)"/>
<rect x="409.30" y="142.749" width="9.18" height="2.789" fill="rgb(178,178,216)"/>
<rect x="418.48" y="142.749" width="9.18" height="2.789" fill="rgb(206,206,231)"/>
<rect x="427.66" y="142.749" width="9.18" height="2.789" fill="rgb(169,169,212)"/>
<rect x="436.84" y="142.749" width="9.18" height="2.789" fill="rgb(174,174,214)"/>
<rect x="271.60" y="145.538" width="9.18" height="2.789" fill="rgb(239,184,184)"/>
<rect x="280.78" y="145.538" width="9.18" height="2.789" fill="rgb(237,177,177)"/>
<rect x="289.96" y="145.538" width="9.18" height="2.789" fill="rgb(236,173,173)"/>
<rect x="299.14" y="145.538" width="9.18" height="2.789" fill="rgb(254,250,250)"/>
<rect x="308.32" y="145.538" width="9.18" height="2.789" fill="rgb(238,179,179)"/>
<rect x="317.50" y="145.538" width="9.18" height="2.789" fill="rgb(238,180,180)"/>
<rect x="326.68" y="145.538" width="9.18" height="2.789" fill="rgb(239,184,184)"/>
<rect x="335.86" y="145.538" width="9.18" height="2.789" fill="rgb(232,157,157)"/>
<rect x="345.04" y="145.538" width="9.18" height="2.789" fill="rgb(239,184,184)"/>
<rect x="354.22" y="145.538" width="9.18" height="2.789" fill="rgb(239,187,187)"/>
<rect x="363.40" y="145.538" width="9.18" height="2.789" fill="rgb(205,205,230)"/>
<rect x="372.58" y="145.538" width="9.18" height="2.789" fill="rgb(177,177,216)"/>
<rect x="381.76" y="145.538" width="9.18" height="2.789" fill="rgb(147,147,201)"/>
<rect x="390.94" y="145.538" width="9.18" height="2.789" fill="rgb(206,206,230)"/>
<rect x="400.12" y="145.538" width="9.18" height="2.789" fill="rgb(180,180,218)"/>
<rect x="409.30" y="145.538" width="9.18" height="2.789" fill="rgb(173,173,214)"/>
<rect x="418.48" y="145.538" width="9.18" height="2.789" fill="rgb(182,182,219)"/>
<rect x="427.66" y="145.538" width="9.18" height="2.789" fill="rgb(169,169,212)"/>
<rect x="436.84" y="145.538" width="9.18" height="2.789" fill="rgb(118,118,187)"/>
<rect x="271.60" y="148.327" width="9.18" height="2.789" fill="rgb(245,211,211)"/>
<rect x="280.78" y="148.327" width="9.18" height="2.789" fill="rgb(239,184,184)"/>
<rect x="289.96" y="148.327" width="9.18" height="2.789" fill="rgb(240,188,188)"/>
<rect x="299.14" y="148.327" width="9.18" height="2.789" fill="rgb(237,178,178)"/>
<rect x="308.32" y="148.327" width="9.18" height="2.789" fill="rgb(239,184,184)"/>
<rect x="317.50" y="148.327" width="9.18" height="2.789" fill="rgb(237,177,177)"/>
<rect x="326.68" y="148.327" width="9.18" height="2.789" fill="rgb(237,177,177)"/>
<rect x="335.86" y="148.327" width="9.18" height="2.789" fill="rgb(231,150,150)"/>
<rect x="345.04" y="148.327" width="9.18" height="2.789" fill="rgb(238,181,181)"/>
<rect x="354.22" y="148.327" width="9.18" height="2.789" fill="rgb(230,145,145)"/>
<rect x="363.40" y="148.327" width="9.18" height="2.789" fill="rgb(209,209,232)"/>
<rect x="372.58" y="148.327" width="9.18" height="2.789" fill="rgb(173,173,214)"/>
<rect x="381.76" y="148.327" width="9.18" height="2.789" fill="rgb(179,179,217)"/>
<rect x="390.94" y="148.327" width="9.18" height="2.789" fill="rgb(246,246,250)"/>
<rect x="400.12" y="148.327" width="9.18" height="2.789" fill="rgb(208,208,231)"/>
<rect x="409.30" y="148.327" width="9.18" height="2.789" fill="rgb(208,208,231)"/>
<rect x="418.48" y="148.327" width="9.18" height="2.789" fill="rgb(206,206,230)"/>
<rect x="427.66" y="148.327" width="9.18" height="2.789" fill="rgb(177,177,216)"/>
<rect x="436.84" y="148.327" width="9.18" height="2.789" fill="rgb(173,173,214)"/>
<rect x="271.60" y="151.116" width="9.18" height="2.789" fill="rgb(239,187,187)"/>
<rect x="280.78" y="151.116" width="9.18" height="2.789" fill="rgb(237,176,176)"/>
<rect x="289.96" y="151.116" width="9.18" height="2.789" fill="rgb(239,184,184)"/>
<rect x="299.14" y="151.116" width="9.18" height="2.789" fill="rgb(238,180,180)"/>
<rect x="308.32" y="151.116" width="9.18" height="2.789" fill="rgb(239,188,188)"/>
<rect x="317.50" y="151.116" width="9.18" height="2.789" fill="rgb(253,248,248)"/>
<rect x="326.68" y="151.116" width="9.18" height="2.789" fill="rgb(239,185,185)"/>
<rect x="335.86" y="151.116" width="9.18" height="2.789" fill="rgb(228,136,136)"/>
<rect x="345.04" y="151.116" width="9.18" height="2.789" fill="rgb(239,186,186)"/>
<rect x="354.22" y="151.116" width="9.18" height="2.789" fill="rgb(232,154,154)"/>
<rect x="363.40" y="151.116" width="9.18" height="2.789" fill="rgb(183,183,219)"/>
<rect x="372.58" y="151.116" width="9.18" height="2.789" fill="rgb(154,154,204)"/>
<rect x="381.76" y="151.116" width="9.18" height="2.789" fill="rgb(166,166,211)"/>
<rect x="390.94" y="151.116" width="9.18" height="2.789" fill="rgb(208,208,232)"/>
<rect x="400.12" y="151.116" width="9.18" height="2.789" fill="rgb(182,182,219)"/>
<rect x="409.30" y="151.116" width="9.18" height="2.789" fill="rgb(171,171,213)"/>
<rect x="418.48" y="151.116" width="9.18" height="2.789" fill="rgb(181,181,218)"/>
<rect x="427.66" y="151.116" width="9.18" height="2.789" fill="rgb(204,204,229)"/>
<rect x="436.84" y="151.116" width="9.18" height="2.789" fill="rgb(201,201,228)"/>
<rect x="271.60" y="153.905" width="9.18" height="2.789" fill="rgb(238,182,182)"/>
<rect x="280.78" y="153.905" width="9.18" height="2.789" fill="rgb(238,183,183)"/>
<rect x="289.96" y="153.905" width="9.18" height="2.789" fill="rgb(232,156,156)"/>
<rect x="299.14" y="153.905" width="9.18" height="2.789" fill="rgb(236,171,171)"/>
<rect x="308.32" y="153.905" width="9.18" height="2.789" fill="rgb(238,183,183)"/>
<rect x="317.50" y="153.905" width="9.18" height="2.789" fill="rgb(239,184,184)"/>
<rect x="326.68" y="153.905" width="9.18" height="2.789" fill="rgb(237,177,177)"/>
<rect x="335.86" y="153.905" width="9.18" height="2.789" fill="rgb(231,150,150)"/>
<rect x="345.04" y="153.905" width="9.18" height="2.789" fill="rgb(237,175,175)"/>
<rect x="354.22" y="153.905" width="9.18" height="2.789" fill="rgb(238,182,182)"/>
<rect x="363.40" y="153.905" width="9.18" height="2.789" fill="rgb(180,180,217)"/>
<rect x="372.58" y="153.905" width="9.18" height="2.789" fill="rgb(178,178,217)"/>
<rect x="381.76" y="153.905" width="9.18" height="2.789" fill="rgb(179,179,217)"/>
<rect x="390.94" y="153.905" width="9.18" height="2.789" fill="rgb(242,242,248)"/>
<rect x="400.12" y="153.905" width="9.18" height="2.789" fill="rgb(177,177,216)"/>
<rect x="409.30" y="153.905" width="9.18" height="2.789" fill="rgb(187,187,221)"/>
<rect x="418.48" y="153.905" width="9.18" height="2.789" fill="rgb(239,239,247)"/>
<rect x="427.66" y="153.905" width="9.18" height="2.789" fill="rgb(175,175,215)"/>
<rect x="436.84" y="153.905" width="9.18" height="2.789" fill="rgb(176,176,216)"/>
<rect x="271.60" y="156.694" width="9.18" height="2.789" fill="rgb(237,178,178)"/>
<rect x="280.78" y="156.694" width="9.18" height="2.789" fill="rgb(238,179,179)"/>
<rect x="289.96" y="156.694" width="9.18" height="2.789" fill="rgb(237,177,177)"/>
<rect x="299.14" y="156.694" width="9.18" height="2.789" fill="rgb(255,254,254)"/>
<rect x="308.32" y="156.694" width="9.18" height="2.789" fill="rgb(253,247,247)"/>
<rect x="317.50" y="156.694" width="9.18" height="2.789" fill="rgb(238,182,182)"/>
<rect x="326.68" y="156.694" width="9.18" height="2.789" fill="rgb(238,182,182)"/>
<rect x="335.86" y="156.694" width="9.18" height="2.789" fill="rgb(238,180,180)"/>
<rect x="345.04" y="156.694" width="9.18" height="2.789" fill="rgb(247,221,221)"/>
<rect x="354.22" y="156.694" width="9.18" height="2.789" fill="rgb(230,148,148)"/>
<rect x="363.40" y="156.694" width="9.18" height="2.789" fill="rgb(148,148,202)"/>
<rect x="372.58" y="156.694" width="9.18" height="2.789" fill="rgb(76,76,166)"/>
<rect x="381.76" y="156.694" width="9.18" height="2.789" fill="rgb(177,177,216)"/>
<rect x="390.94" y="156.694" width="9.18" height="2.789" fill="rgb(215,215,235)"/>
<rect x="400.12" y="156.694" width="9.18" height="2.789" fill="rgb(176,176,215)"/>
<rect x="409.30" y="156.694" width="9.18" height="2.789" fill="rgb(181,181,218)"/>
<rect x="418.48" y="156.694" width="9.18" height="2.789" fill="rgb(205,205,230)"/>
<rect x="427.66" y="156.694" width="9.18" height="2.789" fill="rgb(173,173,214)"/>
<rect x="436.84" y="156.694" width="9.18" height="2.789" fill="rgb(173,173,214)"/>
<rect x="271.60" y="159.483" width="9.18" height="2.789" fill="rgb(204,204,230)"/>
<rect x="280.78" y="159.483" width="9.18" height="2.789" fill="rgb(185,185,220)"/>
<rect x="289.96" y="159.483" width="9.18" height="2.789" fill="rgb(211,211,233)"/>
<rect x="299.14" y="159.483" width="9.18" height="2.789" fill="rgb(239,239,247)"/>
<rect x="308.32" y="159.483" width="9.18" height="2.789" fill="rgb(212,212,234)"/>
<rect x="317.50" y="159.483" width="9.18" height="2.789" fill="rgb(177,177,216)"/>
<rect x="326.68" y="159.483" width="9.18" height="2.789" fill="rgb(203,203,229)"/>
<rect x="335.86" y="159.483" width="9.18" height="2.789" fill="rgb(180,180,218)"/>
<rect x="345.04" y="159.483" width="9.18" height="2.789" fill="rgb(202,202,228)"/>
<rect x="354.22" y="159.483" width="9.18" height="2.789" fill="rgb(198,198,227)"/>
<rect x="363.40" y="159.483" width="9.18" height="2.789" fill="rgb(237,175,175)"/>
<rect x="372.58" y="159.483" width="9.18" height="2.789" fill="rgb(240,189,189)"/>
<rect x="381.76" y="159.483" width="9.18" height="2.789" fill="rgb(230,147,147)"/>
<rect x="390.94" y="159.483" width="9.18" height="2.789" fill="rgb(255,255,255)"/>
<rect x="400.12" y="159.483" width="9.18" height="2.789" fill="rgb(231,150,150)"/>
<rect x="409.30" y="159.483" width="9.18" height="2.789" fill="rgb(238,182,182)"/>
<rect x="418.48" y="159.483" width="9.18" height="2.789" fill="rgb(209,209,232)"/>
<rect x="427.66" y="159.483" width="9.18" height="2.789" fill="rgb(200,200,227)"/>
<rect x="436.84" y="159.483" width="9.18" height="2.789" fill="rgb(238,181,181)"/>
<rect x="271.60" y="162.272" width="9.18" height="2.789" fill="rgb(177,177,216)"/>
<rect x="280.78" y="162.272" width="9.18" height="2.789" fill="rgb(202,202,228)"/>
<rect x="289.96" y="162.272" width="9.18" height="2.789" fill="rgb(177,177,216)"/>
<rect x="299.14" y="162.272" width="9.18" height="2.789" fill="rgb(212,212,233)"/>
<rect x="308.32" y="162.272" width="9.18" height="2.789" fill="rgb(203,203,229)"/>
<rect x="317.50" y="162.272" width="9.18" height="2.789" fill="rgb(179,179,217)"/>
<rect x="326.68" y="162.272" width="9.18" height="2.789" fill="rgb(172,172,213)"/>
<rect x="335.86" y="162.272" width="9.18" height="2.789" fill="rgb(180,180,218)"/>
<rect x="345.04" y="162.272" width="9.18" height="2.789" fill="rgb(246,246,251)"/>
<rect x="354.22" y="162.272" width="9.18" height="2.789" fill="rgb(220,220,237)"/>
<rect x="363.40" y="162.272" width="9.18" height="2.789" fill="rgb(230,145,145)"/>
<rect x="372.58" y="162.272" width="9.18" height="2.789" fill="rgb(237,179,179)"/>
<rect x="381.76" y="162.272" width="9.18" height="2.789" fill="rgb(221,109,109)"/>
<rect x="390.94" y="162.272" width="9.18" height="2.789" fill="rgb(206,206,231)"/>
<rect x="400.12" y="162.272" width="9.18" height="2.789" fill="rgb(230,145,145)"/>
<rect x="409.30" y="162.272" width="9.18" height="2.789" fill="rgb(238,183,183)"/>
<rect x="418.48" y="162.272" width="9.18" height="2.789" fill="rgb(254,251,251)"/>
<rect x="427.66" y="162.272" width="9.18" height="2.789" fill="rgb(244,207,207)"/>
<rect x="436.84" y="162.272" width="9.18" height="2.789" fill="rgb(238,180,180)"/>
<rect x="271.60" y="165.061" width="9.18" height="2.789" fill="rgb(185,185,220)"/>
<rect x="280.78" y="165.061" width="9.18" height="2.789" fill="rgb(199,199,227)"/>
<rect x="289.96" y="165.061" width="9.18" height="2.789" fill="rgb(179,179,217)"/>
<rect x="299.14" y="165.061" width="9.18" height="2.789" fill="rgb(175,175,215)"/>
<rect x="308.32" y="165.061" width="9.18" height="2.789" fill="rgb(205,205,230)"/>
<rect x="317.50" y="165.061" width="9.18" height="2.789" fill="rgb(168,168,211)"/>
<rect x="326.68" y="165.061" width="9.18" height="2.789" fill="rgb(183,183,219)"/>
<rect x="335.86" y="165.061" width="9.18" height="2.789" fill="rgb(179,179,217)"/>
<rect x="345.04" y="165.061" width="9.18" height="2.789" fill="rgb(201,201,228)"/>
<rect x="354.22" y="165.061" width="9.18" height="2.789" fill="rgb(199,199,227)"/>
<rect x="363.40" y="165.061" width="9.18" height="2.789" fill="rgb(239,185,185)"/>
<rect x="372.58" y="165.061" width="9.18" height="2.789" fill="rgb(236,175,175)"/>
<rect x="381.76" y="165.061" width="9.18" height="2.789" fill="rgb(223,116,116)"/>
<rect x="390.94" y="165.061" width="9.18" height="2.789" fill="rgb(238,182,182)"/>
<rect x="400.12" y="165.061" width="9.18" height="2.789" fill="rgb(230,147,147)"/>
<rect x="409.30" y="165.061" width="9.18" height="2.789" fill="rgb(238,181,181)"/>
<rect x="418.48" y="165.061" width="9.18" height="2.789" fill="rgb(253,247,247)"/>
<rect x="427.66" y="165.061" width="9.18" height="2.789" fill="rgb(215,215,235)"/>
<rect x="436.84" y="165.061" width="9.18" height="2.789" fill="rgb(238,179,179)"/>
<rect x="271.60" y="167.850" width="9.18" height="2.789" fill="rgb(247,247,251)"/>
<rect x="280.78" y="167.850" width="9.18" height="2.789" fill="rgb(171,171,213)"/>
<rect x="289.96" y="167.850" width="9.18" height="2.789" fill="rgb(207,207,231)"/>
<rect x="299.14" y="167.850" width="9.18" height="2.789" fill="rgb(205,205,230)"/>
<rect x="308.32" y="167.850" width="9.18" height="2.789" fill="rgb(207,207,231)"/>
<rect x="317.50" y="167.850" width="9.18" height="2.789" fill="rgb(147,147,201)"/>
<rect x="326.68" y="167.850" width="9.18" height="2.789" fill="rgb(203,203,229)"/>
<rect x="335.86" y="167.850" width="9.18" height="2.789" fill="rgb(176,176,216)"/>
<rect x="345.04" y="167.850" width="9.18" height="2.789" fill="rgb(212,212,233)"/>
<rect x="354.22" y="167.850" width="9.18" height="2.789" fill="rgb(204,204,229)"/>
<rect x="363.40" y="167.850" width="9.18" height="2.789" fill="rgb(232,155,155)"/>
<rect x="372.58" y="167.850" width="9.18" height="2.789" fill="rgb(237,178,178)"/>
<rect x="381.76" y="167.850" width="9.18" height="2.789" fill="rgb(230,145,145)"/>
<rect x="390.94" y="167.850" width="9.18" height="2.789" fill="rgb(238,182,182)"/>
<rect x="400.12" y="167.850" width="9.18" height="2.789" fill="rgb(231,149,149)"/>
<rect x="409.30" y="167.850" width="9.18" height="2.789" fill="rgb(232,153,153)"/>
<rect x="418.48" y="167.850" width="9.18" height="2.789" fill="rgb(254,249,249)"/>
<rect x="427.66" y="167.850" width="9.18" height="2.789" fill="rgb(217,217,236)"/>
<rect x="436.84" y="167.850" width="9.18" height="2.789" fill="rgb(244,209,209)"/>
<rect x="271.60" y="170.639" width="9.18" height="2.789" fill="rgb(179,179,217)"/>
<rect x="280.78" y="170.639" width="9.18" height="2.789" fill="rgb(241,241,248)"/>
<rect x="289.96" y="170.639" width="9.18" height="2.789" fill="rgb(169,169,212)"/>
<rect x="299.14" y="170.639" width="9.18" height="2.789" fill="rgb(179,179,217)"/>
<rect x="308.32" y="170.639" width="9.18" height="2.789" fill="rgb(180,180,218)"/>
<rect x="317.50" y="170.639" width="9.18" height="2.789" fill="rgb(183,183,219)"/>
<rect x="326.68" y="170.639" width="9.18" height="2.789" fill="rgb(188,188,222)"/>
<rect x="335.86" y="170.639" width="9.18" height="2.789" fill="rgb(180,180,218)"/>
<rect x="345.04" y="170.639" width="9.18" height="2.789" fill="rgb(212,212,233)"/>
<rect x="354.22" y="170.639" width="9.18" height="2.789" fill="rgb(172,172,214)"/>
<rect x="363.40" y="170.639" width="9.18" height="2.789" fill="rgb(237,175,175)"/>
<rect x="372.58" y="170.639" width="9.18" height="2.789" fill="rgb(253,244,244)"/>
<rect x="381.76" y="170.639" width="9.18" height="2.789" fill="rgb(221,109,109)"/>
<rect x="390.94" y="170.639" width="9.18" height="2.789" fill="rgb(237,178,178)"/>
<rect x="400.12" y="170.639" width="9.18" height="2.789" fill="rgb(230,147,147)"/>
<rect x="409.30" y="170.639" width="9.18" height="2.789" fill="rgb(229,143,143)"/>
<rect x="418.48" y="170.639" width="9.18" height="2.789" fill="rgb(246,215,215)"/>
<rect x="427.66" y="170.639" width="9.18" height="2.789" fill="rgb(253,245,245)"/>
<rect x="436.84" y="170.639" width="9.18" height="2.789" fill="rgb(237,176,176)"/>
<rect x="271.60" y="173.428" width="9.18" height="2.789" fill="rgb(174,174,215)"/>
<rect x="280.78" y="173.428" width="9.18" height="2.789" fill="rgb(172,172,214)"/>
<rect x="289.96" y="173.428" width="9.18" height="2.789" fill="rgb(209,209,232)"/>
<rect x="299.14" y="173.428" width="9.18" height="2.789" fill="rgb(179,179,217)"/>
<rect x="308.32" y="173.428" width="9.18" height="2.789" fill="rgb(210,210,233)"/>
<rect x="317.50" y="173.428" width="9.18" height="2.789" fill="rgb(181,181,218)"/>
<rect x="326.68" y="173.428" width="9.18" height="2.789" fill="rgb(174,174,215)"/>
<rect x="335.86" y="173.428" width="9.18" height="2.789" fill="rgb(180,180,217)"/>
<rect x="345.04" y="173.428" width="9.18" height="2.789" fill="rgb(213,213,234)"/>
<rect x="354.22" y="173.428" width="9.18" height="2.789" fill="rgb(205,205,230)"/>
<rect x="363.40" y="173.428" width="9.18" height="2.789" fill="rgb(238,182,182)"/>
<rect x="372.58" y="173.428" width="9.18" height="2.789" fill="rgb(239,186,186)"/>
<rect x="381.76" y="173.428" width="9.18" height="2.789" fill="rgb(230,146,146)"/>
<rect x="390.94" y="173.428" width="9.18" height="2.789" fill="rgb(236,172,172)"/>
<rect x="400.12" y="173.428" width="9.18" height="2.789" fill="rgb(232,155,155)"/>
<rect x="409.30" y="173.428" width="9.18" height="2.789" fill="rgb(230,146,146)"/>
<rect x="418.48" y="173.428" width="9.18" height="2.789" fill="rgb(244,208,208)"/>
<rect x="427.66" y="173.428" width="9.18" height="2.789" fill="rgb(209,209,232)"/>
<rect x="436.84" y="173.428" width="9.18" height="2.789" fill="rgb(238,182,182)"/>
<rect x="271.60" y="176.217" width="9.18" height="2.789" fill="rgb(172,172,214)"/>
<rect x="280.78" y="176.217" width="9.18" height="2.789" fill="rgb(203,203,229)"/>
<rect x="289.96" y="176.217" width="9.18" height="2.789" fill="rgb(179,179,217)"/>
<rect x="299.14" y="176.217" width="9.18" height="2.789" fill="rgb(181,181,218)"/>
<rect x="308.32" y="176.217" width="9.18" height="2.789" fill="rgb(207,207,231)"/>
<rect x="317.50" y="176.217" width="9.18" height="2.789" fill="rgb(182,182,219)"/>
<rect x="326.68" y="176.217" width="9.18" height="2.789" fill="rgb(208,208,232)"/>
<rect x="335.86" y="176.217" width="9.18" height="2.789" fill="rgb(142,142,199)"/>
<rect x="345.04" y="176.217" width="9.18" height="2.789" fill="rgb(214,214,235)"/>
<rect x="354.22" y="176.217" width="9.18" height="2.789" fill="rgb(184,184,220)"/>
<rect x="363.40" y="176.217" width="9.18" height="2.789" fill="rgb(239,184,184)"/>
<rect x="372.58" y="176.217" width="9.18" height="2.789" fill="rgb(236,173,173)"/>
<rect x="381.76" y="176.217" width="9.18" height="2.789" fill="rgb(237,179,179)"/>
<rect x="390.94" y="176.217" width="9.18" height="2.789" fill="rgb(238,180,180)"/>
<rect x="400.12" y="176.217" width="9.18" height="2.789" fill="rgb(229,141,141)"/>
<rect x="409.30" y="176.217" width="9.18" height="2.789" fill="rgb(240,192,192)"/>
<rect x="418.48" y="176.217" width="9.18" height="2.789" fill="rgb(255,255,255)"/>
<rect x="427.66" y="176.217" width="9.18" height="2.789" fill="rgb(215,215,235)"/>
<rect x="436.84" y="176.217" width="9.18" height="2.789" fill="rgb(245,213,213)"/>
<rect x="271.60" y="179.006" width="9.18" height="2.789" fill="rgb(173,173,214)"/>
<rect x="280.78" y="179.006" width="9.18" height="2.789" fill="rgb(186,186,221)"/>
<rect x="289.96" y="179.006" width="9.18" height="2.789" fill="rgb(180,180,218)"/>
<rect x="299.14" y="179.006" width="9.18" height="2.789" fill="rgb(171,171,213)"/>
<rect x="308.32" y="179.006" width="9.18" height="2.789" fill="rgb(203,203,229)"/>
<rect x="317.50" y="179.006" width="9.18" height="2.789" fill="rgb(182,182,219)"/>
<rect x="326.68" y="179.006" width="9.18" height="2.789" fill="rgb(252,252,254)"/>
<rect x="335.86" y="179.006" width="9.18" height="2.789" fill="rgb(167,167,211)"/>
<rect x="345.04" y="179.006" width="9.18" height="2.789" fill="rgb(179,179,217)"/>
<rect x="354.22" y="179.006" width="9.18" height="2.789" fill="rgb(176,176,216)"/>
<rect x="363.40" y="179.006" width="9.18" height="2.789" fill="rgb(232,157,157)"/>
<rect x="372.58" y="179.006" width="9.18" height="2.789" fill="rgb(238,181,181)"/>
<rect x="381.76" y="179.006" width="9.18" height="2.789" fill="rgb(240,188,188)"/>
<rect x="390.94" y="179.006" width="9.18" height="2.789" fill="rgb(254,250,250)"/>
<rect x="400.12" y="179.006" width="9.18" height="2.789" fill="rgb(229,142,142)"/>
<rect x="409.30" y="179.006" width="9.18" height="2.789" fill="rgb(237,178,178)"/>
<rect x="418.48" y="179.006" width="9.18" height="2.789" fill="rgb(253,245,245)"/>
<rect x="427.66" y="179.006" width="9.18" height="2.789" fill="rgb(253,245,245)"/>
<rect x="436.84" y="179.006" width="9.18" height="2.789" fill="rgb(245,210,210)"/>
<rect x="271.60" y="181.795" width="9.18" height="2.789" fill="rgb(183,183,219)"/>
<rect x="280.78" y="181.795" width="9.18" height="2.789" fill="rgb(172,172,214)"/>
<rect x="289.96" y="181.795" width="9.18" height="2.789" fill="rgb(176,176,216)"/>
<rect x="299.14" y="181.795" width="9.18" height="2.789" fill="rgb(211,211,233)"/>
<rect x="308.32" y="181.795" width="9.18" height="2.789" fill="rgb(203,203,229)"/>
<rect x="317.50" y="181.795" width="9.18" height="2.789" fill="rgb(176,176,216)"/>
<rect x="326.68" y="181.795" width="9.18" height="2.789" fill="rgb(213,213,234)"/>
<rect x="335.86" y="181.795" width="9.18" height="2.789" fill="rgb(251,251,253)"/>
<rect x="345.04" y="181.795" width="9.18" height="2.789" fill="rgb(175,175,215)"/>
<rect x="354.22" y="181.795" width="9.18" height="2.789" fill="rgb(174,174,215)"/>
<rect x="363.40" y="181.795" width="9.18" height="2.789" fill="rgb(230,147,147)"/>
<rect x="372.58" y="181.795" width="9.18" height="2.789" fill="rgb(238,179,179)"/>
<rect x="381.76" y="181.795" width="9.18" height="2.789" fill="rgb(231,152,152)"/>
<rect x="390.94" y="181.795" width="9.18" height="2.789" fill="rgb(244,209,209)"/>
<rect x="400.12" y="181.795" width="9.18" height="2.789" fill="rgb(237,178,178)"/>
<rect x="409.30" y="181.795" width="9.18" height="2.789" fill="rgb(238,180,180)"/>
<rect x="418.48" y="181.795" width="9.18" height="2.789" fill="rgb(242,199,199)"/>
<rect x="427.66" y="181.795" width="9.18" height="2.789" fill="rgb(219,219,237)"/>
<rect x="436.84" y="181.795" width="9.18" height="2.789" fill="rgb(244,208,208)"/>
<rect x="271.60" y="184.584" width="9.18" height="2.789" fill="rgb(212,212,234)"/>
<rect x="280.78" y="184.584" width="9.18" height="2.789" fill="rgb(222,222,239)"/>
<rect x="289.96" y="184.584" width="9.18" height="2.789" fill="rgb(184,184,220)"/>
<rect x="299.14" y="184.584" width="9.18" height="2.789" fill="rgb(174,174,215)"/>
<rect x="308.32" y="184.584" width="9.18" height="2.789" fill="rgb(180,180,218)"/>
<rect x="317.50" y="184.584" width="9.18" height="2.789" fill="rgb(178,178,217)"/>
<rect x="326.68" y="184.584" width="9.18" height="2.789" fill="rgb(204,204,230)"/>
<rect x="335.86" y="184.584" width="9.18" height="2.789" fill="rgb(179,179,217)"/>
<rect x="345.04" y="184.584" width="9.18" height="2.789" fill="rgb(179,179,217)"/>
<rect x="354.22" y="184.584" width="9.18" height="2.789" fill="rgb(178,178,217)"/>
<rect x="363.40" y="184.584" width="9.18" height="2.789" fill="rgb(231,151,151)"/>
<rect x="372.58" y="184.584" width="9.18" height="2.789" fill="rgb(230,145,145)"/>
<rect x="381.76" y="184.584" width="9.18" height="2.789" fill="rgb(255,255,255)"/>
<rect x="390.94" y="184.584" width="9.18" height="2.789" fill="rgb(237,177,177)"/>
<rect x="400.12" y="184.584" width="9.18" height="2.789" fill="rgb(238,181,181)"/>
<rect x="409.30" y="184.584" width="9.18" height="2.789" fill="rgb(238,179,179)"/>
<rect x="418.48" y="184.584" width="9.18" height="2.789" fill="rgb(251,251,253)"/>
<rect x="427.66" y="184.584" width="9.18" height="2.789" fill="rgb(229,142,142)"/>
<rect x="436.84" y="184.584" width="9.18" height="2.789" fill="rgb(232,157,157)"/>
<rect x="271.60" y="187.373" width="9.18" height="2.789" fill="rgb(174,174,214)"/>
<rect x="280.78" y="187.373" width="9.18" height="2.789" fill="rgb(181,181,218)"/>
<rect x="289.96" y="187.373" width="9.18" height="2.789" fill="rgb(175,175,215)"/>
<rect x="299.14" y="187.373" width="9.18" height="2.789" fill="rgb(176,176,216)"/>
<rect x="308.32" y="187.373" width="9.18" height="2.789" fill="rgb(166,166,211)"/>
<rect x="317.50" y="187.373" width="9.18" height="2.789" fill="rgb(115,115,185)"/>
<rect x="326.68" y="187.373" width="9.18" height="2.789" fill="rgb(208,208,232)"/>
<rect x="335.86" y="187.373" width="9.18" height="2.789" fill="rgb(182,182,218)"/>
<rect x="345.04" y="187.373" width="9.18" height="2.789" fill="rgb(177,177,216)"/>
<rect x="354.22" y="187.373" width="9.18" height="2.789" fill="rgb(179,179,217)"/>
<rect x="363.40" y="187.373" width="9.18" height="2.789" fill="rgb(230,147,147)"/>
<rect x="372.58" y="187.373" width="9.18" height="2.789" fill="rgb(231,152,152)"/>
<rect x="381.76" y="187.373" width="9.18" height="2.789" fill="rgb(239,184,184)"/>
<rect x="390.94" y="187.373" width="9.18" height="2.789" fill="rgb(243,203,203)"/>
<rect x="400.12" y="187.373" width="9.18" height="2.789" fill="rgb(246,216,216)"/>
<rect x="409.30" y="187.373" width="9.18" height="2.789" fill="rgb(229,144,144)"/>
<rect x="418.48" y="187.373" width="9.18" height="2.789" fill="rgb(245,212,212)"/>
<rect x="427.66" y="187.373" width="9.18" height="2.789" fill="rgb(229,143,143)"/>
<rect x="436.84" y="187.373" width="9.18" height="2.789" fill="rgb(231,152,152)"/>
<rect x="271.60" y="190.162" width="9.18" height="2.789" fill="rgb(246,246,250)"/>
<rect x="280.78" y="190.162" width="9.18" height="2.789" fill="rgb(209,209,232)"/>
<rect x="289.96" y="190.162" width="9.18" height="2.789" fill="rgb(177,177,216)"/>
<rect x="299.14" y="190.162" width="9.18" height="2.789" fill="rgb(180,180,217)"/>
<rect x="308.32" y="190.162" width="9.18" height="2.789" fill="rgb(203,203,229)"/>
<rect x="317.50" y="190.162" width="9.18" height="2.789" fill="rgb(117,117,186)"/>
<rect x="326.68" y="190.162" width="9.18" height="2.789" fill="rgb(205,205,230)"/>
<rect x="335.86" y="190.162" width="9.18" height="2.789" fill="rgb(182,182,219)"/>
<rect x="345.04" y="190.162" width="9.18" height="2.789" fill="rgb(178,178,216)"/>
<rect x="354.22" y="190.162" width="9.18" height="2.789" fill="rgb(171,171,213)"/>
<rect x="363.40" y="190.162" width="9.18" height="2.789" fill="rgb(231,151,151)"/>
<rect x="372.58" y="190.162" width="9.18" height="2.789" fill="rgb(238,181,181)"/>
<rect x="381.76" y="190.162" width="9.18" height="2.789" fill="rgb(239,185,185)"/>
<rect x="390.94" y="190.162" width="9.18" height="2.789" fill="rgb(252,242,242)"/>
<rect x="400.12" y="190.162" width="9.18" height="2.789" fill="rgb(245,210,210)"/>
<rect x="409.30" y="190.162" width="9.18" height="2.789" fill="rgb(237,177,177)"/>
<rect x="418.48" y="190.162" width="9.18" height="2.789" fill="rgb(254,251,251)"/>
<rect x="427.66" y="190.162" width="9.18" height="2.789" fill="rgb(238,182,182)"/>
<rect x="436.84" y="190.162" width="9.18" height="2.789" fill="rgb(237,176,176)"/>
<rect x="271.60" y="192.951" width="9.18" height="2.789" fill="rgb(171,171,213)"/>
<rect x="280.78" y="192.951" width="9.18" height="2.789" fill="rgb(180,180,218)"/>
<rect x="289.96" y="192.951" width="9.18" height="2.789" fill="rgb(207,207,231)"/>
<rect x="299.14" y="192.951" width="9.18" height="2.789" fill="rgb(175,175,215)"/>
<rect x="308.32" y="192.951" width="9.18" height="2.789" fill="rgb(207,207,231)"/>
<rect x="317.50" y="192.951" width="9.18" height="2.789" fill="rgb(172,172,214)"/>
<rect x="326.68" y="192.951" width="9.18" height="2.789" fill="rgb(179,179,217)"/>
<rect x="335.86" y="192.951" width="9.18" height="2.789" fill="rgb(172,172,213)"/>
<rect x="345.04" y="192.951" width="9.18" height="2.789" fill="rgb(171,171,213)"/>
<rect x="354.22" y="192.951" width="9.18" height="2.789" fill="rgb(214,214,235)"/>
<rect x="363.40" y="192.951" width="9.18" height="2.789" fill="rgb(231,152,152)"/>
<rect x="372.58" y="192.951" width="9.18" height="2.789" fill="rgb(240,190,190)"/>
<rect x="381.76" y="192.951" width="9.18" height="2.789" fill="rgb(230,145,145)"/>
<rect x="390.94" y="192.951" width="9.18" height="2.789" fill="rgb(254,251,251)"/>
<rect x="400.12" y="192.951" width="9.18" height="2.789" fill="rgb(249,228,228)"/>
<rect x="409.30" y="192.951" width="9.18" height="2.789" fill="rgb(238,181,181)"/>
<rect x="418.48" y="192.951" width="9.18" height="2.789" fill="rgb(217,217,236)"/>
<rect x="427.66" y="192.951" width="9.18" height="2.789" fill="rgb(237,179,179)"/>
<rect x="436.84" y="192.951" width="9.18" height="2.789" fill="rgb(236,173,173)"/>
<rect x="271.60" y="195.740" width="9.18" height="2.789" fill="rgb(177,177,216)"/>
<rect x="280.78" y="195.740" width="9.18" height="2.789" fill="rgb(181,181,218)"/>
<rect x="289.96" y="195.740" width="9.18" height="2.789" fill="rgb(173,173,214)"/>
<rect x="299.14" y="195.740" width="9.18" height="2.789" fill="rgb(179,179,217)"/>
<rect x="308.32" y="195.740" width="9.18" height="2.789" fill="rgb(251,251,253)"/>
<rect x="317.50" y="195.740" width="9.18" height="2.789" fill="rgb(181,181,218)"/>
<rect x="326.68" y="195.740" width="9.18" height="2.789" fill="rgb(208,208,231)"/>
<rect x="335.86" y="195.740" width="9.18" height="2.789" fill="rgb(168,168,211)"/>
<rect x="345.04" y="195.740" width="9.18" height="2.789" fill="rgb(176,176,216)"/>
<rect x="354.22" y="195.740" width="9.18" height="2.789" fill="rgb(171,171,213)"/>
<rect x="363.40" y="195.740" width="9.18" height="2.789" fill="rgb(230,146,146)"/>
<rect x="372.58" y="195.740" width="9.18" height="2.789" fill="rgb(239,184,184)"/>
<rect x="381.76" y="195.740" width="9.18" height="2.789" fill="rgb(230,148,148)"/>
<rect x="390.94" y="195.740" width="9.18" height="2.789" fill="rgb(254,252,252)"/>
<rect x="400.12" y="195.740" width="9.18" height="2.789" fill="rgb(236,172,172)"/>
<rect x="409.30" y="195.740" width="9.18" height="2.789" fill="rgb(239,186,186)"/>
<rect x="418.48" y="195.740" width="9.18" height="2.789" fill="rgb(253,247,247)"/>
<rect x="427.66" y="195.740" width="9.18" height="2.789" fill="rgb(235,169,169)"/>
<rect x="436.84" y="195.740" width="9.18" height="2.789" fill="rgb(238,180,180)"/>
<rect x="271.60" y="198.529" width="9.18" height="2.789" fill="rgb(173,173,214)"/>
<rect x="280.78" y="198.529" width="9.18" height="2.789" fill="rgb(210,210,233)"/>
<rect x="289.96" y="198.529" width="9.18" height="2.789" fill="rgb(212,212,234)"/>
<rect x="299.14" y="198.529" width="9.18" height="2.789" fill="rgb(183,183,219)"/>
<rect x="308.32" y="198.529" width="9.18" height="2.789" fill="rgb(233,233,244)"/>
<rect x="317.50" y="198.529" width="9.18" height="2.789" fill="rgb(179,179,217)"/>
<rect x="326.68" y="198.529" width="9.18" height="2.789" fill="rgb(167,167,211)"/>
<rect x="335.86" y="198.529" width="9.18" height="2.789" fill="rgb(188,188,222)"/>
<rect x="345.04" y="198.529" width="9.18" height="2.789" fill="rgb(207,207,231)"/>
<rect x="354.22" y="198.529" width="9.18" height="2.789" fill="rgb(176,176,215)"/>
<rect x="363.40" y="198.529" width="9.18" height="2.789" fill="rgb(230,146,146)"/>
<rect x="372.58" y="198.529" width="9.18" height="2.789" fill="rgb(237,178,178)"/>
<rect x="381.76" y="198.529" width="9.18" height="2.789" fill="rgb(239,186,186)"/>
<rect x="390.94" y="198.529" width="9.18" height="2.789" fill="rgb(236,173,173)"/>
<rect x="400.12" y="198.529" width="9.18" height="2.789" fill="rgb(238,182,182)"/>
<rect x="409.30" y="198.529" width="9.18" height="2.789" fill="rgb(240,188,188)"/>
<rect x="418.48" y="198.529" width="9.18" height="2.789" fill="rgb(244,206,206)"/>
<rect x="427.66" y="198.529" width="9.18" height="2.789" fill="rgb(236,174,174)"/>
<rect x="436.84" y="198.529" width="9.18" height="2.789" fill="rgb(229,143,143)"/>
<rect x="271.60" y="201.318" width="9.18" height="2.789" fill="rgb(151,151,203)"/>
<rect x="280.78" y="201.318" width="9.18" height="2.789" fill="rgb(238,238,247)"/>
<rect x="289.96" y="201.318" width="9.18" height="2.789" fill="rgb(183,183,219)"/>
<rect x="299.14" y="201.318" width="9.18" height="2.789" fill="rgb(188,188,222)"/>
<rect x="308.32" y="201.318" width="9.18" height="2.789" fill="rgb(182,182,219)"/>
<rect x="317.50" y="201.318" width="9.18" height="2.789" fill="rgb(187,187,221)"/>
<rect x="326.68" y="201.318" width="9.18" height="2.789" fill="rgb(144,144,200)"/>
<rect x="335.86" y="201.318" width="9.18" height="2.789" fill="rgb(184,184,219)"/>
<rect x="345.04" y="201.318" width="9.18" height="2.789" fill="rgb(183,183,219)"/>
<rect x="354.22" y="201.318" width="9.18" height="2.789" fill="rgb(170,170,213)"/>
<rect x="363.40" y="201.318" width="9.18" height="2.789" fill="rgb(240,188,188)"/>
<rect x="372.58" y="201.318" width="9.18" height="2.789" fill="rgb(239,184,184)"/>
<rect x="381.76" y="201.318" width="9.18" height="2.789" fill="rgb(238,180,180)"/>
<rect x="390.94" y="201.318" width="9.18" height="2.789" fill="rgb(237,178,178)"/>
<rect x="400.12" y="201.318" width="9.18" height="2.789" fill="rgb(231,150,150)"/>
<rect x="409.30" y="201.318" width="9.18" height="2.789" fill="rgb(238,181,181)"/>
<rect x="418.48" y="201.318" width="9.18" height="2.789" fill="rgb(253,248,248)"/>
<rect x="427.66" y="201.318" width="9.18" height="2.789" fill="rgb(238,180,180)"/>
<rect x="436.84" y="201.318" width="9.18" height="2.789" fill="rgb(237,178,178)"/>
<rect x="271.60" y="204.107" width="9.18" height="2.789" fill="rgb(210,210,232)"/>
<rect x="280.78" y="204.107" width="9.18" height="2.789" fill="rgb(243,243,249)"/>
<rect x="289.96" y="204.107" width="9.18" height="2.789" fill="rgb(208,208,232)"/>
<rect x="299.14" y="204.107" width="9.18" height="2.789" fill="rgb(176,176,216)"/>
<rect x="308.32" y="204.107" width="9.18" height="2.789" fill="rgb(152,152,204)"/>
<rect x="317.50" y="204.107" width="9.18" height="2.789" fill="rgb(145,145,200)"/>
<rect x="326.68" y="204.107" width="9.18" height="2.789" fill="rgb(187,187,221)"/>
<rect x="335.86" y="204.107" width="9.18" height="2.789" fill="rgb(178,178,217)"/>
<rect x="345.04" y="204.107" width="9.18" height="2.789" fill="rgb(180,180,217)"/>
<rect x="354.22" y="204.107" width="9.18" height="2.789" fill="rgb(203,203,229)"/>
<rect x="363.40" y="204.107" width="9.18" height="2.789" fill="rgb(238,182,182)"/>
<rect x="372.58" y="204.107" width="9.18" height="2.789" fill="rgb(238,180,180)"/>
<rect x="381.76" y="204.107" width="9.18" height="2.789" fill="rgb(238,180,180)"/>
<rect x="390.94" y="204.107" width="9.18" height="2.789" fill="rgb(238,183,183)"/>
<rect x="400.12" y="204.107" width="9.18" height="2.789" fill="rgb(239,186,186)"/>
<rect x="409.30" y="204.107" width="9.18" height="2.789" fill="rgb(231,149,149)"/>
<rect x="418.48" y="204.107" width="9.18" height="2.789" fill="rgb(238,180,180)"/>
<rect x="427.66" y="204.107" width="9.18" height="2.789" fill="rgb(253,245,245)"/>
<rect x="436.84" y="204.107" width="9.18" height="2.789" fill="rgb(237,175,175)"/>
<rect x="271.60" y="206.896" width="9.18" height="2.789" fill="rgb(176,176,216)"/>
<rect x="280.78" y="206.896" width="9.18" height="2.789" fill="rgb(233,233,244)"/>
<rect x="289.96" y="206.896" width="9.18" height="2.789" fill="rgb(206,206,231)"/>
<rect x="299.14" y="206.896" width="9.18" height="2.789" fill="rgb(168,168,212)"/>
<rect x="308.32" y="206.896" width="9.18" height="2.789" fill="rgb(171,171,213)"/>
<rect x="317.50" y="206.896" width="9.18" height="2.789" fill="rgb(184,184,219)"/>
<rect x="326.68" y="206.896" width="9.18" height="2.789" fill="rgb(181,181,218)"/>
<rect x="335.86" y="206.896" width="9.18" height="2.789" fill="rgb(175,175,215)"/>
<rect x="345.04" y="206.896" width="9.18" height="2.789" fill="rgb(175,175,215)"/>
<rect x="354.22" y="206.896" width="9.18" height="2.789" fill="rgb(206,206,231)"/>
<rect x="363.40" y="206.896" width="9.18" height="2.789" fill="rgb(240,188,188)"/>
<rect x="372.58" y="206.896" width="9.18" height="2.789" fill="rgb(237,178,178)"/>
<rect x="381.76" y="206.896" width="9.18" height="2.789" fill="rgb(231,151,151)"/>
<rect x="390.94" y="206.896" width="9.18" height="2.789" fill="rgb(236,172,172)"/>
<rect x="400.12" y="206.896" width="9.18" height="2.789" fill="rgb(239,185,185)"/>
<rect x="409.30" y="206.896" width="9.18" height="2.789" fill="rgb(237,176,176)"/>
<rect x="418.48" y="206.896" width="9.18" height="2.789" fill="rgb(254,251,251)"/>
<rect x="427.66" y="206.896" width="9.18" height="2.789" fill="rgb(244,207,207)"/>
<rect x="436.84" y="206.896" width="9.18" height="2.789" fill="rgb(254,252,252)"/>
<rect x="271.60" y="209.685" width="9.18" height="2.789" fill="rgb(182,182,219)"/>
<rect x="280.78" y="209.685" width="9.18" height="2.789" fill="rgb(176,176,216)"/>
<rect x="289.96" y="209.685" width="9.18" height="2.789" fill="rgb(174,174,215)"/>
<rect x="299.14" y="209.685" width="9.18" height="2.789" fill="rgb(177,177,216)"/>
<rect x="308.32" y="209.685" width="9.18" height="2.789" fill="rgb(181,181,218)"/>
<rect x="317.50" y="209.685" width="9.18" height="2.789" fill="rgb(180,180,218)"/>
<rect x="326.68" y="209.685" width="9.18" height="2.789" fill="rgb(126,126,191)"/>
<rect x="335.86" y="209.685" width="9.18" height="2.789" fill="rgb(183,183,219)"/>
<rect x="345.04" y="209.685" width="9.18" height="2.789" fill="rgb(164,164,210)"/>
<rect x="354.22" y="209.685" width="9.18" height="2.789" fill="rgb(176,176,216)"/>
<rect x="363.40" y="209.685" width="9.18" height="2.789" fill="rgb(240,190,190)"/>
<rect x="372.58" y="209.685" width="9.18" height="2.789" fill="rgb(231,151,151)"/>
<rect x="381.76" y="209.685" width="9.18" height="2.789" fill="rgb(237,178,178)"/>
<rect x="390.94" y="209.685" width="9.18" height="2.789" fill="rgb(239,187,187)"/>
<rect x="400.12" y="209.685" width="9.18" height="2.789" fill="rgb(239,186,186)"/>
<rect x="409.30" y="209.685" width="9.18" height="2.789" fill="rgb(238,180,180)"/>
<rect x="418.48" y="209.685" width="9.18" height="2.789" fill="rgb(254,249,249)"/>
<rect x="427.66" y="209.685" width="9.18" height="2.789" fill="rgb(220,220,238)"/>
<rect x="436.84" y="209.685" width="9.18" height="2.789" fill="rgb(237,179,179)"/>
<rect x="271.60" y="212.474" width="9.18" height="2.789" fill="rgb(181,181,218)"/>
<rect x="280.78" y="212.474" width="9.18" height="2.789" fill="rgb(216,216,236)"/>
<rect x="289.96" y="212.474" width="9.18" height="2.789" fill="rgb(175,175,215)"/>
<rect x="299.14" y="212.474" width="9.18" height="2.789" fill="rgb(207,207,231)"/>
<rect x="308.32" y="212.474" width="9.18" height="2.789" fill="rgb(202,202,228)"/>
<rect x="317.50" y="212.474" width="9.18" height="2.789" fill="rgb(180,180,217)"/>
<rect x="326.68" y="212.474" width="9.18" height="2.789" fill="rgb(184,184,219)"/>
<rect x="335.86" y="212.474" width="9.18" height="2.789" fill="rgb(185,185,220)"/>
<rect x="345.04" y="212.474" width="9.18" height="2.789" fill="rgb(207,207,231)"/>
<rect x="354.22" y="212.474" width="9.18" height="2.789" fill="rgb(203,203,229)"/>
<rect x="363.40" y="212.474" width="9.18" height="2.789" fill="rgb(246,215,215)"/>
<rect x="372.58" y="212.474" width="9.18" height="2.789" fill="rgb(232,155,155)"/>
<rect x="381.76" y="212.474" width="9.18" height="2.789" fill="rgb(238,180,180)"/>
<rect x="390.94" y="212.474" width="9.18" height="2.789" fill="rgb(236,174,174)"/>
<rect x="400.12" y="212.474" width="9.18" height="2.789" fill="rgb(240,191,191)"/>
<rect x="409.30" y="212.474" width="9.18" height="2.789" fill="rgb(240,190,190)"/>
<rect x="418.48" y="212.474" width="9.18" height="2.789" fill="rgb(244,206,206)"/>
<rect x="427.66" y="212.474" width="9.18" height="2.789" fill="rgb(247,219,219)"/>
<rect x="436.84" y="212.474" width="9.18" height="2.789" fill="rgb(237,179,179)"/>
<rect x="271.60" y="215.263" width="9.18" height="2.789" fill="rgb(171,171,213)"/>
<rect x="280.78" y="215.263" width="9.18" height="2.789" fill="rgb(211,211,233)"/>
<rect x="289.96" y="215.263" width="9.18" height="2.789" fill="rgb(182,182,219)"/>
<rect x="299.14" y="215.263" width="9.18" height="2.789" fill="rgb(179,179,217)"/>
<rect x="308.32" y="215.263" width="9.18" height="2.789" fill="rgb(183,183,219)"/>
<rect x="317.50" y="215.263" width="9.18" height="2.789" fill="rgb(178,178,217)"/>
<rect x="326.68" y="215.263" width="9.18" height="2.789" fill="rgb(181,181,218)"/>
<rect x="335.86" y="215.263" width="9.18" height="2.789" fill="rgb(188,188,222)"/>
<rect x="345.04" y="215.263" width="9.18" height="2.789" fill="rgb(184,184,220)"/>
<rect x="354.22" y="215.263" width="9.18" height="2.789" fill="rgb(175,175,215)"/>
<rect x="363.40" y="215.263" width="9.18" height="2.789" fill="rgb(231,153,153)"/>
<rect x="372.58" y="215.263" width="9.18" height="2.789" fill="rgb(231,150,150)"/>
<rect x="381.76" y="215.263" width="9.18" height="2.789" fill="rgb(238,182,182)"/>
<rect x="390.94" y="215.263" width="9.18" height="2.789" fill="rgb(253,248,248)"/>
<rect x="400.12" y="215.263" width="9.18" height="2.789" fill="rgb(238,183,183)"/>
<rect x="409.30" y="215.263" width="9.18" height="2.789" fill="rgb(230,146,146)"/>
<rect x="418.48" y="215.263" width="9.18" height="2.789" fill="rgb(245,212,212)"/>
<rect x="427.66" y="215.263" width="9.18" height="2.789" fill="rgb(245,210,210)"/>
<rect x="436.84" y="215.263" width="9.18" height="2.789" fill="rgb(253,248,248)"/>
<rect x="271.60" y="218.052" width="9.18" height="2.789" fill="rgb(210,210,233)"/>
<rect x="280.78" y="218.052" width="9.18" height="2.789" fill="rgb(201,201,228)"/>
<rect x="289.96" y="218.052" width="9.18" height="2.789" fill="rgb(252,252,253)"/>
<rect x="299.14" y="218.052" width="9.18" height="2.789" fill="rgb(180,180,218)"/>
<rect x="308.32" y="218.052" width="9.18" height="2.789" fill="rgb(209,209,232)"/>
<rect x="317.50" y="218.052" width="9.18" height="2.789" fill="rgb(181,181,218)"/>
<rect x="326.68" y="218.052" width="9.18" height="2.789" fill="rgb(184,184,220)"/>
<rect x="335.86" y="218.052" width="9.18" height="2.789" fill="rgb(182,182,219)"/>
<rect x="345.04" y="218.052" width="9.18" height="2.789" fill="rgb(179,179,217)"/>
<rect x="354.22" y="218.052" width="9.18" height="2.789" fill="rgb(206,206,231)"/>
<rect x="363.40" y="218.052" width="9.18" height="2.789" fill="rgb(255,255,255)"/>
<rect x="372.58" y="218.052" width="9.18" height="2.789" fill="rgb(253,247,247)"/>
<rect x="381.76" y="218.052" width="9.18" height="2.789" fill="rgb(210,210,233)"/>
<rect x="390.94" y="218.052" width="9.18" height="2.789" fill="rgb(231,150,150)"/>
<rect x="400.12" y="218.052" width="9.18" height="2.789" fill="rgb(235,169,169)"/>
<rect x="409.30" y="218.052" width="9.18" height="2.789" fill="rgb(240,189,189)"/>
<rect x="418.48" y="218.052" width="9.18" height="2.789" fill="rgb(231,149,149)"/>
<rect x="427.66" y="218.052" width="9.18" height="2.789" fill="rgb(237,175,175)"/>
<rect x="436.84" y="218.052" width="9.18" height="2.789" fill="rgb(230,145,145)"/>
<rect x="271.60" y="220.841" width="9.18" height="2.789" fill="rgb(185,185,220)"/>
<rect x="280.78" y="220.841" width="9.18" height="2.789" fill="rgb(200,200,228)"/>
<rect x="289.96" y="220.841" width="9.18" height="2.789" fill="rgb(173,173,214)"/>
<rect x="299.14" y="220.841" width="9.18" height="2.789" fill="rgb(151,151,203)"/>
<rect x="308.32" y="220.841" width="9.18" height="2.789" fill="rgb(177,177,216)"/>
<rect x="317.50" y="220.841" width="9.18" height="2.789" fill="rgb(216,216,236)"/>
<rect x="326.68" y="220.841" width="9.18" height="2.789" fill="rgb(179,179,217)"/>
<rect x="335.86" y="220.841" width="9.18" height="2.789" fill="rgb(179,179,217)"/>
<rect x="345.04" y="220.841" width="9.18" height="2.789" fill="rgb(181,181,218)"/>
<rect x="354.22" y="220.841" width="9.18" height="2.789" fill="rgb(177,177,216)"/>
<rect x="363.40" y="220.841" width="9.18" height="2.789" fill="rgb(238,180,180)"/>
<rect x="372.58" y="220.841" width="9.18" height="2.789" fill="rgb(254,251,251)"/>
<rect x="381.76" y="220.841" width="9.18" height="2.789" fill="rgb(212,212,233)"/>
<rect x="390.94" y="220.841" width="9.18" height="2.789" fill="rgb(238,183,183)"/>
<rect x="400.12" y="220.841" width="9.18" height="2.789" fill="rgb(230,148,148)"/>
<rect x="409.30" y="220.841" width="9.18" height="2.789" fill="rgb(239,187,187)"/>
<rect x="418.48" y="220.841" width="9.18" height="2.789" fill="rgb(232,156,156)"/>
<rect x="427.66" y="220.841" width="9.18" height="2.789" fill="rgb(237,178,178)"/>
<rect x="436.84" y="220.841" width="9.18" height="2.789" fill="rgb(238,179,179)"/>
<rect x="271.60" y="223.630" width="9.18" height="2.789" fill="rgb(238,238,247)"/>
<rect x="280.78" y="223.630" width="9.18" height="2.789" fill="rgb(206,206,231)"/>
<rect x="289.96" y="223.630" width="9.18" height="2.789" fill="rgb(173,173,214)"/>
<rect x="299.14" y="223.630" width="9.18" height="2.789" fill="rgb(189,189,222)"/>
<rect x="308.32" y="223.630" width="9.18" height="2.789" fill="rgb(170,170,213)"/>
<rect x="317.50" y="223.630" width="9.18" height="2.789" fill="rgb(187,187,221)"/>
<rect x="326.68" y="223.630" width="9.18" height="2.789" fill="rgb(174,174,215)"/>
<rect x="335.86" y="223.630" width="9.18" height="2.789" fill="rgb(181,181,218)"/>
<rect x="345.04" y="223.630" width="9.18" height="2.789" fill="rgb(177,177,216)"/>
<rect x="354.22" y="223.630" width="9.18" height="2.789" fill="rgb(205,205,230)"/>
<rect x="363.40" y="223.630" width="9.18" height="2.789" fill="rgb(237,176,176)"/>
<rect x="372.58" y="223.630" width="9.18" height="2.789" fill="rgb(252,244,244)"/>
<rect x="381.76" y="223.630" width="9.18" height="2.789" fill="rgb(254,249,249)"/>
<rect x="390.94" y="223.630" width="9.18" height="2.789" fill="rgb(239,185,185)"/>
<rect x="400.12" y="223.630" width="9.18" height="2.789" fill="rgb(236,171,171)"/>
<rect x="409.30" y="223.630" width="9.18" height="2.789" fill="rgb(236,174,174)"/>
<rect x="418.48" y="223.630" width="9.18" height="2.789" fill="rgb(230,148,148)"/>
<rect x="427.66" y="223.630" width="9.18" height="2.789" fill="rgb(238,182,182)"/>
<rect x="436.84" y="223.630" width="9.18" height="2.789" fill="rgb(230,148,148)"/>
<rect x="271.60" y="226.419" width="9.18" height="2.789" fill="rgb(208,208,231)"/>
<rect x="280.78" y="226.419" width="9.18" height="2.789" fill="rgb(250,250,252)"/>
<rect x="289.96" y="226.419" width="9.18" height="2.789" fill="rgb(173,173,214)"/>
<rect x="299.14" y="226.419" width="9.18" height="2.789" fill="rgb(178,178,217)"/>
<rect x="308.32" y="226.419" width="9.18" height="2.789" fill="rgb(174,174,215)"/>
<rect x="317.50" y="226.419" width="9.18" height="2.789" fill="rgb(214,214,235)"/>
<rect x="326.68" y="226.419" width="9.18" height="2.789" fill="rgb(158,158,207)"/>
<rect x="335.86" y="226.419" width="9.18" height="2.789" fill="rgb(178,178,217)"/>
<rect x="345.04" y="226.419" width="9.18" height="2.789" fill="rgb(210,210,233)"/>
<rect x="354.22" y="226.419" width="9.18" height="2.789" fill="rgb(186,186,221)"/>
<rect x="363.40" y="226.419" width="9.18" height="2.789" fill="rgb(223,116,116)"/>
<rect x="372.58" y="226.419" width="9.18" height="2.789" fill="rgb(239,185,185)"/>
<rect x="381.76" y="226.419" width="9.18" height="2.789" fill="rgb(217,217,236)"/>
<rect x="390.94" y="226.419" width="9.18" height="2.789" fill="rgb(230,147,147)"/>
<rect x="400.12" y="226.419" width="9.18" height="2.789" fill="rgb(238,181,181)"/>
<rect x="409.30" y="226.419" width="9.18" height="2.789" fill="rgb(252,241,241)"/>
<rect x="418.48" y="226.419" width="9.18" height="2.789" fill="rgb(230,148,148)"/>
<rect x="427.66" y="226.419" width="9.18" height="2.789" fill="rgb(240,188,188)"/>
<rect x="436.84" y="226.419" width="9.18" height="2.789" fill="rgb(237,179,179)"/>
<rect x="271.60" y="229.208" width="9.18" height="2.789" fill="rgb(207,207,231)"/>
<rect x="280.78" y="229.208" width="9.18" height="2.789" fill="rgb(217,217,236)"/>
<rect x="289.96" y="229.208" width="9.18" height="2.789" fill="rgb(207,207,231)"/>
<rect x="299.14" y="229.208" width="9.18" height="2.789" fill="rgb(177,177,216)"/>
<rect x="308.32" y="229.208" width="9.18" height="2.789" fill="rgb(181,181,218)"/>
<rect x="317.50" y="229.208" width="9.18" height="2.789" fill="rgb(245,245,250)"/>
<rect x="326.68" y="229.208" width="9.18" height="2.789" fill="rgb(171,171,213)"/>
<rect x="335.86" y="229.208" width="9.18" height="2.789" fill="rgb(179,179,217)"/>
<rect x="345.04" y="229.208" width="9.18" height="2.789" fill="rgb(177,177,216)"/>
<rect x="354.22" y="229.208" width="9.18" height="2.789" fill="rgb(186,186,221)"/>
<rect x="363.40" y="229.208" width="9.18" height="2.789" fill="rgb(235,169,169)"/>
<rect x="372.58" y="229.208" width="9.18" height="2.789" fill="rgb(255,253,253)"/>
<rect x="381.76" y="229.208" width="9.18" height="2.789" fill="rgb(254,252,252)"/>
<rect x="390.94" y="229.208" width="9.18" height="2.789" fill="rgb(239,184,184)"/>
<rect x="400.12" y="229.208" width="9.18" height="2.789" fill="rgb(238,183,183)"/>
<rect x="409.30" y="229.208" width="9.18" height="2.789" fill="rgb(254,251,251)"/>
<rect x="418.48" y="229.208" width="9.18" height="2.789" fill="rgb(231,149,149)"/>
<rect x="427.66" y="229.208" width="9.18" height="2.789" fill="rgb(237,175,175)"/>
<rect x="436.84" y="229.208" width="9.18" height="2.789" fill="rgb(239,186,186)"/>
<rect x="271.60" y="231.997" width="9.18" height="2.789" fill="rgb(170,170,213)"/>
<rect x="280.78" y="231.997" width="9.18" height="2.789" fill="rgb(197,197,226)"/>
<rect x="289.96" y="231.997" width="9.18" height="2.789" fill="rgb(184,184,220)"/>
<rect x="299.14" y="231.997" width="9.18" height="2.789" fill="rgb(185,185,220)"/>
<rect x="308.32" y="231.997" width="9.18" height="2.789" fill="rgb(170,170,213)"/>
<rect x="317.50" y="231.997" width="9.18" height="2.789" fill="rgb(198,198,227)"/>
<rect x="326.68" y="231.997" width="9.18" height="2.789" fill="rgb(119,119,187)"/>
<rect x="335.86" y="231.997" width="9.18" height="2.789" fill="rgb(184,184,220)"/>
<rect x="345.04" y="231.997" width="9.18" height="2.789" fill="rgb(184,184,220)"/>
<rect x="354.22" y="231.997" width="9.18" height="2.789" fill="rgb(179,179,217)"/>
<rect x="363.40" y="231.997" width="9.18" height="2.789" fill="rgb(237,177,177)"/>
<rect x="372.58" y="231.997" width="9.18" height="2.789" fill="rgb(253,246,246)"/>
<rect x="381.76" y="231.997" width="9.18" height="2.789" fill="rgb(254,250,250)"/>
<rect x="390.94" y="231.997" width="9.18" height="2.789" fill="rgb(229,140,140)"/>
<rect x="400.12" y="231.997" width="9.18" height="2.789" fill="rgb(245,212,212)"/>
<rect x="409.30" y="231.997" width="9.18" height="2.789" fill="rgb(239,185,185)"/>
<rect x="418.48" y="231.997" width="9.18" height="2.789" fill="rgb(231,151,151)"/>
<rect x="427.66" y="231.997" width="9.18" height="2.789" fill="rgb(239,187,187)"/>
<rect x="436.84" y="231.997" width="9.18" height="2.789" fill="rgb(238,180,180)"/>
<rect x="271.60" y="234.786" width="9.18" height="2.789" fill="rgb(184,184,220)"/>
<rect x="280.78" y="234.786" width="9.18" height="2.789" fill="rgb(200,200,228)"/>
<rect x="289.96" y="234.786" width="9.18" height="2.789" fill="rgb(184,184,220)"/>
<rect x="299.14" y="234.786" width="9.18" height="2.789" fill="rgb(190,190,222)"/>
<rect x="308.32" y="234.786" width="9.18" height="2.789" fill="rgb(209,209,232)"/>
<rect x="317.50" y="234.786" width="9.18" height="2.789" fill="rgb(172,172,214)"/>
<rect x="326.68" y="234.786" width="9.18" height="2.789" fill="rgb(113,113,184)"/>
<rect x="335.86" y="234.786" width="9.18" height="2.789" fill="rgb(177,177,216)"/>
<rect x="345.04" y="234.786" width="9.18" height="2.789" fill="rgb(171,171,213)"/>
<rect x="354.22" y="234.786" width="9.18" height="2.789" fill="rgb(237,237,246)"/>
<rect x="363.40" y="234.786" width="9.18" height="2.789" fill="rgb(238,182,182)"/>
<rect x="372.58" y="234.786" width="9.18" height="2.789" fill="rgb(254,249,249)"/>
<rect x="381.76" y="234.786" width="9.18" height="2.789" fill="rgb(215,215,235)"/>
<rect x="390.94" y="234.786" width="9.18" height="2.789" fill="rgb(239,186,186)"/>
<rect x="400.12" y="234.786" width="9.18" height="2.789" fill="rgb(236,172,172)"/>
<rect x="409.30" y="234.786" width="9.18" height="2.789" fill="rgb(237,175,175)"/>
<rect x="418.48" y="234.786" width="9.18" height="2.789" fill="rgb(230,145,145)"/>
<rect x="427.66" y="234.786" width="9.18" height="2.789" fill="rgb(238,183,183)"/>
<rect x="436.84" y="234.786" width="9.18" height="2.789" fill="rgb(236,172,172)"/>
<rect x="271.60" y="237.575" width="9.18" height="2.789" fill="rgb(176,176,216)"/>
<rect x="280.78" y="237.575" width="9.18" height="2.789" fill="rgb(188,188,222)"/>
<rect x="289.96" y="237.575" width="9.18" height="2.789" fill="rgb(154,154,205)"/>
<rect x="299.14" y="237.575" width="9.18" height="2.789" fill="rgb(174,174,214)"/>
<rect x="308.32" y="237.575" width="9.18" height="2.789" fill="rgb(205,205,230)"/>
<rect x="317.50" y="237.575" width="9.18" height="2.789" fill="rgb(188,188,222)"/>
<rect x="326.68" y="237.575" width="9.18" height="2.789" fill="rgb(184,184,219)"/>
<rect x="335.86" y="237.575" width="9.18" height="2.789" fill="rgb(178,178,216)"/>
<rect x="345.04" y="237.575" width="9.18" height="2.789" fill="rgb(208,208,232)"/>
<rect x="354.22" y="237.575" width="9.18" height="2.789" fill="rgb(179,179,217)"/>
<rect x="363.40" y="237.575" width="9.18" height="2.789" fill="rgb(239,184,184)"/>
<rect x="372.58" y="237.575" width="9.18" height="2.789" fill="rgb(238,181,181)"/>
<rect x="381.76" y="237.575" width="9.18" height="2.789" fill="rgb(254,251,251)"/>
<rect x="390.94" y="237.575" width="9.18" height="2.789" fill="rgb(238,182,182)"/>
<rect x="400.12" y="237.575" width="9.18" height="2.789" fill="rgb(237,178,178)"/>
<rect x="409.30" y="237.575" width="9.18" height="2.789" fill="rgb(239,185,185)"/>
<rect x="418.48" y="237.575" width="9.18" height="2.789" fill="rgb(230,146,146)"/>
<rect x="427.66" y="237.575" width="9.18" height="2.789" fill="rgb(253,247,247)"/>
<rect x="436.84" y="237.575" width="9.18" height="2.789" fill="rgb(237,177,177)"/>
<rect x="271.60" y="240.364" width="9.18" height="2.789" fill="rgb(212,212,234)"/>
<rect x="280.78" y="240.364" width="9.18" height="2.789" fill="rgb(214,214,235)"/>
<rect x="289.96" y="240.364" width="9.18" height="2.789" fill="rgb(182,182,219)"/>
<rect x="299.14" y="240.364" width="9.18" height="2.789" fill="rgb(247,247,251)"/>
<rect x="308.32" y="240.364" width="9.18" height="2.789" fill="rgb(206,206,231)"/>
<rect x="317.50" y="240.364" width="9.18" height="2.789" fill="rgb(181,181,218)"/>
<rect x="326.68" y="240.364" width="9.18" height="2.789" fill="rgb(173,173,214)"/>
<rect x="335.86" y="240.364" width="9.18" height="2.789" fill="rgb(206,206,231)"/>
<rect x="345.04" y="240.364" width="9.18" height="2.789" fill="rgb(182,182,219)"/>
<rect x="354.22" y="240.364" width="9.18" height="2.789" fill="rgb(178,178,217)"/>
<rect x="363.40" y="240.364" width="9.18" height="2.789" fill="rgb(237,178,178)"/>
<rect x="372.58" y="240.364" width="9.18" height="2.789" fill="rgb(239,185,185)"/>
<rect x="381.76" y="240.364" width="9.18" height="2.789" fill="rgb(252,241,241)"/>
<rect x="390.94" y="240.364" width="9.18" height="2.789" fill="rgb(238,183,183)"/>
<rect x="400.12" y="240.364" width="9.18" height="2.789" fill="rgb(237,179,179)"/>
<rect x="409.30" y="240.364" width="9.18" height="2.789" fill="rgb(245,212,212)"/>
<rect x="418.48" y="240.364" width="9.18" height="2.789" fill="rgb(230,145,145)"/>
<rect x="427.66" y="240.364" width="9.18" height="2.789" fill="rgb(238,182,182)"/>
<rect x="436.84" y="240.364" width="9.18" height="2.789" fill="rgb(176,176,216)"/>
<rect x="271.60" y="243.153" width="9.18" height="2.789" fill="rgb(168,168,212)"/>
<rect x="280.78" y="243.153" width="9.18" height="2.789" fill="rgb(206,206,230)"/>
<rect x="289.96" y="243.153" width="9.18" height="2.789" fill="rgb(172,172,214)"/>
<rect x="299.14" y="243.153" width="9.18" height="2.789" fill="rgb(210,210,233)"/>
<rect x="308.32" y="243.153" width="9.18" height="2.789" fill="rgb(186,186,221)"/>
<rect x="317.50" y="243.153" width="9.18" height="2.789" fill="rgb(195,195,225)"/>
<rect x="326.68" y="243.153" width="9.18" height="2.789" fill="rgb(171,171,213)"/>
<rect x="335.86" y="243.153" width="9.18" height="2.789" fill="rgb(180,180,218)"/>
<rect x="345.04" y="243.153" width="9.18" height="2.789" fill="rgb(185,185,220)"/>
<rect x="354.22" y="243.153" width="9.18" height="2.789" fill="rgb(180,180,218)"/>
<rect x="363.40" y="243.153" width="9.18" height="2.789" fill="rgb(222,113,113)"/>
<rect x="372.58" y="243.153" width="9.18" height="2.789" fill="rgb(237,178,178)"/>
<rect x="381.76" y="243.153" width="9.18" height="2.789" fill="rgb(237,178,178)"/>
<rect x="390.94" y="243.153" width="9.18" height="2.789" fill="rgb(252,240,240)"/>
<rect x="400.12" y="243.153" width="9.18" height="2.789" fill="rgb(237,178,178)"/>
<rect x="409.30" y="243.153" width="9.18" height="2.789" fill="rgb(239,186,186)"/>
<rect x="418.48" y="243.153" width="9.18" height="2.789" fill="rgb(238,182,182)"/>
<rect x="427.66" y="243.153" width="9.18" height="2.789" fill="rgb(238,179,179)"/>
<rect x="436.84" y="243.153" width="9.18" height="2.789" fill="rgb(239,184,184)"/>
<rect x="271.60" y="245.942" width="9.18" height="2.789" fill="rgb(206,206,230)"/>
<rect x="280.78" y="245.942" width="9.18" height="2.789" fill="rgb(241,241,248)"/>
<rect x="289.96" y="245.942" width="9.18" height="2.789" fill="rgb(175,175,215)"/>
<rect x="299.14" y="245.942" width="9.18" height="2.789" fill="rgb(211,211,233)"/>
<rect x="308.32" y="245.942" width="9.18" height="2.789" fill="rgb(176,176,216)"/>
<rect x="317.50" y="245.942" width="9.18" height="2.789" fill="rgb(172,172,214)"/>
<rect x="326.68" y="245.942" width="9.18" height="2.789" fill="rgb(174,174,215)"/>
<rect x="335.86" y="245.942" width="9.18" height="2.789" fill="rgb(179,179,217)"/>
<rect x="345.04" y="245.942" width="9.18" height="2.789" fill="rgb(219,219,237)"/>
<rect x="354.22" y="245.942" width="9.18" height="2.789" fill="rgb(180,180,218)"/>
<rect x="363.40" y="245.942" width="9.18" height="2.789" fill="rgb(229,142,142)"/>
<rect x="372.58" y="245.942" width="9.18" height="2.789" fill="rgb(237,178,178)"/>
<rect x="381.76" y="245.942" width="9.18" height="2.789" fill="rgb(240,190,190)"/>
<rect x="390.94" y="245.942" width="9.18" height="2.789" fill="rgb(237,179,179)"/>
<rect x="400.12" y="245.942" width="9.18" height="2.789" fill="rgb(239,184,184)"/>
<rect x="409.30" y="245.942" width="9.18" height="2.789" fill="rgb(246,218,218)"/>
<rect x="418.48" y="245.942" width="9.18" height="2.789" fill="rgb(239,185,185)"/>
<rect x="427.66" y="245.942" width="9.18" height="2.789" fill="rgb(236,172,172)"/>
<rect x="436.84" y="245.942" width="9.18" height="2.789" fill="rgb(239,188,188)"/>
<rect x="271.60" y="248.731" width="9.18" height="2.789" fill="rgb(204,204,230)"/>
<rect x="280.78" y="248.731" width="9.18" height="2.789" fill="rgb(213,213,234)"/>
<rect x="289.96" y="248.731" width="9.18" height="2.789" fill="rgb(182,182,219)"/>
<rect x="299.14" y="248.731" width="9.18" height="2.789" fill="rgb(234,234,245)"/>
<rect x="308.32" y="248.731" width="9.18" height="2.789" fill="rgb(178,178,217)"/>
<rect x="317.50" y="248.731" width="9.18" height="2.789" fill="rgb(176,176,215)"/>
<rect x="326.68" y="248.731" width="9.18" height="2.789" fill="rgb(206,206,231)"/>
<rect x="335.86" y="248.731" width="9.18" height="2.789" fill="rgb(182,182,219)"/>
<rect x="345.04" y="248.731" width="9.18" height="2.789" fill="rgb(204,204,230)"/>
<rect x="354.22" y="248.731" width="9.18" height="2.789" fill="rgb(177,177,216)"/>
<rect x="363.40" y="248.731" width="9.18" height="2.789" fill="rgb(229,142,142)"/>
<rect x="372.58" y="248.731" width="9.18" height="2.789" fill="rgb(247,220,220)"/>
<rect x="381.76" y="248.731" width="9.18" height="2.789" fill="rgb(238,182,182)"/>
<rect x="390.94" y="248.731" width="9.18" height="2.789" fill="rgb(253,246,246)"/>
<rect x="400.12" y="248.731" width="9.18" height="2.789" fill="rgb(239,186,186)"/>
<rect x="409.30" y="248.731" width="9.18" height="2.789" fill="rgb(246,215,215)"/>
<rect x="418.48" y="248.731" width="9.18" height="2.789" fill="rgb(239,186,186)"/>
<rect x="427.66" y="248.731" width="9.18" height="2.789" fill="rgb(253,247,247)"/>
<rect x="436.84" y="248.731" width="9.18" height="2.789" fill="rgb(238,183,183)"/>
<rect x="271.60" y="251.520" width="9.18" height="2.789" fill="rgb(183,183,219)"/>
<rect x="280.78" y="251.520" width="9.18" height="2.789" fill="rgb(184,184,220)"/>
<rect x="289.96" y="251.520" width="9.18" height="2.789" fill="rgb(179,179,217)"/>
<rect x="299.14" y="251.520" width="9.18" height="2.789" fill="rgb(241,241,248)"/>
<rect x="308.32" y="251.520" width="9.18" height="2.789" fill="rgb(180,180,218)"/>
<rect x="317.50" y="251.520" width="9.18" height="2.789" fill="rgb(148,148,202)"/>
<rect x="326.68" y="251.520" width="9.18" height="2.789" fill="rgb(201,201,228)"/>
<rect x="335.86" y="251.520" width="9.18" height="2.789" fill="rgb(184,184,220)"/>
<rect x="345.04" y="251.520" width="9.18" height="2.789" fill="rgb(180,180,217)"/>
<rect x="354.22" y="251.520" width="9.18" height="2.789" fill="rgb(183,183,219)"/>
<rect x="363.40" y="251.520" width="9.18" height="2.789" fill="rgb(232,155,155)"/>
<rect x="372.58" y="251.520" width="9.18" height="2.789" fill="rgb(244,208,208)"/>
<rect x="381.76" y="251.520" width="9.18" height="2.789" fill="rgb(236,171,171)"/>
<rect x="390.94" y="251.520" width="9.18" height="2.789" fill="rgb(237,178,178)"/>
<rect x="400.12" y="251.520" width="9.18" height="2.789" fill="rgb(239,187,187)"/>
<rect x="409.30" y="251.520" width="9.18" height="2.789" fill="rgb(238,180,180)"/>
<rect x="418.48" y="251.520" width="9.18" height="2.789" fill="rgb(238,181,181)"/>
<rect x="427.66" y="251.520" width="9.18" height="2.789" fill="rgb(245,211,211)"/>
<rect x="436.84" y="251.520" width="9.18" height="2.789" fill="rgb(238,181,181)"/>
<rect x="271.60" y="254.309" width="9.18" height="2.789" fill="rgb(121,121,188)"/>
<rect x="280.78" y="254.309" width="9.18" height="2.789" fill="rgb(176,176,216)"/>
<rect x="289.96" y="254.309" width="9.18" height="2.789" fill="rgb(180,180,217)"/>
<rect x="299.14" y="254.309" width="9.18" height="2.789" fill="rgb(203,203,229)"/>
<rect x="308.32" y="254.309" width="9.18" height="2.789" fill="rgb(179,179,217)"/>
<rect x="317.50" y="254.309" width="9.18" height="2.789" fill="rgb(153,153,204)"/>
<rect x="326.68" y="254.309" width="9.18" height="2.789" fill="rgb(241,241,248)"/>
<rect x="335.86" y="254.309" width="9.18" height="2.789" fill="rgb(247,247,251)"/>
<rect x="345.04" y="254.309" width="9.18" height="2.789" fill="rgb(174,174,214)"/>
<rect x="354.22" y="254.309" width="9.18" height="2.789" fill="rgb(176,176,216)"/>
<rect x="363.40" y="254.309" width="9.18" height="2.789" fill="rgb(231,150,150)"/>
<rect x="372.58" y="254.309" width="9.18" height="2.789" fill="rgb(252,242,242)"/>
<rect x="381.76" y="254.309" width="9.18" height="2.789" fill="rgb(239,184,184)"/>
<rect x="390.94" y="254.309" width="9.18" height="2.789" fill="rgb(237,175,175)"/>
<rect x="400.12" y="254.309" width="9.18" height="2.789" fill="rgb(232,156,156)"/>
<rect x="409.30" y="254.309" width="9.18" height="2.789" fill="rgb(238,181,181)"/>
<rect x="418.48" y="254.309" width="9.18" height="2.789" fill="rgb(237,176,176)"/>
<rect x="427.66" y="254.309" width="9.18" height="2.789" fill="rgb(253,245,245)"/>
<rect x="436.84" y="254.309" width="9.18" height="2.789" fill="rgb(239,185,185)"/>
<rect x="271.60" y="257.098" width="9.18" height="2.789" fill="rgb(111,111,183)"/>
<rect x="280.78" y="257.098" width="9.18" height="2.789" fill="rgb(183,183,219)"/>
<rect x="289.96" y="257.098" width="9.18" height="2.789" fill="rgb(200,200,228)"/>
<rect x="299.14" y="257.098" width="9.18" height="2.789" fill="rgb(181,181,218)"/>
<rect x="308.32" y="257.098" width="9.18" height="2.789" fill="rgb(175,175,215)"/>
<rect x="317.50" y="257.098" width="9.18" height="2.789" fill="rgb(178,178,217)"/>
<rect x="326.68" y="257.098" width="9.18" height="2.789" fill="rgb(191,191,223)"/>
<rect x="335.86" y="257.098" width="9.18" height="2.789" fill="rgb(187,187,221)"/>
<rect x="345.04" y="257.098" width="9.18" height="2.789" fill="rgb(183,183,219)"/>
<rect x="354.22" y="257.098" width="9.18" height="2.789" fill="rgb(171,171,213)"/>
<rect x="363.40" y="257.098" width="9.18" height="2.789" fill="rgb(230,147,147)"/>
<rect x="372.58" y="257.098" width="9.18" height="2.789" fill="rgb(238,180,180)"/>
<rect x="381.76" y="257.098" width="9.18" height="2.789" fill="rgb(238,181,181)"/>
<rect x="390.94" y="257.098" width="9.18" height="2.789" fill="rgb(236,174,174)"/>
<rect x="400.12" y="257.098" width="9.18" height="2.789" fill="rgb(240,188,188)"/>
<rect x="409.30" y="257.098" width="9.18" height="2.789" fill="rgb(237,179,179)"/>
<rect x="418.48" y="257.098" width="9.18" height="2.789" fill="rgb(238,180,180)"/>
<rect x="427.66" y="257.098" width="9.18" height="2.789" fill="rgb(239,184,184)"/>
<rect x="436.84" y="257.098" width="9.18" height="2.789" fill="rgb(229,141,141)"/>
<rect x="271.60" y="259.887" width="9.18" height="2.789" fill="rgb(171,171,213)"/>
<rect x="280.78" y="259.887" width="9.18" height="2.789" fill="rgb(178,178,217)"/>
<rect x="289.96" y="259.887" width="9.18" height="2.789" fill="rgb(179,179,217)"/>
<rect x="299.14" y="259.887" width="9.18" height="2.789" fill="rgb(195,195,225)"/>
<rect x="308.32" y="259.887" width="9.18" height="2.789" fill="rgb(171,171,213)"/>
<rect x="317.50" y="259.887" width="9.18" height="2.789" fill="rgb(173,173,214)"/>
<rect x="326.68" y="259.887" width="9.18" height="2.789" fill="rgb(248,248,251)"/>
<rect x="335.86" y="259.887" width="9.18" height="2.789" fill="rgb(183,183,219)"/>
<rect x="345.04" y="259.887" width="9.18" height="2.789" fill="rgb(181,181,218)"/>
<rect x="354.22" y="259.887" width="9.18" height="2.789" fill="rgb(180,180,217)"/>
<rect x="363.40" y="259.887" width="9.18" height="2.789" fill="rgb(233,159,159)"/>
<rect x="372.58" y="259.887" width="9.18" height="2.789" fill="rgb(238,179,179)"/>
<rect x="381.76" y="259.887" width="9.18" height="2.789" fill="rgb(254,250,250)"/>
<rect x="390.94" y="259.887" width="9.18" height="2.789" fill="rgb(237,175,175)"/>
<rect x="400.12" y="259.887" width="9.18" height="2.789" fill="rgb(236,174,174)"/>
<rect x="409.30" y="259.887" width="9.18" height="2.789" fill="rgb(235,170,170)"/>
<rect x="418.48" y="259.887" width="9.18" height="2.789" fill="rgb(237,177,177)"/>
<rect x="427.66" y="259.887" width="9.18" height="2.789" fill="rgb(237,177,177)"/>
<rect x="436.84" y="259.887" width="9.18" height="2.789" fill="rgb(232,154,154)"/>
<rect x="271.60" y="262.676" width="9.18" height="2.789" fill="rgb(244,244,249)"/>
<rect x="280.78" y="262.676" width="9.18" height="2.789" fill="rgb(200,200,228)"/>
<rect x="289.96" y="262.676" width="9.18" height="2.789" fill="rgb(183,183,219)"/>
<rect x="299.14" y="262.676" width="9.18" height="2.789" fill="rgb(172,172,214)"/>
<rect x="308.32" y="262.676" width="9.18" height="2.789" fill="rgb(177,177,216)"/>
<rect x="317.50" y="262.676" width="9.18" height="2.789" fill="rgb(174,174,215)"/>
<rect x="326.68" y="262.676" width="9.18" height="2.789" fill="rgb(82,82,169)"/>
<rect x="335.86" y="262.676" width="9.18" height="2.789" fill="rgb(181,181,218)"/>
<rect x="345.04" y="262.676" width="9.18" height="2.789" fill="rgb(175,175,215)"/>
<rect x="354.22" y="262.676" width="9.18" height="2.789" fill="rgb(208,208,232)"/>
<rect x="363.40" y="262.676" width="9.18" height="2.789" fill="rgb(239,185,185)"/>
<rect x="372.58" y="262.676" width="9.18" height="2.789" fill="rgb(236,174,174)"/>
<rect x="381.76" y="262.676" width="9.18" height="2.789" fill="rgb(231,152,152)"/>
<rect x="390.94" y="262.676" width="9.18" height="2.789" fill="rgb(244,207,207)"/>
<rect x="400.12" y="262.676" width="9.18" height="2.789" fill="rgb(236,171,171)"/>
<rect x="409.30" y="262.676" width="9.18" height="2.789" fill="rgb(248,223,223)"/>
<rect x="418.48" y="262.676" width="9.18" height="2.789" fill="rgb(239,185,185)"/>
<rect x="427.66" y="262.676" width="9.18" height="2.789" fill="rgb(245,213,213)"/>
<rect x="436.84" y="262.676" width="9.18" height="2.789" fill="rgb(229,144,144)"/>
<rect x="271.60" y="265.465" width="9.18" height="2.789" fill="rgb(176,176,215)"/>
<rect x="280.78" y="265.465" width="9.18" height="2.789" fill="rgb(251,236,236)"/>
<rect x="289.96" y="265.465" width="9.18" height="2.789" fill="rgb(174,174,215)"/>
<rect x="299.14" y="265.465" width="9.18" height="2.789" fill="rgb(181,181,218)"/>
<rect x="308.32" y="265.465" width="9.18" height="2.789" fill="rgb(141,141,198)"/>
<rect x="317.50" y="265.465" width="9.18" height="2.789" fill="rgb(248,248,251)"/>
<rect x="326.68" y="265.465" width="9.18" height="2.789" fill="rgb(132,132,194)"/>
<rect x="335.86" y="265.465" width="9.18" height="2.789" fill="rgb(168,168,212)"/>
<rect x="345.04" y="265.465" width="9.18" height="2.789" fill="rgb(188,188,222)"/>
<rect x="354.22" y="265.465" width="9.18" height="2.789" fill="rgb(179,179,217)"/>
<rect x="363.40" y="265.465" width="9.18" height="2.789" fill="rgb(239,185,185)"/>
<rect x="372.58" y="265.465" width="9.18" height="2.789" fill="rgb(235,170,170)"/>
<rect x="381.76" y="265.465" width="9.18" height="2.789" fill="rgb(237,176,176)"/>
<rect x="390.94" y="265.465" width="9.18" height="2.789" fill="rgb(244,207,207)"/>
<rect x="400.12" y="265.465" width="9.18" height="2.789" fill="rgb(246,214,214)"/>
<rect x="409.30" y="265.465" width="9.18" height="2.789" fill="rgb(244,209,209)"/>
<rect x="418.48" y="265.465" width="9.18" height="2.789" fill="rgb(237,178,178)"/>
<rect x="427.66" y="265.465" width="9.18" height="2.789" fill="rgb(240,188,188)"/>
<rect x="436.84" y="265.465" width="9.18" height="2.789" fill="rgb(230,146,146)"/>
<rect x="271.60" y="268.254" width="9.18" height="2.789" fill="rgb(242,242,249)"/>
<rect x="280.78" y="268.254" width="9.18" height="2.789" fill="rgb(214,214,235)"/>
<rect x="289.96" y="268.254" width="9.18" height="2.789" fill="rgb(185,185,220)"/>
<rect x="299.14" y="268.254" width="9.18" height="2.789" fill="rgb(252,241,241)"/>
<rect x="308.32" y="268.254" width="9.18" height="2.789" fill="rgb(145,145,200)"/>
<rect x="317.50" y="268.254" width="9.18" height="2.789" fill="rgb(179,179,217)"/>
<rect x="326.68" y="268.254" width="9.18" height="2.789" fill="rgb(182,182,219)"/>
<rect x="335.86" y="268.254" width="9.18" height="2.789" fill="rgb(176,176,216)"/>
<rect x="345.04" y="268.254" width="9.18" height="2.789" fill="rgb(178,178,216)"/>
<rect x="354.22" y="268.254" width="9.18" height="2.789" fill="rgb(182,182,218)"/>
<rect x="363.40" y="268.254" width="9.18" height="2.789" fill="rgb(237,178,178)"/>
<rect x="372.58" y="268.254" width="9.18" height="2.789" fill="rgb(237,175,175)"/>
<rect x="381.76" y="268.254" width="9.18" height="2.789" fill="rgb(238,179,179)"/>
<rect x="390.94" y="268.254" width="9.18" height="2.789" fill="rgb(246,216,216)"/>
<rect x="400.12" y="268.254" width="9.18" height="2.789" fill="rgb(240,189,189)"/>
<rect x="409.30" y="268.254" width="9.18" height="2.789" fill="rgb(237,177,177)"/>
<rect x="418.48" y="268.254" width="9.18" height="2.789" fill="rgb(238,182,182)"/>
<rect x="427.66" y="268.254" width="9.18" height="2.789" fill="rgb(238,182,182)"/>
<rect x="436.84" y="268.254" width="9.18" height="2.789" fill="rgb(238,182,182)"/>
<rect x="271.60" y="271.043" width="9.18" height="2.789" fill="rgb(170,170,212)"/>
<rect x="280.78" y="271.043" width="9.18" height="2.789" fill="rgb(205,205,230)"/>
<rect x="289.96" y="271.043" width="9.18" height="2.789" fill="rgb(164,164,210)"/>
<rect x="299.14" y="271.043" width="9.18" height="2.789" fill="rgb(205,205,230)"/>
<rect x="308.32" y="271.043" width="9.18" height="2.789" fill="rgb(143,143,199)"/>
<rect x="317.50" y="271.043" width="9.18" height="2.789" fill="rgb(188,188,222)"/>
<rect x="326.68" y="271.043" width="9.18" height="2.789" fill="rgb(181,181,218)"/>
<rect x="335.86" y="271.043" width="9.18" height="2.789" fill="rgb(177,177,216)"/>
<rect x="345.04" y="271.043" width="9.18" height="2.789" fill="rgb(179,179,217)"/>
<rect x="354.22" y="271.043" width="9.18" height="2.789" fill="rgb(182,182,219)"/>
<rect x="363.40" y="271.043" width="9.18" height="2.789" fill="rgb(254,251,251)"/>
<rect x="372.58" y="271.043" width="9.18" height="2.789" fill="rgb(238,182,182)"/>
<rect x="381.76" y="271.043" width="9.18" height="2.789" fill="rgb(245,214,214)"/>
<rect x="390.94" y="271.043" width="9.18" height="2.789" fill="rgb(235,169,169)"/>
<rect x="400.12" y="271.043" width="9.18" height="2.789" fill="rgb(238,180,180)"/>
<rect x="409.30" y="271.043" width="9.18" height="2.789" fill="rgb(240,190,190)"/>
<rect x="418.48" y="271.043" width="9.18" height="2.789" fill="rgb(244,208,208)"/>
<rect x="427.66" y="271.043" width="9.18" height="2.789" fill="rgb(228,137,137)"/>
<rect x="436.84" y="271.043" width="9.18" height="2.789" fill="rgb(239,185,185)"/>
<rect x="271.60" y="273.832" width="9.18" height="2.789" fill="rgb(197,197,226)"/>
<rect x="280.78" y="273.832" width="9.18" height="2.789" fill="rgb(207,207,231)"/>
<rect x="289.96" y="273.832" width="9.18" height="2.789" fill="rgb(184,184,219)"/>
<rect x="299.14" y="273.832" width="9.18" height="2.789" fill="rgb(204,204,230)"/>
<rect x="308.32" y="273.832" width="9.18" height="2.789" fill="rgb(242,242,248)"/>
<rect x="317.50" y="273.832" width="9.18" height="2.789" fill="rgb(171,171,213)"/>
<rect x="326.68" y="273.832" width="9.18" height="2.789" fill="rgb(172,172,214)"/>
<rect x="335.86" y="273.832" width="9.18" height="2.789" fill="rgb(166,166,211)"/>
<rect x="345.04" y="273.832" width="9.18" height="2.789" fill="rgb(184,184,220)"/>
<rect x="354.22" y="273.832" width="9.18" height="2.789" fill="rgb(172,172,214)"/>
<rect x="363.40" y="273.832" width="9.18" height="2.789" fill="rgb(245,210,210)"/>
<rect x="372.58" y="273.832" width="9.18" height="2.789" fill="rgb(237,179,179)"/>
<rect x="381.76" y="273.832" width="9.18" height="2.789" fill="rgb(223,118,118)"/>
<rect x="390.94" y="273.832" width="9.18" height="2.789" fill="rgb(253,248,248)"/>
<rect x="400.12" y="273.832" width="9.18" height="2.789" fill="rgb(238,181,181)"/>
<rect x="409.30" y="273.832" width="9.18" height="2.789" fill="rgb(246,214,214)"/>
<rect x="418.48" y="273.832" width="9.18" height="2.789" fill="rgb(238,180,180)"/>
<rect x="427.66" y="273.832" width="9.18" height="2.789" fill="rgb(238,180,180)"/>
<rect x="436.84" y="273.832" width="9.18" height="2.789" fill="rgb(239,185,185)"/>
<rect x="271.60" y="276.621" width="9.18" height="2.789" fill="rgb(171,171,213)"/>
<rect x="280.78" y="276.621" width="9.18" height="2.789" fill="rgb(173,173,214)"/>
<rect x="289.96" y="276.621" width="9.18" height="2.789" fill="rgb(179,179,217)"/>
<rect x="299.14" y="276.621" width="9.18" height="2.789" fill="rgb(251,251,253)"/>
<rect x="308.32" y="276.621" width="9.18" height="2.789" fill="rgb(215,215,235)"/>
<rect x="317.50" y="276.621" width="9.18" height="2.789" fill="rgb(209,209,232)"/>
<rect x="326.68" y="276.621" width="9.18" height="2.789" fill="rgb(183,183,219)"/>
<rect x="335.86" y="276.621" width="9.18" height="2.789" fill="rgb(179,179,217)"/>
<rect x="345.04" y="276.621" width="9.18" height="2.789" fill="rgb(184,184,220)"/>
<rect x="354.22" y="276.621" width="9.18" height="2.789" fill="rgb(208,208,231)"/>
<rect x="363.40" y="276.621" width="9.18" height="2.789" fill="rgb(245,210,210)"/>
<rect x="372.58" y="276.621" width="9.18" height="2.789" fill="rgb(238,182,182)"/>
<rect x="381.76" y="276.621" width="9.18" height="2.789" fill="rgb(231,149,149)"/>
<rect x="390.94" y="276.621" width="9.18" height="2.789" fill="rgb(243,203,203)"/>
<rect x="400.12" y="276.621" width="9.18" height="2.789" fill="rgb(224,120,120)"/>
<rect x="409.30" y="276.621" width="9.18" height="2.789" fill="rgb(238,180,180)"/>
<rect x="418.48" y="276.621" width="9.18" height="2.789" fill="rgb(238,183,183)"/>
<rect x="427.66" y="276.621" width="9.18" height="2.789" fill="rgb(252,243,243)"/>
<rect x="436.84" y="276.621" width="9.18" height="2.789" fill="rgb(236,172,172)"/>
<rect x="271.60" y="279.410" width="9.18" height="2.789" fill="rgb(176,176,216)"/>
<rect x="280.78" y="279.410" width="9.18" height="2.789" fill="rgb(163,163,209)"/>
<rect x="289.96" y="279.410" width="9.18" height="2.789" fill="rgb(182,182,218)"/>
<rect x="299.14" y="279.410" width="9.18" height="2.789" fill="rgb(182,182,218)"/>
<rect x="308.32" y="279.410" width="9.18" height="2.789" fill="rgb(234,234,244)"/>
<rect x="317.50" y="279.410" width="9.18" height="2.789" fill="rgb(177,177,216)"/>
<rect x="326.68" y="279.410" width="9.18" height="2.789" fill="rgb(178,178,217)"/>
<rect x="335.86" y="279.410" width="9.18" height="2.789" fill="rgb(165,165,210)"/>
<rect x="345.04" y="279.410" width="9.18" height="2.789" fill="rgb(211,211,233)"/>
<rect x="354.22" y="279.410" width="9.18" height="2.789" fill="rgb(246,246,250)"/>
<rect x="363.40" y="279.410" width="9.18" height="2.789" fill="rgb(238,179,179)"/>
<rect x="372.58" y="279.410" width="9.18" height="2.789" fill="rgb(239,186,186)"/>
<rect x="381.76" y="279.410" width="9.18" height="2.789" fill="rgb(223,118,118)"/>
<rect x="390.94" y="279.410" width="9.18" height="2.789" fill="rgb(246,215,215)"/>
<rect x="400.12" y="279.410" width="9.18" height="2.789" fill="rgb(237,178,178)"/>
<rect x="409.30" y="279.410" width="9.18" height="2.789" fill="rgb(239,185,185)"/>
<rect x="418.48" y="279.410" width="9.18" height="2.789" fill="rgb(236,174,174)"/>
<rect x="427.66" y="279.410" width="9.18" height="2.789" fill="rgb(253,246,246)"/>
<rect x="436.84" y="279.410" width="9.18" height="2.789" fill="rgb(240,191,191)"/>
<rect x="271.60" y="282.199" width="9.18" height="2.789" fill="rgb(216,216,236)"/>
<rect x="280.78" y="282.199" width="9.18" height="2.789" fill="rgb(208,208,232)"/>
<rect x="289.96" y="282.199" width="9.18" height="2.789" fill="rgb(175,175,215)"/>
<rect x="299.14" y="282.199" width="9.18" height="2.789" fill="rgb(179,179,217)"/>
<rect x="308.32" y="282.199" width="9.18" height="2.789" fill="rgb(168,168,212)"/>
<rect x="317.50" y="282.199" width="9.18" height="2.789" fill="rgb(179,179,217)"/>
<rect x="326.68" y="282.199" width="9.18" height="2.789" fill="rgb(164,164,210)"/>
<rect x="335.86" y="282.199" width="9.18" height="2.789" fill="rgb(172,172,214)"/>
<rect x="345.04" y="282.199" width="9.18" height="2.789" fill="rgb(186,186,220)"/>
<rect x="354.22" y="282.199" width="9.18" height="2.789" fill="rgb(185,185,220)"/>
<rect x="363.40" y="282.199" width="9.18" height="2.789" fill="rgb(238,182,182)"/>
<rect x="372.58" y="282.199" width="9.18" height="2.789" fill="rgb(239,185,185)"/>
<rect x="381.76" y="282.199" width="9.18" height="2.789" fill="rgb(230,145,145)"/>
<rect x="390.94" y="282.199" width="9.18" height="2.789" fill="rgb(253,248,248)"/>
<rect x="400.12" y="282.199" width="9.18" height="2.789" fill="rgb(238,180,180)"/>
<rect x="409.30" y="282.199" width="9.18" height="2.789" fill="rgb(244,209,209)"/>
<rect x="418.48" y="282.199" width="9.18" height="2.789" fill="rgb(232,154,154)"/>
<rect x="427.66" y="282.199" width="9.18" height="2.789" fill="rgb(253,244,244)"/>
<rect x="436.84" y="282.199" width="9.18" height="2.789" fill="rgb(240,191,191)"/>
<rect x="271.60" y="284.988" width="9.18" height="2.789" fill="rgb(186,186,221)"/>
<rect x="280.78" y="284.988" width="9.18" height="2.789" fill="rgb(198,198,227)"/>
<rect x="289.96" y="284.988" width="9.18" height="2.789" fill="rgb(175,175,215)"/>
<rect x="299.14" y="284.988" width="9.18" height="2.789" fill="rgb(239,239,247)"/>
<rect x="308.32" y="284.988" width="9.18" height="2.789" fill="rgb(211,211,233)"/>
<rect x="317.50" y="284.988" width="9.18" height="2.789" fill="rgb(182,182,219)"/>
<rect x="326.68" y="284.988" width="9.18" height="2.789" fill="rgb(209,209,232)"/>
<rect x="335.86" y="284.988" width="9.18" height="2.789" fill="rgb(181,181,218)"/>
<rect x="345.04" y="284.988" width="9.18" height="2.789" fill="rgb(181,181,218)"/>
<rect x="354.22" y="284.988" width="9.18" height="2.789" fill="rgb(178,178,216)"/>
<rect x="363.40" y="284.988" width="9.18" height="2.789" fill="rgb(240,190,190)"/>
<rect x="372.58" y="284.988" width="9.18" height="2.789" fill="rgb(240,192,192)"/>
<rect x="381.76" y="284.988" width="9.18" height="2.789" fill="rgb(225,126,126)"/>
<rect x="390.94" y="284.988" width="9.18" height="2.789" fill="rgb(245,212,212)"/>
<rect x="400.12" y="284.988" width="9.18" height="2.789" fill="rgb(238,182,182)"/>
<rect x="409.30" y="284.988" width="9.18" height="2.789" fill="rgb(238,181,181)"/>
<rect x="418.48" y="284.988" width="9.18" height="2.789" fill="rgb(230,148,148)"/>
<rect x="427.66" y="284.988" width="9.18" height="2.789" fill="rgb(238,182,182)"/>
<rect x="436.84" y="284.988" width="9.18" height="2.789" fill="rgb(239,185,185)"/>
<rect x="271.60" y="287.777" width="9.18" height="2.789" fill="rgb(198,198,227)"/>
<rect x="280.78" y="287.777" width="9.18" height="2.789" fill="rgb(233,233,244)"/>
<rect x="289.96" y="287.777" width="9.18" height="2.789" fill="rgb(185,185,220)"/>
<rect x="299.14" y="287.777" width="9.18" height="2.789" fill="rgb(183,183,219)"/>
<rect x="308.32" y="287.777" width="9.18" height="2.789" fill="rgb(170,170,213)"/>
<rect x="317.50" y="287.777" width="9.18" height="2.789" fill="rgb(205,205,230)"/>
<rect x="326.68" y="287.777" width="9.18" height="2.789" fill="rgb(180,180,218)"/>
<rect x="335.86" y="287.777" width="9.18" height="2.789" fill="rgb(187,187,221)"/>
<rect x="345.04" y="287.777" width="9.18" height="2.789" fill="rgb(175,175,215)"/>
<rect x="354.22" y="287.777" width="9.18" height="2.789" fill="rgb(179,179,217)"/>
<rect x="363.40" y="287.777" width="9.18" height="2.789" fill="rgb(237,175,175)"/>
<rect x="372.58" y="287.777" width="9.18" height="2.789" fill="rgb(233,157,157)"/>
<rect x="381.76" y="287.777" width="9.18" height="2.789" fill="rgb(254,251,251)"/>
<rect x="390.94" y="287.777" width="9.18" height="2.789" fill="rgb(245,212,212)"/>
<rect x="400.12" y="287.777" width="9.18" height="2.789" fill="rgb(239,184,184)"/>
<rect x="409.30" y="287.777" width="9.18" height="2.789" fill="rgb(193,193,224)"/>
<rect x="418.48" y="287.777" width="9.18" height="2.789" fill="rgb(237,176,176)"/>
<rect x="427.66" y="287.777" width="9.18" height="2.789" fill="rgb(238,180,180)"/>
<rect x="436.84" y="287.777" width="9.18" height="2.789" fill="rgb(239,185,185)"/>
<rect x="271.60" y="290.566" width="9.18" height="2.789" fill="rgb(183,183,219)"/>
<rect x="280.78" y="290.566" width="9.18" height="2.789" fill="rgb(182,182,218)"/>
<rect x="289.96" y="290.566" width="9.18" height="2.789" fill="rgb(175,175,215)"/>
<rect x="299.14" y="290.566" width="9.18" height="2.789" fill="rgb(204,204,230)"/>
<rect x="308.32" y="290.566" width="9.18" height="2.789" fill="rgb(170,170,213)"/>
<rect x="317.50" y="290.566" width="9.18" height="2.789" fill="rgb(243,243,249)"/>
<rect x="326.68" y="290.566" width="9.18" height="2.789" fill="rgb(183,183,219)"/>
<rect x="335.86" y="290.566" width="9.18" height="2.789" fill="rgb(184,184,219)"/>
<rect x="345.04" y="290.566" width="9.18" height="2.789" fill="rgb(181,181,218)"/>
<rect x="354.22" y="290.566" width="9.18" height="2.789" fill="rgb(183,183,219)"/>
<rect x="363.40" y="290.566" width="9.18" height="2.789" fill="rgb(239,183,183)"/>
<rect x="372.58" y="290.566" width="9.18" height="2.789" fill="rgb(238,183,183)"/>
<rect x="381.76" y="290.566" width="9.18" height="2.789" fill="rgb(237,175,175)"/>
<rect x="390.94" y="290.566" width="9.18" height="2.789" fill="rgb(245,210,210)"/>
<rect x="400.12" y="290.566" width="9.18" height="2.789" fill="rgb(254,252,252)"/>
<rect x="409.30" y="290.566" width="9.18" height="2.789" fill="rgb(253,246,246)"/>
<rect x="418.48" y="290.566" width="9.18" height="2.789" fill="rgb(237,177,177)"/>
<rect x="427.66" y="290.566" width="9.18" height="2.789" fill="rgb(237,177,177)"/>
<rect x="436.84" y="290.566" width="9.18" height="2.789" fill="rgb(231,149,149)"/>
<rect x="271.60" y="293.355" width="9.18" height="2.789" fill="rgb(240,240,248)"/>
<rect x="280.78" y="293.355" width="9.18" height="2.789" fill="rgb(180,180,218)"/>
<rect x="289.96" y="293.355" width="9.18" height="2.789" fill="rgb(187,187,221)"/>
<rect x="299.14" y="293.355" width="9.18" height="2.789" fill="rgb(179,179,217)"/>
<rect x="308.32" y="293.355" width="9.18" height="2.789" fill="rgb(174,174,215)"/>
<rect x="317.50" y="293.355" width="9.18" height="2.789" fill="rgb(180,180,218)"/>
<rect x="326.68" y="293.355" width="9.18" height="2.789" fill="rgb(171,171,213)"/>
<rect x="335.86" y="293.355" width="9.18" height="2.789" fill="rgb(179,179,217)"/>
<rect x="345.04" y="293.355" width="9.18" height="2.789" fill="rgb(176,176,216)"/>
<rect x="354.22" y="293.355" width="9.18" height="2.789" fill="rgb(183,183,219)"/>
<rect x="363.40" y="293.355" width="9.18" height="2.789" fill="rgb(231,149,149)"/>
<rect x="372.58" y="293.355" width="9.18" height="2.789" fill="rgb(237,176,176)"/>
<rect x="381.76" y="293.355" width="9.18" height="2.789" fill="rgb(235,170,170)"/>
<rect x="390.94" y="293.355" width="9.18" height="2.789" fill="rgb(245,213,213)"/>
<rect x="400.12" y="293.355" width="9.18" height="2.789" fill="rgb(254,252,252)"/>
<rect x="409.30" y="293.355" width="9.18" height="2.789" fill="rgb(237,178,178)"/>
<rect x="418.48" y="293.355" width="9.18" height="2.789" fill="rgb(238,181,181)"/>
<rect x="427.66" y="293.355" width="9.18" height="2.789" fill="rgb(238,180,180)"/>
<rect x="436.84" y="293.355" width="9.18" height="2.789" fill="rgb(231,152,152)"/>
<rect x="271.60" y="296.144" width="9.18" height="2.789" fill="rgb(181,181,218)"/>
<rect x="280.78" y="296.144" width="9.18" height="2.789" fill="rgb(207,207,231)"/>
<rect x="289.96" y="296.144" width="9.18" height="2.789" fill="rgb(195,195,225)"/>
<rect x="299.14" y="296.144" width="9.18" height="2.789" fill="rgb(242,242,248)"/>
<rect x="308.32" y="296.144" width="9.18" height="2.789" fill="rgb(209,209,232)"/>
<rect x="317.50" y="296.144" width="9.18" height="2.789" fill="rgb(185,185,220)"/>
<rect x="326.68" y="296.144" width="9.18" height="2.789" fill="rgb(175,175,215)"/>
<rect x="335.86" y="296.144" width="9.18" height="2.789" fill="rgb(173,173,214)"/>
<rect x="345.04" y="296.144" width="9.18" height="2.789" fill="rgb(184,184,220)"/>
<rect x="354.22" y="296.144" width="9.18" height="2.789" fill="rgb(175,175,215)"/>
<rect x="363.40" y="296.144" width="9.18" height="2.789" fill="rgb(231,149,149)"/>
<rect x="372.58" y="296.144" width="9.18" height="2.789" fill="rgb(237,178,178)"/>
<rect x="381.76" y="296.144" width="9.18" height="2.789" fill="rgb(253,245,245)"/>
<rect x="390.94" y="296.144" width="9.18" height="2.789" fill="rgb(245,212,212)"/>
<rect x="400.12" y="296.144" width="9.18" height="2.789" fill="rgb(239,186,186)"/>
<rect x="409.30" y="296.144" width="9.18" height="2.789" fill="rgb(244,207,207)"/>
<rect x="418.48" y="296.144" width="9.18" height="2.789" fill="rgb(238,183,183)"/>
<rect x="427.66" y="296.144" width="9.18" height="2.789" fill="rgb(231,152,152)"/>
<rect x="436.84" y="296.144" width="9.18" height="2.789" fill="rgb(236,171,171)"/>
<rect x="271.60" y="298.933" width="9.18" height="2.789" fill="rgb(183,183,219)"/>
<rect x="280.78" y="298.933" width="9.18" height="2.789" fill="rgb(172,172,214)"/>
<rect x="289.96" y="298.933" width="9.18" height="2.789" fill="rgb(175,175,215)"/>
<rect x="299.14" y="298.933" width="9.18" height="2.789" fill="rgb(177,177,216)"/>
<rect x="308.32" y="298.933" width="9.18" height="2.789" fill="rgb(239,239,247)"/>
<rect x="317.50" y="298.933" width="9.18" height="2.789" fill="rgb(167,167,211)"/>
<rect x="326.68" y="298.933" width="9.18" height="2.789" fill="rgb(182,182,219)"/>
<rect x="335.86" y="298.933" width="9.18" height="2.789" fill="rgb(182,182,219)"/>
<rect x="345.04" y="298.933" width="9.18" height="2.789" fill="rgb(244,244,250)"/>
<rect x="354.22" y="298.933" width="9.18" height="2.789" fill="rgb(176,176,216)"/>
<rect x="363.40" y="298.933" width="9.18" height="2.789" fill="rgb(238,180,180)"/>
<rect x="372.58" y="298.933" width="9.18" height="2.789" fill="rgb(237,178,178)"/>
<rect x="381.76" y="298.933" width="9.18" height="2.789" fill="rgb(206,206,230)"/>
<rect x="390.94" y="298.933" width="9.18" height="2.789" fill="rgb(238,182,182)"/>
<rect x="400.12" y="298.933" width="9.18" height="2.789" fill="rgb(238,183,183)"/>
<rect x="409.30" y="298.933" width="9.18" height="2.789" fill="rgb(237,177,177)"/>
<rect x="418.48" y="298.933" width="9.18" height="2.789" fill="rgb(238,179,179)"/>
<rect x="427.66" y="298.933" width="9.18" height="2.789" fill="rgb(232,155,155)"/>
<rect x="436.84" y="298.933" width="9.18" height="2.789" fill="rgb(239,184,184)"/>
<rect x="271.60" y="301.722" width="9.18" height="2.789" fill="rgb(188,188,222)"/>
<rect x="280.78" y="301.722" width="9.18" height="2.789" fill="rgb(173,173,214)"/>
<rect x="289.96" y="301.722" width="9.18" height="2.789" fill="rgb(179,179,217)"/>
<rect x="299.14" y="301.722" width="9.18" height="2.789" fill="rgb(174,174,215)"/>
<rect x="308.32" y="301.722" width="9.18" height="2.789" fill="rgb(185,185,220)"/>
<rect x="317.50" y="301.722" width="9.18" height="2.789" fill="rgb(206,206,231)"/>
<rect x="326.68" y="301.722" width="9.18" height="2.789" fill="rgb(204,204,230)"/>
<rect x="335.86" y="301.722" width="9.18" height="2.789" fill="rgb(171,171,213)"/>
<rect x="345.04" y="301.722" width="9.18" height="2.789" fill="rgb(177,177,216)"/>
<rect x="354.22" y="301.722" width="9.18" height="2.789" fill="rgb(183,183,219)"/>
<rect x="363.40" y="301.722" width="9.18" height="2.789" fill="rgb(237,177,177)"/>
<rect x="372.58" y="301.722" width="9.18" height="2.789" fill="rgb(239,187,187)"/>
<rect x="381.76" y="301.722" width="9.18" height="2.789" fill="rgb(236,173,173)"/>
<rect x="390.94" y="301.722" width="9.18" height="2.789" fill="rgb(245,213,213)"/>
<rect x="400.12" y="301.722" width="9.18" height="2.789" fill="rgb(246,217,217)"/>
<rect x="409.30" y="301.722" width="9.18" height="2.789" fill="rgb(238,180,180)"/>
<rect x="418.48" y="301.722" width="9.18" height="2.789" fill="rgb(254,251,251)"/>
<rect x="427.66" y="301.722" width="9.18" height="2.789" fill="rgb(231,152,152)"/>
<rect x="436.84" y="301.722" width="9.18" height="2.789" fill="rgb(239,184,184)"/>
<rect x="271.60" y="304.511" width="9.18" height="2.789" fill="rgb(177,177,216)"/>
<rect x="280.78" y="304.511" width="9.18" height="2.789" fill="rgb(175,175,215)"/>
<rect x="289.96" y="304.511" width="9.18" height="2.789" fill="rgb(168,168,212)"/>
<rect x="299.14" y="304.511" width="9.18" height="2.789" fill="rgb(210,210,232)"/>
<rect x="308.32" y="304.511" width="9.18" height="2.789" fill="rgb(240,240,248)"/>
<rect x="317.50" y="304.511" width="9.18" height="2.789" fill="rgb(185,185,220)"/>
<rect x="326.68" y="304.511" width="9.18" height="2.789" fill="rgb(181,181,218)"/>
<rect x="335.86" y="304.511" width="9.18" height="2.789" fill="rgb(181,181,218)"/>
<rect x="345.04" y="304.511" width="9.18" height="2.789" fill="rgb(179,179,217)"/>
<rect x="354.22" y="304.511" width="9.18" height="2.789" fill="rgb(185,185,220)"/>
<rect x="363.40" y="304.511" width="9.18" height="2.789" fill="rgb(238,182,182)"/>
<rect x="372.58" y="304.511" width="9.18" height="2.789" fill="rgb(239,185,185)"/>
<rect x="381.76" y="304.511" width="9.18" height="2.789" fill="rgb(253,246,246)"/>
<rect x="390.94" y="304.511" width="9.18" height="2.789" fill="rgb(248,248,252)"/>
<rect x="400.12" y="304.511" width="9.18" height="2.789" fill="rgb(254,250,250)"/>
<rect x="409.30" y="304.511" width="9.18" height="2.789" fill="rgb(245,211,211)"/>
<rect x="418.48" y="304.511" width="9.18" height="2.789" fill="rgb(246,214,214)"/>
<rect x="427.66" y="304.511" width="9.18" height="2.789" fill="rgb(229,143,143)"/>
<rect x="436.84" y="304.511" width="9.18" height="2.789" fill="rgb(237,177,177)"/>
</g>
<g stroke="#a8a8a8" stroke-width="0.3">
<rect x="271.60" y="22.1" width="9.18" height="2.7" fill="#3dabb0"/>
<rect x="271.60" y="24.9" width="9.18" height="2.8" fill="#9fbf33"/>
<rect x="280.78" y="22.1" width="9.18" height="2.7" fill="#3dabb0"/>
<rect x="280.78" y="24.9" width="9.18" height="2.8" fill="#9fbf33"/>
<rect x="289.96" y="22.1" width="9.18" height="2.7" fill="#3dabb0"/>
<rect x="289.96" y="24.9" width="9.18" height="2.8" fill="#9fbf33"/>
<rect x="299.14" y="22.1" width="9.18" height="2.7" fill="#3dabb0"/>
<rect x="299.14" y="24.9" width="9.18" height="2.8" fill="#9fbf33"/>
<rect x="308.32" y="22.1" width="9.18" height="2.7" fill="#3dabb0"/>
<rect x="308.32" y="24.9" width="9.18" height="2.8" fill="#c08cca"/>
<rect x="317.50" y="22.1" width="9.18" height="2.7" fill="#3dabb0"/>
<rect x="317.50" y="24.9" width="9.18" height="2.8" fill="#c08cca"/>
<rect x="326.68" y="22.1" width="9.18" height="2.7" fill="#3dabb0"/>
<rect x="326.68" y="24.9" width="9.18" height="2.8" fill="#c08cca"/>
<rect x="335.86" y="22.1" width="9.18" height="2.7" fill="#3dabb0"/>
<rect x="335.86" y="24.9" width="9.18" height="2.8" fill="#9fbf33"/>
<rect x="345.04" y="22.1" width="9.18" height="2.7" fill="#3dabb0"/>
<rect x="345.04" y="24.9" width="9.18" height="2.8" fill="#c08cca"/>
<rect x="354.22" y="22.1" width="9.18" height="2.7" fill="#3dabb0"/>
<rect x="354.22" y="24.9" width="9.18" height="2.8" fill="#c08cca"/>
<rect x="363.40" y="22.1" width="9.18" height="2.7" fill="#e2837b"/>
<rect x="363.40" y="24.9" width="9.18" height="2.8" fill="#c08cca"/>
<rect x="372.58" y="22.1" width="9.18" height="2.7" fill="#e2837b"/>
<rect x="372.58" y="24.9" width="9.18" height="2.8" fill="#c08cca"/>
<rect x="381.76" y="22.1" width="9.18" height="2.7" fill="#e2837b"/>
<rect x="381.76" y="24.9" width="9.18" height="2.8" fill="#9fbf33"/>
<rect x="390.94" y="22.1" width="9.18" height="2.7" fill="#e2837b"/>
<rect x="390.94" y="24.9" width="9.18" height="2.8" fill="#9fbf33"/>
<rect x="400.12" y="22.1" width="9.18" height="2.7" fill="#e2837b"/>
<rect x="400.12" y="24.9" width="9.18" height="2.8" fill="#c08cca"/>
<rect x="409.30" y="22.1" width="9.18" height="2.7" fill="#e2837b"/>
<rect x="409.30" y="24.9" width="9.18" height="2.8" fill="#9fbf33"/>
<rect x="418.48" y="22.1" width="9.18" height="2.7" fill="#e2837b"/>
<rect x="418.48" y="24.9" width="9.18" height="2.8" fill="#c08cca"/>
<rect x="427.66" y="22.1" width="9.18" height="2.7" fill="#e2837b"/>
<rect x="427.66" y="24.9" width="9.18" height="2.8" fill="#c08cca"/>
<rect x="436.84" y="22.1" width="9.18" height="2.7" fill="#e2837b"/>
<rect x="436.84" y="24.9" width="9.18" height="2.8" fill="#9fbf33"/>
</g>
<path d="M276.19 21.60V18.80H285.37V21.60M294.55 21.60V19.30H303.73V21.60M312.91 21.60V18.60H322.09V21.60M299.14 19.30V17.60H317.50V18.60M280.78 18.80V17.10H308.32V17.60M349.63 21.60V19.10H358.81V21.60M340.45 21.60V18.30H354.22V19.10M331.27 21.60V17.50H347.34V18.30M294.55 17.10V16.20H339.30V17.50M377.17 21.60V17.60H386.35V21.60M367.99 21.60V15.80H381.76V17.60M404.71 21.60V17.90H413.89V21.60M395.53 21.60V16.70H409.30V17.90M432.25 21.60V17.60H441.43V21.60M423.07 21.60V15.80H436.84V17.60M402.42 16.70V15.00H429.96V15.80M374.88 15.80V14.50H416.19V15.00M316.93 16.20V6.80H395.53V14.50" fill="none" stroke="#333" stroke-width="0.55"/>
<path d="M271.40 35.37H269.69V38.16H271.40M271.40 32.58H268.85V36.77H269.69M271.40 29.79H268.16V34.68H268.85M271.40 40.95H269.79V43.74H271.40M268.16 32.23H267.63V42.34H269.79M271.40 46.53H269.57V49.32H271.40M271.40 54.90H269.77V57.68H271.40M271.40 52.11H269.10V56.29H269.77M269.57 47.92H268.26V54.20H269.10M271.40 60.47H269.68V63.26H271.40M268.26 51.06H267.60V61.87H269.68M271.40 66.05H269.56V68.84H271.40M269.56 67.45H268.73V71.63H271.40M267.60 56.46H267.08V69.54H268.73M271.40 77.21H269.76V80.00H271.40M271.40 74.42H269.15V78.60H269.76M271.40 82.79H269.78V85.57H271.40M271.40 88.36H269.58V91.15H271.40M271.40 93.94H269.56V96.73H271.40M269.58 89.76H268.72V95.34H269.56M269.78 84.18H267.84V92.55H268.72M269.15 76.51H267.00V88.36H267.84M271.40 102.31H269.65V105.10H271.40M269.65 103.70H268.78V107.89H271.40M271.40 99.52H268.08V105.79H268.78M271.40 113.46H269.69V116.25H271.40M271.40 110.68H269.04V114.86H269.69M271.40 119.04H269.61V121.83H271.40M269.04 112.77H268.54V120.44H269.61M268.08 102.66H267.56V116.60H268.54M271.40 127.41H269.68V130.20H271.40M271.40 124.62H269.09V128.80H269.68M271.40 132.99H269.73V135.78H271.40M269.09 126.71H268.37V134.38H269.73M271.40 141.35H269.61V144.14H271.40M271.40 138.57H269.21V142.75H269.61M271.40 146.93H269.78V149.72H271.40M269.21 140.66H268.45V148.33H269.78M271.40 152.51H269.76V155.30H271.40M269.76 153.91H269.14V158.09H271.40M268.45 144.49H267.75V156.00H269.14M268.37 130.55H266.96V150.24H267.75M267.56 109.63H266.21V140.40H266.96M267.00 82.44H266.00V125.01H266.21M267.08 63.00H266.00V103.72H266.00M267.63 37.29H265.20V83.36H266.00M271.40 163.67H269.63V166.46H271.40M271.40 160.88H269.26V165.06H269.63M269.26 162.97H268.86V169.24H271.40M268.86 166.11H268.59V172.03H271.40M271.40 174.82H269.78V177.61H271.40M271.40 180.40H269.58V183.19H271.40M269.58 181.80H269.10V185.98H271.40M269.78 176.22H268.21V183.89H269.10M268.59 169.07H267.80V180.05H268.21M271.40 194.35H269.60V197.13H271.40M271.40 191.56H268.88V195.74H269.60M271.40 188.77H268.11V193.65H268.88M271.40 199.92H269.63V202.71H271.40M271.40 208.29H269.73V211.08H271.40M271.40 205.50H268.95V209.69H269.73M269.63 201.32H268.43V207.59H268.95M268.11 191.21H267.59V204.46H268.43M267.80 174.56H266.17V197.83H267.59M271.40 216.66H269.78V219.45H271.40M271.40 213.87H268.97V218.05H269.78M271.40 225.02H269.62V227.81H271.40M271.40 222.24H269.19V226.42H269.62M268.97 215.96H268.01V224.33H269.19M271.40 230.60H269.69V233.39H271.40M271.40 236.18H269.67V238.97H271.40M269.69 232.00H268.57V237.58H269.67M271.40 241.76H269.71V244.55H271.40M271.40 247.34H269.68V250.13H271.40M269.71 243.15H268.91V248.73H269.68M271.40 255.70H269.79V258.49H271.40M271.40 252.91H269.01V257.10H269.79M268.91 245.94H268.13V255.01H269.01M268.57 234.79H267.50V250.47H268.13M268.01 220.14H266.64V242.63H267.50M271.40 261.28H269.64V264.07H271.40M271.40 266.86H269.68V269.65H271.40M269.68 268.25H268.95V272.44H271.40M269.64 262.68H268.39V270.35H268.95M271.40 275.23H269.70V278.02H271.40M269.70 276.62H269.03V280.80H271.40M268.39 266.51H267.82V278.71H269.03M271.40 283.59H269.66V286.38H271.40M269.66 284.99H269.15V289.17H271.40M267.82 272.61H266.95V287.08H269.15M271.40 291.96H269.72V294.75H271.40M269.72 293.36H269.02V297.54H271.40M271.40 303.12H269.60V305.91H271.40M271.40 300.33H269.07V304.51H269.60M269.02 295.45H268.03V302.42H269.07M266.95 279.85H266.09V298.93H268.03M266.64 231.39H266.00V289.39H266.09M266.17 186.20H262.60V260.39H266.00M265.20 60.33H256.40V223.29H262.60" fill="none" stroke="#222" stroke-width="0.6"/>
<text x="449" y="30.64" font-size="2.7" fill="#222" stroke="#222" stroke-width="0.1" class="gp">EO-O5SRDBL.J</text>
<text x="449" y="33.43" font-size="2.7" fill="#222" stroke="#222" stroke-width="0.1" class="gp">1-L0JX</text>
<text x="449" y="36.22" font-size="2.7" fill="#222" stroke="#222" stroke-width="0.1" class="gp">C7HNKPP58</text>
<text x="449" y="39.01" font-size="2.7" fill="#222" stroke="#222" stroke-width="0.1" class="gp">91IIEUY</text>
<text x="449" y="41.80" font-size="2.7" fill="#222" stroke="#222" stroke-width="0.1" class="gp">NWWGH04TY1X-</text>
<text x="449" y="44.59" font-size="2.7" fill="#222" stroke="#222" stroke-width="0.1" class="gp">C7XDEOLD</text>
<text x="449" y="47.38" font-size="2.7" fill="#222" stroke="#222" stroke-width="0.1" class="gp">FHJ3KAEMY4</text>
<text x="449" y="50.17" font-size="2.7" fill="#222" stroke="#222" stroke-width="0.1" class="gp">4SXZKXXIFW</text>
<text x="449" y="52.96" font-size="2.7" fill="#222" stroke="#222" stroke-width="0.1" class="gp">ZB207</text>
<text x="449" y="55.75" font-size="2.7" fill="#222" stroke="#222" stroke-width="0.1" class="gp">R8-O</text>
<text x="449" y="58.53" font-size="2.7" fill="#222" stroke="#222" stroke-width="0.1" class="gp">87BDMKEIB5TV</text>
<text x="449" y="61.32" font-size="2.7" fill="#222" stroke="#222" stroke-width="0.1" class="gp">XLA2-WV15-S</text>
<text x="449" y="64.11" font-size="2.7" fill="#222" stroke="#222" stroke-width="0.1" class="gp">SOVC59B</text>
<text x="449" y="66.90" font-size="2.7" fill="#222" stroke="#222" stroke-width="0.1" class="gp">W-JR5DKWY0S</text>
<text x="449" y="69.69" font-size="2.7" fill="#222" stroke="#222" stroke-width="0.1" class="gp">C9BC05O</text>
<text x="449" y="72.48" font-size="2.7" fill="#222" stroke="#222" stroke-width="0.1" class="gp">-JAZNCW</text>
<text x="449" y="75.27" font-size="2.7" fill="#222" stroke="#222" stroke-width="0.1" class="gp">W5F-ZX</text>
<text x="449" y="78.06" font-size="2.7" fill="#222" stroke="#222" stroke-width="0.1" class="gp">AH1UA1W2P</text>
<text x="449" y="80.85" font-size="2.7" fill="#222" stroke="#222" stroke-width="0.1" class="gp">DLATTN</text>
<text x="449" y="83.64" font-size="2.7" fill="#222" stroke="#222" stroke-width="0.1" class="gp">ETJ5J</text>
<text x="449" y="86.42" font-size="2.7" fill="#222" stroke="#222" stroke-width="0.1" class="gp">89Z6</text>
<text x="449" y="89.21" font-size="2.7" fill="#222" stroke="#222" stroke-width="0.1" class="gp">-EWPJZ9</text>
<text x="449" y="92.00" font-size="2.7" fill="#222" stroke="#222" stroke-width="0.1" class="gp">.6H.X8TAGUHD</text>
<text x="449" y="94.79" font-size="2.7" fill="#222" stroke="#222" stroke-width="0.1" class="gp">Z-E-0-22</text>
<text x="449" y="97.58" font-size="2.7" fill="#222" stroke="#222" stroke-width="0.1" class="gp">8RHF281AD</text>
<text x="449" y="100.37" font-size="2.7" fill="#222" stroke="#222" stroke-width="0.1" class="gp">8D5V5ACAW1-</text>
<text x="449" y="103.16" font-size="2.7" fill="#222" stroke="#222" stroke-width="0.1" class="gp">-OI0KKGZVK</text>
<text x="449" y="105.95" font-size="2.7" fill="#222" stroke="#222" stroke-width="0.1" class="gp">BIY-</text>
<text x="449" y="108.74" font-size="2.7" fill="#222" stroke="#222" stroke-width="0.1" class="gp">CB0O</text>
<text x="449" y="111.53" font-size="2.7" fill="#222" stroke="#222" stroke-width="0.1" class="gp">639Z2MDS8D</text>
<text x="449" y="114.31" font-size="2.7" fill="#222" stroke="#222" stroke-width="0.1" class="gp">PSC01F73IKMA</text>
<text x="449" y="117.10" font-size="2.7" fill="#222" stroke="#222" stroke-width="0.1" class="gp">UTBSC9IYB9BE</text>
<text x="449" y="119.89" font-size="2.7" fill="#222" stroke="#222" stroke-width="0.1" class="gp">8MIF1B0KB3</text>
<text x="449" y="122.68" font-size="2.7" fill="#222" stroke="#222" stroke-width="0.1" class="gp">0YGN</text>
<text x="449" y="125.47" font-size="2.7" fill="#222" stroke="#222" stroke-width="0.1" class="gp">2T06</text>
<text x="449" y="128.26" font-size="2.7" fill="#222" stroke="#222" stroke-width="0.1" class="gp">BU7V5527CT0</text>
<text x="449" y="131.05" font-size="2.7" fill="#222" stroke="#222" stroke-width="0.1" class="gp">6X.HIY97LK1T</text>
<text x="449" y="133.84" font-size="2.7" fill="#222" stroke="#222" stroke-width="0.1" class="gp">LZZ7UJ3N</text>
<text x="449" y="136.63" font-size="2.7" fill="#222" stroke="#222" stroke-width="0.1" class="gp">04PK</text>
<text x="449" y="139.42" font-size="2.7" fill="#222" stroke="#222" stroke-width="0.1" class="gp">KFRLL-4FIVLK</text>
<text x="449" y="142.20" font-size="2.7" fill="#222" stroke="#222" stroke-width="0.1" class="gp">5JD5-GP8H</text>
<text x="449" y="144.99" font-size="2.7" fill="#222" stroke="#222" stroke-width="0.1" class="gp">G12E</text>
<text x="449" y="147.78" font-size="2.7" fill="#222" stroke="#222" stroke-width="0.1" class="gp">9ZVZ8LN</text>
<text x="449" y="150.57" font-size="2.7" fill="#222" stroke="#222" stroke-width="0.1" class="gp">XX-Y0NZNYD7U</text>
<text x="449" y="153.36" font-size="2.7" fill="#222" stroke="#222" stroke-width="0.1" class="gp">WKI7LHD3XZ</text>
<text x="449" y="156.15" font-size="2.7" fill="#222" stroke="#222" stroke-width="0.1" class="gp">JE1ZXF</text>
<text x="449" y="158.94" font-size="2.7" fill="#222" stroke="#222" stroke-width="0.1" class="gp">L9KB2FI58F8T</text>
<text x="449" y="161.73" font-size="2.7" fill="#222" stroke="#222" stroke-width="0.1" class="gp">2KF3UDCU8</text>
<text x="449" y="164.52" font-size="2.7" fill="#222" stroke="#222" stroke-width="0.1" class="gp">EM18R4GIP2HO</text>
<text x="449" y="167.31" font-size="2.7" fill="#222" stroke="#222" stroke-width="0.1" class="gp">JV6UR1JASK</text>
<text x="449" y="170.09" font-size="2.7" fill="#222" stroke="#222" stroke-width="0.1" class="gp">F4KK.O72X</text>
<text x="449" y="172.88" font-size="2.7" fill="#222" stroke="#222" stroke-width="0.1" class="gp">Y0.-LT-</text>
<text x="449" y="175.67" font-size="2.7" fill="#222" stroke="#222" stroke-width="0.1" class="gp">TLVEB</text>
<text x="449" y="178.46" font-size="2.7" fill="#222" stroke="#222" stroke-width="0.1" class="gp">OKH8.D4</text>
<text x="449" y="181.25" font-size="2.7" fill="#222" stroke="#222" stroke-width="0.1" class="gp">HIRNJX1</text>
<text x="449" y="184.04" font-size="2.7" fill="#222" stroke="#222" stroke-width="0.1" class="gp">V0XP6FPGWY7O</text>
<text x="449" y="186.83" font-size="2.7" fill="#222" stroke="#222" stroke-width="0.1" class="gp">CB9M802YZPHO</text>
<text x="449" y="189.62" font-size="2.7" fill="#222" stroke="#222" stroke-width="0.1" class="gp">SPB3</text>
<text x="449" y="192.41" font-size="2.7" fill="#222" stroke="#222" stroke-width="0.1" class="gp">UV06EJRL</text>
<text x="449" y="195.20" font-size="2.7" fill="#222" stroke="#222" stroke-width="0.1" class="gp">CDXAIG1VC</text>
<text x="449" y="197.98" font-size="2.7" fill="#222" stroke="#222" stroke-width="0.1" class="gp">H0XCF36</text>
<text x="449" y="200.77" font-size="2.7" fill="#222" stroke="#222" stroke-width="0.1" class="gp">4IY.0BXNVN</text>
<text x="449" y="203.56" font-size="2.7" fill="#222" stroke="#222" stroke-width="0.1" class="gp">WIE7AB</text>
<text x="449" y="206.35" font-size="2.7" fill="#222" stroke="#222" stroke-width="0.1" class="gp">RIONZV3</text>
<text x="449" y="209.14" font-size="2.7" fill="#222" stroke="#222" stroke-width="0.1" class="gp">AXB41ZB1</text>
<text x="449" y="211.93" font-size="2.7" fill="#222" stroke="#222" stroke-width="0.1" class="gp">RLJCMLKBZG</text>
<text x="449" y="214.72" font-size="2.7" fill="#222" stroke="#222" stroke-width="0.1" class="gp">HFYC</text>
<text x="449" y="217.51" font-size="2.7" fill="#222" stroke="#222" stroke-width="0.1" class="gp">BWLX</text>
<text x="449" y="220.30" font-size="2.7" fill="#222" stroke="#222" stroke-width="0.1" class="gp">SN-4GDOO</text>
<text x="449" y="223.09" font-size="2.7" fill="#222" stroke="#222" stroke-width="0.1" class="gp">15.XPSOTF31</text>
<text x="449" y="225.87" font-size="2.7" fill="#222" stroke="#222" stroke-width="0.1" class="gp">LLSV5NC88</text>
<text x="449" y="228.66" font-size="2.7" fill="#222" stroke="#222" stroke-width="0.1" class="gp">VMM9S</text>
<text x="449" y="231.45" font-size="2.7" fill="#222" stroke="#222" stroke-width="0.1" class="gp">WJ3HG8</text>
<text x="449" y="234.24" font-size="2.7" fill="#222" stroke="#222" stroke-width="0.1" class="gp">IE0.</text>
<text x="449" y="237.03" font-size="2.7" fill="#222" stroke="#222" stroke-width="0.1" class="gp">1ILUS</text>
<text x="449" y="239.82" font-size="2.7" fill="#222" stroke="#222" stroke-width="0.1" class="gp">6DAV</text>
<text x="449" y="242.61" font-size="2.7" fill="#222" stroke="#222" stroke-width="0.1" class="gp">04SK-OZ2-SZM</text>
<text x="449" y="245.40" font-size="2.7" fill="#222" stroke="#222" stroke-width="0.1" class="gp">I0D2XSIVGYO</text>
<text x="449" y="248.19" font-size="2.7" fill="#222" stroke="#222" stroke-width="0.1" class="gp">A9Z74</text>
<text x="449" y="250.98" font-size="2.7" fill="#222" stroke="#222" stroke-width="0.1" class="gp">MVEZU0RHIIB</text>
<text x="449" y="253.76" font-size="2.7" fill="#222" stroke="#222" stroke-width="0.1" class="gp">J.6O9WVF683R</text>
<text x="449" y="256.55" font-size="2.7" fill="#222" stroke="#222" stroke-width="0.1" class="gp">Z5FWBC3</text>
<text x="449" y="259.34" font-size="2.7" fill="#222" stroke="#222" stroke-width="0.1" class="gp">BC0E0AP</text>
<text x="449" y="262.13" font-size="2.7" fill="#222" stroke="#222" stroke-width="0.1" class="gp">24ZEY42E</text>
<text x="449" y="264.92" font-size="2.7" fill="#222" stroke="#222" stroke-width="0.1" class="gp">CDAM</text>
<text x="449" y="267.71" font-size="2.7" fill="#222" stroke="#222" stroke-width="0.1" class="gp">Y8F3OH2</text>
<text x="449" y="270.50" font-size="2.7" fill="#222" stroke="#222" stroke-width="0.1" class="gp">1PXDZLEAJ9</text>
<text x="449" y="273.29" font-size="2.7" fill="#222" stroke="#222" stroke-width="0.1" class="gp">2D1SIVKXLJ1</text>
<text x="449" y="276.08" font-size="2.7" fill="#222" stroke="#222" stroke-width="0.1" class="gp">JJ-IJPSNF</text>
<text x="449" y="278.87" font-size="2.7" fill="#222" stroke="#222" stroke-width="0.1" class="gp">0YSS1ARWPCA</text>
<text x="449" y="281.65" font-size="2.7" fill="#222" stroke="#222" stroke-width="0.1" class="gp">IH0TFF-I6</text>
<text x="449" y="284.44" font-size="2.7" fill="#222" stroke="#222" stroke-width="0.1" class="gp">PVIDB</text>
<text x="449" y="287.23" font-size="2.7" fill="#222" stroke="#222" stroke-width="0.1" class="gp">6ILM-F</text>
<text x="449" y="290.02" font-size="2.7" fill="#222" stroke="#222" stroke-width="0.1" class="gp">TNDR6OL8TFA</text>
<text x="449" y="292.81" font-size="2.7" fill="#222" stroke="#222" stroke-width="0.1" class="gp">TC3OFP</text>
<text x="449" y="295.60" font-size="2.7" fill="#222" stroke="#222" stroke-width="0.1" class="gp">7R5CWAYDEXT</text>
<text x="449" y="298.39" font-size="2.7" fill="#222" stroke="#222" stroke-width="0.1" class="gp">JPEGJI20A3</text>
<text x="449" y="301.18" font-size="2.7" fill="#222" stroke="#222" stroke-width="0.1" class="gp">5YXL</text>
<text x="449" y="303.97" font-size="2.7" fill="#222" stroke="#222" stroke-width="0.1" class="gp">1FA5</text>
<text x="449" y="306.76" font-size="2.7" fill="#222" stroke="#222" stroke-width="0.1" class="gp">1FR7T2</text>
<defs><linearGradient id="cb" x1="0" y1="0" x2="0" y2="1"><stop offset="0" stop-color="#c8241c"/><stop offset="0.5" stop-color="#ffffff"/><stop offset="1" stop-color="#1c1a7e"/></linearGradient></defs>
<rect x="472.7" y="21" width="5.5" height="84.2" fill="url(#cb)"/>
<text x="481.3" y="31.8" font-size="3.8" fill="#222" stroke="#222" stroke-width="0.1">3</text>
<text x="481.3" y="42.8" font-size="3.8" fill="#222" stroke="#222" stroke-width="0.1">2</text>
<text x="481.3" y="53.8" font-size="3.8" fill="#222" stroke="#222" stroke-width="0.1">1</text>
<text x="481.3" y="64.8" font-size="3.8" fill="#222" stroke="#222" stroke-width="0.1">0</text>
<text x="480.2" y="75.8" font-size="3.8" fill="#222" stroke="#222" stroke-width="0.1">−1</text>
<text x="480.2" y="86.8" font-size="3.8" fill="#222" stroke="#222" stroke-width="0.1">−2</text>
<text x="480.2" y="97.8" font-size="3.8" fill="#222" stroke="#222" stroke-width="0.1">−3</text>
<text x="488.8" y="23.6" font-size="4.1" font-weight="bold" fill="#111">phenotype</text>
<rect x="489.2" y="27.2" width="8.2" height="8.1" fill="#e2837b"/>
<rect x="489.2" y="35.3" width="8.2" height="8.2" fill="#3dabb0"/>
<text x="499.6" y="32.8" font-size="4" fill="#222" stroke="#222" stroke-width="0.1">AML</text>
<text x="499.6" y="40.8" font-size="4" fill="#222" stroke="#222" stroke-width="0.1">Healthy</text>
<text x="488.8" y="51.8" font-size="4.1" font-weight="bold" fill="#111">gender</text>
<rect x="489.2" y="55.2" width="8.2" height="8.1" fill="#c08cca"/>
<rect x="489.2" y="63.3" width="8.2" height="8.4" fill="#9fbf33"/>
<text x="499.6" y="60.3" font-size="4" fill="#222" stroke="#222" stroke-width="0.1">F</text>
<text x="499.6" y="68.7" font-size="4" fill="#222" stroke="#222" stroke-width="0.1">M</text>
<g fill="#000"><rect x="0" y="0" width="520" height="1"/><rect x="0" y="0" width="1" height="454"/><rect x="518.9" y="0" width="1.1" height="454"/><rect x="0" y="452.7" width="520" height="1.3"/></g>
</svg></body></html>
